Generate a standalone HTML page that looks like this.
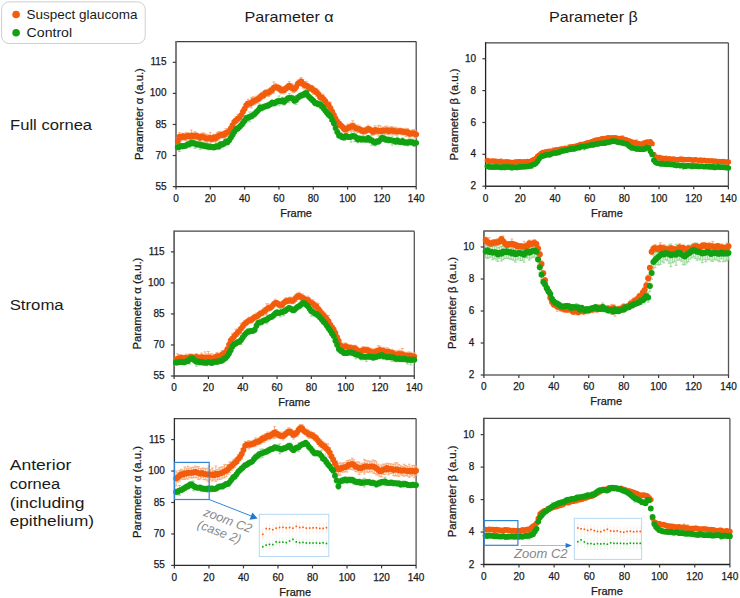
<!DOCTYPE html>
<html><head><meta charset="utf-8"><title>Parameter alpha and beta</title>
<style>
html,body{margin:0;padding:0;background:#fff;width:740px;height:598px;overflow:hidden;position:relative;font-family:"Liberation Sans", sans-serif;}
svg text{font-family:"Liberation Sans", sans-serif;}
</style></head><body>
<svg width="740" height="598" viewBox="0 0 740 598" style="position:absolute;left:0;top:0"><rect x="1.6" y="1.9" width="143.6" height="41.6" rx="7.5" ry="7.5" fill="#fff" stroke="#cfcfcf" stroke-width="1"/><circle cx="16.1" cy="14.5" r="3.8" fill="#f25c0c"/><circle cx="16.1" cy="32.8" r="3.8" fill="#11a011"/><text x="26.6" y="18.6" font-size="13" text-anchor="start" fill="#1a1a1a" textLength="110.8" lengthAdjust="spacingAndGlyphs">Suspect glaucoma</text><text x="26.6" y="37.1" font-size="13" text-anchor="start" fill="#1a1a1a" textLength="45.5" lengthAdjust="spacingAndGlyphs">Control</text><text x="244.4" y="22.3" font-size="15" text-anchor="start" fill="#1a1a1a" textLength="89.2" lengthAdjust="spacingAndGlyphs">Parameter α</text><text x="549.1" y="21.9" font-size="15" text-anchor="start" fill="#1a1a1a" textLength="88.7" lengthAdjust="spacingAndGlyphs">Parameter β</text><text x="10.1" y="130.4" font-size="15.5" text-anchor="start" fill="#1a1a1a" textLength="82" lengthAdjust="spacingAndGlyphs">Full cornea</text><text x="9.7" y="309.8" font-size="15.5" text-anchor="start" fill="#1a1a1a" textLength="54" lengthAdjust="spacingAndGlyphs">Stroma</text><text x="9.7" y="470.0" font-size="15.5" text-anchor="start" fill="#1a1a1a" textLength="61.6" lengthAdjust="spacingAndGlyphs">Anterior</text><text x="9.7" y="488.9" font-size="15.5" text-anchor="start" fill="#1a1a1a" textLength="50.5" lengthAdjust="spacingAndGlyphs">cornea</text><text x="9.7" y="507.6" font-size="15.5" text-anchor="start" fill="#1a1a1a" textLength="74.7" lengthAdjust="spacingAndGlyphs">(including</text><text x="9.7" y="525.9" font-size="15.5" text-anchor="start" fill="#1a1a1a" textLength="84.3" lengthAdjust="spacingAndGlyphs">epithelium)</text><line x1="176.00" y1="41.60" x2="416.20" y2="41.60" stroke="#404040" stroke-width="1.4"/><line x1="416.20" y1="41.60" x2="416.20" y2="186.60" stroke="#505050" stroke-width="1.3"/><line x1="176.00" y1="41.00" x2="176.00" y2="187.20" stroke="#707070" stroke-width="1.8"/><line x1="176.00" y1="186.60" x2="416.20" y2="186.60" stroke="#262626" stroke-width="1.3"/><line x1="172.80" y1="186.60" x2="176.00" y2="186.60" stroke="#3a3a3a" stroke-width="1.2"/><text x="166.5" y="189.6" font-size="10" text-anchor="end" fill="#1a1a1a" stroke="#1a1a1a" stroke-width="0.25">55</text><line x1="172.80" y1="155.53" x2="176.00" y2="155.53" stroke="#3a3a3a" stroke-width="1.2"/><text x="166.5" y="158.5" font-size="10" text-anchor="end" fill="#1a1a1a" stroke="#1a1a1a" stroke-width="0.25">70</text><line x1="172.80" y1="124.46" x2="176.00" y2="124.46" stroke="#3a3a3a" stroke-width="1.2"/><text x="166.5" y="127.5" font-size="10" text-anchor="end" fill="#1a1a1a" stroke="#1a1a1a" stroke-width="0.25">85</text><line x1="172.80" y1="93.39" x2="176.00" y2="93.39" stroke="#3a3a3a" stroke-width="1.2"/><text x="166.5" y="96.4" font-size="10" text-anchor="end" fill="#1a1a1a" stroke="#1a1a1a" stroke-width="0.25">100</text><line x1="172.80" y1="62.31" x2="176.00" y2="62.31" stroke="#3a3a3a" stroke-width="1.2"/><text x="166.5" y="65.3" font-size="10" text-anchor="end" fill="#1a1a1a" stroke="#1a1a1a" stroke-width="0.25">115</text><line x1="176.00" y1="186.60" x2="176.00" y2="189.60" stroke="#3a3a3a" stroke-width="1.2"/><text x="176.0" y="201.9" font-size="10" text-anchor="middle" fill="#1a1a1a" stroke="#1a1a1a" stroke-width="0.25">0</text><line x1="210.31" y1="186.60" x2="210.31" y2="189.60" stroke="#3a3a3a" stroke-width="1.2"/><text x="210.3" y="201.9" font-size="10" text-anchor="middle" fill="#1a1a1a" stroke="#1a1a1a" stroke-width="0.25">20</text><line x1="244.63" y1="186.60" x2="244.63" y2="189.60" stroke="#3a3a3a" stroke-width="1.2"/><text x="244.6" y="201.9" font-size="10" text-anchor="middle" fill="#1a1a1a" stroke="#1a1a1a" stroke-width="0.25">40</text><line x1="278.94" y1="186.60" x2="278.94" y2="189.60" stroke="#3a3a3a" stroke-width="1.2"/><text x="278.9" y="201.9" font-size="10" text-anchor="middle" fill="#1a1a1a" stroke="#1a1a1a" stroke-width="0.25">60</text><line x1="313.26" y1="186.60" x2="313.26" y2="189.60" stroke="#3a3a3a" stroke-width="1.2"/><text x="313.3" y="201.9" font-size="10" text-anchor="middle" fill="#1a1a1a" stroke="#1a1a1a" stroke-width="0.25">80</text><line x1="347.57" y1="186.60" x2="347.57" y2="189.60" stroke="#3a3a3a" stroke-width="1.2"/><text x="347.6" y="201.9" font-size="10" text-anchor="middle" fill="#1a1a1a" stroke="#1a1a1a" stroke-width="0.25">100</text><line x1="381.89" y1="186.60" x2="381.89" y2="189.60" stroke="#3a3a3a" stroke-width="1.2"/><text x="381.9" y="201.9" font-size="10" text-anchor="middle" fill="#1a1a1a" stroke="#1a1a1a" stroke-width="0.25">120</text><line x1="416.20" y1="186.60" x2="416.20" y2="189.60" stroke="#3a3a3a" stroke-width="1.2"/><text x="416.2" y="201.9" font-size="10" text-anchor="middle" fill="#1a1a1a" stroke="#1a1a1a" stroke-width="0.25">140</text><text x="296.1" y="217.0" font-size="11" text-anchor="middle" fill="#1a1a1a" stroke="#1a1a1a" stroke-width="0.25">Frame</text><text x="0" y="0" font-size="11.3" text-anchor="middle" fill="#1a1a1a" stroke="#1a1a1a" stroke-width="0.25" transform="translate(143.0,114.1) rotate(-90)">Parameter α (a.u.)</text><path d="M177.72 137.84V144.65M176.32 137.84h2.8M176.32 144.65h2.8M179.43 132.65V140.85M178.03 132.65h2.8M178.03 140.85h2.8M181.15 134.03V141.13M179.75 134.03h2.8M179.75 141.13h2.8M182.86 133.25V139.26M181.46 133.25h2.8M181.46 139.26h2.8M184.58 133.64V140.39M183.18 133.64h2.8M183.18 140.39h2.8M186.29 132.45V140.59M184.89 132.45h2.8M184.89 140.59h2.8M188.01 132.93V138.75M186.61 132.93h2.8M186.61 138.75h2.8M189.73 133.03V140.32M188.33 133.03h2.8M188.33 140.32h2.8M191.44 130.01V141.33M190.04 130.01h2.8M190.04 141.33h2.8M193.16 132.76V140.04M191.76 132.76h2.8M191.76 140.04h2.8M194.87 131.60V139.85M193.47 131.60h2.8M193.47 139.85h2.8M196.59 132.68V139.19M195.19 132.68h2.8M195.19 139.19h2.8M198.30 133.65V139.89M196.90 133.65h2.8M196.90 139.89h2.8M200.02 134.10V141.39M198.62 134.10h2.8M198.62 141.39h2.8M201.74 133.15V139.86M200.34 133.15h2.8M200.34 139.86h2.8M203.45 132.82V140.92M202.05 132.82h2.8M202.05 140.92h2.8M205.17 133.73V141.95M203.77 133.73h2.8M203.77 141.95h2.8M206.88 134.58V142.69M205.48 134.58h2.8M205.48 142.69h2.8M208.60 134.84V141.25M207.20 134.84h2.8M207.20 141.25h2.8M210.31 132.45V143.23M208.91 132.45h2.8M208.91 143.23h2.8M212.03 136.23V142.07M210.63 136.23h2.8M210.63 142.07h2.8M213.75 134.19V140.70M212.35 134.19h2.8M212.35 140.70h2.8M215.46 134.35V142.87M214.06 134.35h2.8M214.06 142.87h2.8M217.18 132.49V140.95M215.78 132.49h2.8M215.78 140.95h2.8M218.89 131.43V139.94M217.49 131.43h2.8M217.49 139.94h2.8M220.61 131.71V138.11M219.21 131.71h2.8M219.21 138.11h2.8M222.32 131.44V137.77M220.92 131.44h2.8M220.92 137.77h2.8M224.04 131.16V138.71M222.64 131.16h2.8M222.64 138.71h2.8M225.76 128.80V136.98M224.36 128.80h2.8M224.36 136.98h2.8M227.47 128.86V136.50M226.07 128.86h2.8M226.07 136.50h2.8M229.19 127.91V133.91M227.79 127.91h2.8M227.79 133.91h2.8M230.90 123.86V132.24M229.50 123.86h2.8M229.50 132.24h2.8M232.62 121.14V129.06M231.22 121.14h2.8M231.22 129.06h2.8M234.33 118.68V124.96M232.93 118.68h2.8M232.93 124.96h2.8M236.05 116.98V123.69M234.65 116.98h2.8M234.65 123.69h2.8M237.77 114.41V122.97M236.37 114.41h2.8M236.37 122.97h2.8M239.48 114.16V121.08M238.08 114.16h2.8M238.08 121.08h2.8M241.20 111.17V119.02M239.80 111.17h2.8M239.80 119.02h2.8M242.91 108.57V114.69M241.51 108.57h2.8M241.51 114.69h2.8M244.63 104.59V112.96M243.23 104.59h2.8M243.23 112.96h2.8M246.34 102.02V108.20M244.94 102.02h2.8M244.94 108.20h2.8M248.06 99.19V107.77M246.66 99.19h2.8M246.66 107.77h2.8M249.78 100.30V107.07M248.38 100.30h2.8M248.38 107.07h2.8M251.49 97.64V107.78M250.09 97.64h2.8M250.09 107.78h2.8M253.21 96.74V105.29M251.81 96.74h2.8M251.81 105.29h2.8M254.92 97.22V104.50M253.52 97.22h2.8M253.52 104.50h2.8M256.64 96.02V103.03M255.24 96.02h2.8M255.24 103.03h2.8M258.35 94.92V103.06M256.95 94.92h2.8M256.95 103.06h2.8M260.07 94.22V100.70M258.67 94.22h2.8M258.67 100.70h2.8M261.79 92.12V98.57M260.39 92.12h2.8M260.39 98.57h2.8M263.50 92.24V98.75M262.10 92.24h2.8M262.10 98.75h2.8M265.22 89.82V95.95M263.82 89.82h2.8M263.82 95.95h2.8M266.93 89.41V96.18M265.53 89.41h2.8M265.53 96.18h2.8M268.65 89.06V96.50M267.25 89.06h2.8M267.25 96.50h2.8M270.36 87.39V94.37M268.96 87.39h2.8M268.96 94.37h2.8M272.08 86.52V93.72M270.68 86.52h2.8M270.68 93.72h2.8M273.80 81.90V93.17M272.40 81.90h2.8M272.40 93.17h2.8M275.51 83.60V90.63M274.11 83.60h2.8M274.11 90.63h2.8M277.23 84.46V90.24M275.83 84.46h2.8M275.83 90.24h2.8M278.94 85.04V91.30M277.54 85.04h2.8M277.54 91.30h2.8M280.66 86.05V93.90M279.26 86.05h2.8M279.26 93.90h2.8M282.37 86.71V93.41M280.97 86.71h2.8M280.97 93.41h2.8M284.09 86.54V93.90M282.69 86.54h2.8M282.69 93.90h2.8M285.81 85.58V91.64M284.41 85.58h2.8M284.41 91.64h2.8M287.52 83.94V90.42M286.12 83.94h2.8M286.12 90.42h2.8M289.24 81.54V89.52M287.84 81.54h2.8M287.84 89.52h2.8M290.95 83.46V90.84M289.55 83.46h2.8M289.55 90.84h2.8M292.67 84.42V92.81M291.27 84.42h2.8M291.27 92.81h2.8M294.38 85.17V92.70M292.98 85.17h2.8M292.98 92.70h2.8M296.10 83.44V90.68M294.70 83.44h2.8M294.70 90.68h2.8M297.82 80.04V87.10M296.42 80.04h2.8M296.42 87.10h2.8M299.53 78.99V86.13M298.13 78.99h2.8M298.13 86.13h2.8M301.25 77.57V85.34M299.85 77.57h2.8M299.85 85.34h2.8M302.96 79.66V88.14M301.56 79.66h2.8M301.56 88.14h2.8M304.68 81.63V89.00M303.28 81.63h2.8M303.28 89.00h2.8M306.39 81.32V89.50M304.99 81.32h2.8M304.99 89.50h2.8M308.11 83.58V89.69M306.71 83.58h2.8M306.71 89.69h2.8M309.83 85.25V91.22M308.43 85.25h2.8M308.43 91.22h2.8M311.54 85.17V91.14M310.14 85.17h2.8M310.14 91.14h2.8M313.26 86.26V94.28M311.86 86.26h2.8M311.86 94.28h2.8M314.97 87.81V94.02M313.57 87.81h2.8M313.57 94.02h2.8M316.69 88.69V96.35M315.29 88.69h2.8M315.29 96.35h2.8M318.40 89.97V98.27M317.00 89.97h2.8M317.00 98.27h2.8M320.12 94.05V100.44M318.72 94.05h2.8M318.72 100.44h2.8M321.84 94.02V100.93M320.44 94.02h2.8M320.44 100.93h2.8M323.55 94.92V103.53M322.15 94.92h2.8M322.15 103.53h2.8M325.27 97.99V104.21M323.87 97.99h2.8M323.87 104.21h2.8M326.98 100.68V107.92M325.58 100.68h2.8M325.58 107.92h2.8M328.70 101.80V108.12M327.30 101.80h2.8M327.30 108.12h2.8M330.41 102.20V114.04M329.01 102.20h2.8M329.01 114.04h2.8M332.13 107.65V115.00M330.73 107.65h2.8M330.73 115.00h2.8M333.85 112.09V117.90M332.45 112.09h2.8M332.45 117.90h2.8M335.56 114.60V122.15M334.16 114.60h2.8M334.16 122.15h2.8M337.28 119.05V124.99M335.88 119.05h2.8M335.88 124.99h2.8M338.99 119.40V127.43M337.59 119.40h2.8M337.59 127.43h2.8M340.71 122.31V128.37M339.31 122.31h2.8M339.31 128.37h2.8M342.42 123.94V129.82M341.02 123.94h2.8M341.02 129.82h2.8M344.14 125.81V132.35M342.74 125.81h2.8M342.74 132.35h2.8M345.86 126.03V133.01M344.46 126.03h2.8M344.46 133.01h2.8M347.57 124.14V132.26M346.17 124.14h2.8M346.17 132.26h2.8M349.29 124.31V130.50M347.89 124.31h2.8M347.89 130.50h2.8M351.00 122.96V130.36M349.60 122.96h2.8M349.60 130.36h2.8M352.72 120.80V130.82M351.32 120.80h2.8M351.32 130.82h2.8M354.43 123.20V130.94M353.03 123.20h2.8M353.03 130.94h2.8M356.15 125.38V131.35M354.75 125.38h2.8M354.75 131.35h2.8M357.87 125.00V132.58M356.47 125.00h2.8M356.47 132.58h2.8M359.58 126.05V132.05M358.18 126.05h2.8M358.18 132.05h2.8M361.30 127.53V133.49M359.90 127.53h2.8M359.90 133.49h2.8M363.01 127.51V134.58M361.61 127.51h2.8M361.61 134.58h2.8M364.73 127.27V134.62M363.33 127.27h2.8M363.33 134.62h2.8M366.44 126.99V133.52M365.04 126.99h2.8M365.04 133.52h2.8M368.16 125.17V132.45M366.76 125.17h2.8M366.76 132.45h2.8M369.88 126.50V132.58M368.48 126.50h2.8M368.48 132.58h2.8M371.59 127.87V133.77M370.19 127.87h2.8M370.19 133.77h2.8M373.31 128.57V135.23M371.91 128.57h2.8M371.91 135.23h2.8M375.02 125.87V133.82M373.62 125.87h2.8M373.62 133.82h2.8M376.74 127.13V134.33M375.34 127.13h2.8M375.34 134.33h2.8M378.45 125.26V136.02M377.05 125.26h2.8M377.05 136.02h2.8M380.17 125.78V136.26M378.77 125.78h2.8M378.77 136.26h2.8M381.89 127.13V135.00M380.49 127.13h2.8M380.49 135.00h2.8M383.60 127.25V133.56M382.20 127.25h2.8M382.20 133.56h2.8M385.32 126.34V134.79M383.92 126.34h2.8M383.92 134.79h2.8M387.03 126.07V134.18M385.63 126.07h2.8M385.63 134.18h2.8M388.75 127.74V134.93M387.35 127.74h2.8M387.35 134.93h2.8M390.46 126.89V133.79M389.06 126.89h2.8M389.06 133.79h2.8M392.18 126.65V134.39M390.78 126.65h2.8M390.78 134.39h2.8M393.90 127.60V134.35M392.50 127.60h2.8M392.50 134.35h2.8M395.61 127.15V134.95M394.21 127.15h2.8M394.21 134.95h2.8M397.33 128.11V135.04M395.93 128.11h2.8M395.93 135.04h2.8M399.04 128.21V134.13M397.64 128.21h2.8M397.64 134.13h2.8M400.76 128.25V134.22M399.36 128.25h2.8M399.36 134.22h2.8M402.47 128.46V134.96M401.07 128.46h2.8M401.07 134.96h2.8M404.19 128.78V134.78M402.79 128.78h2.8M402.79 134.78h2.8M405.91 128.34V136.61M404.51 128.34h2.8M404.51 136.61h2.8M407.62 128.68V135.25M406.22 128.68h2.8M406.22 135.25h2.8M409.34 130.53V137.14M407.94 130.53h2.8M407.94 137.14h2.8M411.05 130.46V136.67M409.65 130.46h2.8M409.65 136.67h2.8M412.77 129.81V136.32M411.37 129.81h2.8M411.37 136.32h2.8M414.48 129.42V137.98M413.08 129.42h2.8M413.08 137.98h2.8M416.20 131.09V137.55M414.80 131.09h2.8M414.80 137.55h2.8" stroke="#f8a877" stroke-width="0.9" fill="none"/><path d="M177.72 144.61V149.90M176.32 144.61h2.8M176.32 149.90h2.8M179.43 142.41V151.51M178.03 142.41h2.8M178.03 151.51h2.8M181.15 143.58V148.29M179.75 143.58h2.8M179.75 148.29h2.8M182.86 143.68V148.80M181.46 143.68h2.8M181.46 148.80h2.8M184.58 143.42V148.46M183.18 143.42h2.8M183.18 148.46h2.8M186.29 142.55V148.18M184.89 142.55h2.8M184.89 148.18h2.8M188.01 141.54V146.85M186.61 141.54h2.8M186.61 146.85h2.8M189.73 140.88V147.34M188.33 140.88h2.8M188.33 147.34h2.8M191.44 139.64V145.53M190.04 139.64h2.8M190.04 145.53h2.8M193.16 139.79V146.38M191.76 139.79h2.8M191.76 146.38h2.8M194.87 138.28V148.37M193.47 138.28h2.8M193.47 148.37h2.8M196.59 141.38V147.50M195.19 141.38h2.8M195.19 147.50h2.8M198.30 141.27V147.44M196.90 141.27h2.8M196.90 147.44h2.8M200.02 140.21V149.33M198.62 140.21h2.8M198.62 149.33h2.8M201.74 142.13V148.69M200.34 142.13h2.8M200.34 148.69h2.8M203.45 142.64V148.18M202.05 142.64h2.8M202.05 148.18h2.8M205.17 143.60V148.75M203.77 143.60h2.8M203.77 148.75h2.8M206.88 142.87V149.54M205.48 142.87h2.8M205.48 149.54h2.8M208.60 143.76V149.71M207.20 143.76h2.8M207.20 149.71h2.8M210.31 143.86V149.59M208.91 143.86h2.8M208.91 149.59h2.8M212.03 144.57V149.43M210.63 144.57h2.8M210.63 149.43h2.8M213.75 144.98V149.93M212.35 144.98h2.8M212.35 149.93h2.8M215.46 143.94V149.54M214.06 143.94h2.8M214.06 149.54h2.8M217.18 142.92V149.43M215.78 142.92h2.8M215.78 149.43h2.8M218.89 143.81V149.30M217.49 143.81h2.8M217.49 149.30h2.8M220.61 141.78V146.69M219.21 141.78h2.8M219.21 146.69h2.8M222.32 141.86V147.11M220.92 141.86h2.8M220.92 147.11h2.8M224.04 141.09V146.10M222.64 141.09h2.8M222.64 146.10h2.8M225.76 138.89V144.64M224.36 138.89h2.8M224.36 144.64h2.8M227.47 139.07V145.23M226.07 139.07h2.8M226.07 145.23h2.8M229.19 137.46V142.87M227.79 137.46h2.8M227.79 142.87h2.8M230.90 134.89V140.21M229.50 134.89h2.8M229.50 140.21h2.8M232.62 132.42V137.04M231.22 132.42h2.8M231.22 137.04h2.8M234.33 128.53V135.18M232.93 128.53h2.8M232.93 135.18h2.8M236.05 126.33V131.94M234.65 126.33h2.8M234.65 131.94h2.8M237.77 125.28V131.69M236.37 125.28h2.8M236.37 131.69h2.8M239.48 124.33V129.42M238.08 124.33h2.8M238.08 129.42h2.8M241.20 122.40V127.77M239.80 122.40h2.8M239.80 127.77h2.8M242.91 119.53V126.14M241.51 119.53h2.8M241.51 126.14h2.8M244.63 115.49V125.92M243.23 115.49h2.8M243.23 125.92h2.8M246.34 115.82V120.38M244.94 115.82h2.8M244.94 120.38h2.8M248.06 114.51V121.00M246.66 114.51h2.8M246.66 121.00h2.8M249.78 111.91V121.70M248.38 111.91h2.8M248.38 121.70h2.8M251.49 113.57V118.93M250.09 113.57h2.8M250.09 118.93h2.8M253.21 111.68V118.01M251.81 111.68h2.8M251.81 118.01h2.8M254.92 110.47V117.13M253.52 110.47h2.8M253.52 117.13h2.8M256.64 109.45V114.18M255.24 109.45h2.8M255.24 114.18h2.8M258.35 107.23V112.88M256.95 107.23h2.8M256.95 112.88h2.8M260.07 104.13V110.72M258.67 104.13h2.8M258.67 110.72h2.8M261.79 105.11V111.04M260.39 105.11h2.8M260.39 111.04h2.8M263.50 104.18V109.69M262.10 104.18h2.8M262.10 109.69h2.8M265.22 104.13V108.70M263.82 104.13h2.8M263.82 108.70h2.8M266.93 103.27V108.27M265.53 103.27h2.8M265.53 108.27h2.8M268.65 102.27V108.19M267.25 102.27h2.8M267.25 108.19h2.8M270.36 101.86V106.63M268.96 101.86h2.8M268.96 106.63h2.8M272.08 99.73V105.63M270.68 99.73h2.8M270.68 105.63h2.8M273.80 101.03V105.77M272.40 101.03h2.8M272.40 105.77h2.8M275.51 99.78V105.43M274.11 99.78h2.8M274.11 105.43h2.8M277.23 98.78V104.13M275.83 98.78h2.8M275.83 104.13h2.8M278.94 95.97V105.80M277.54 95.97h2.8M277.54 105.80h2.8M280.66 98.75V103.91M279.26 98.75h2.8M279.26 103.91h2.8M282.37 97.17V103.80M280.97 97.17h2.8M280.97 103.80h2.8M284.09 98.68V105.14M282.69 98.68h2.8M282.69 105.14h2.8M285.81 97.57V102.57M284.41 97.57h2.8M284.41 102.57h2.8M287.52 95.39V102.02M286.12 95.39h2.8M286.12 102.02h2.8M289.24 93.41V102.58M287.84 93.41h2.8M287.84 102.58h2.8M290.95 95.06V100.66M289.55 95.06h2.8M289.55 100.66h2.8M292.67 95.67V101.10M291.27 95.67h2.8M291.27 101.10h2.8M294.38 97.83V103.81M292.98 97.83h2.8M292.98 103.81h2.8M296.10 95.46V104.44M294.70 95.46h2.8M294.70 104.44h2.8M297.82 95.15V100.38M296.42 95.15h2.8M296.42 100.38h2.8M299.53 93.24V99.25M298.13 93.24h2.8M298.13 99.25h2.8M301.25 92.31V98.57M299.85 92.31h2.8M299.85 98.57h2.8M302.96 92.14V97.75M301.56 92.14h2.8M301.56 97.75h2.8M304.68 90.36V97.01M303.28 90.36h2.8M303.28 97.01h2.8M306.39 89.79V96.11M304.99 89.79h2.8M304.99 96.11h2.8M308.11 93.30V98.27M306.71 93.30h2.8M306.71 98.27h2.8M309.83 94.99V100.13M308.43 94.99h2.8M308.43 100.13h2.8M311.54 96.40V101.99M310.14 96.40h2.8M310.14 101.99h2.8M313.26 98.27V103.25M311.86 98.27h2.8M311.86 103.25h2.8M314.97 100.03V106.00M313.57 100.03h2.8M313.57 106.00h2.8M316.69 100.67V105.48M315.29 100.67h2.8M315.29 105.48h2.8M318.40 101.91V106.87M317.00 101.91h2.8M317.00 106.87h2.8M320.12 99.84V108.64M318.72 99.84h2.8M318.72 108.64h2.8M321.84 103.74V108.35M320.44 103.74h2.8M320.44 108.35h2.8M323.55 104.89V111.38M322.15 104.89h2.8M322.15 111.38h2.8M325.27 107.55V113.67M323.87 107.55h2.8M323.87 113.67h2.8M326.98 109.43V116.00M325.58 109.43h2.8M325.58 116.00h2.8M328.70 112.30V117.20M327.30 112.30h2.8M327.30 117.20h2.8M330.41 111.28V121.43M329.01 111.28h2.8M329.01 121.43h2.8M332.13 116.80V122.77M330.73 116.80h2.8M330.73 122.77h2.8M333.85 120.53V125.84M332.45 120.53h2.8M332.45 125.84h2.8M335.56 123.55V132.40M334.16 123.55h2.8M334.16 132.40h2.8M337.28 129.43V134.53M335.88 129.43h2.8M335.88 134.53h2.8M338.99 132.17V138.79M337.59 132.17h2.8M337.59 138.79h2.8M340.71 132.23V138.87M339.31 132.23h2.8M339.31 138.87h2.8M342.42 134.56V139.84M341.02 134.56h2.8M341.02 139.84h2.8M344.14 134.22V140.54M342.74 134.22h2.8M342.74 140.54h2.8M345.86 133.68V138.27M344.46 133.68h2.8M344.46 138.27h2.8M347.57 134.11V139.42M346.17 134.11h2.8M346.17 139.42h2.8M349.29 134.54V139.46M347.89 134.54h2.8M347.89 139.46h2.8M351.00 131.61V142.10M349.60 131.61h2.8M349.60 142.10h2.8M352.72 133.14V138.54M351.32 133.14h2.8M351.32 138.54h2.8M354.43 131.37V141.57M353.03 131.37h2.8M353.03 141.57h2.8M356.15 133.04V141.60M354.75 133.04h2.8M354.75 141.60h2.8M357.87 136.33V142.87M356.47 136.33h2.8M356.47 142.87h2.8M359.58 135.63V141.79M358.18 135.63h2.8M358.18 141.79h2.8M361.30 136.95V142.19M359.90 136.95h2.8M359.90 142.19h2.8M363.01 135.66V142.28M361.61 135.66h2.8M361.61 142.28h2.8M364.73 136.91V141.98M363.33 136.91h2.8M363.33 141.98h2.8M366.44 137.06V142.25M365.04 137.06h2.8M365.04 142.25h2.8M368.16 135.65V140.14M366.76 135.65h2.8M366.76 140.14h2.8M369.88 136.63V143.16M368.48 136.63h2.8M368.48 143.16h2.8M371.59 134.80V145.39M370.19 134.80h2.8M370.19 145.39h2.8M373.31 139.03V144.04M371.91 139.03h2.8M371.91 144.04h2.8M375.02 139.35V145.98M373.62 139.35h2.8M373.62 145.98h2.8M376.74 138.74V144.08M375.34 138.74h2.8M375.34 144.08h2.8M378.45 138.85V144.30M377.05 138.85h2.8M377.05 144.30h2.8M380.17 136.52V143.08M378.77 136.52h2.8M378.77 143.08h2.8M381.89 134.80V141.07M380.49 134.80h2.8M380.49 141.07h2.8M383.60 134.91V141.23M382.20 134.91h2.8M382.20 141.23h2.8M385.32 136.47V142.31M383.92 136.47h2.8M383.92 142.31h2.8M387.03 137.17V142.36M385.63 137.17h2.8M385.63 142.36h2.8M388.75 136.83V143.06M387.35 136.83h2.8M387.35 143.06h2.8M390.46 137.60V142.53M389.06 137.60h2.8M389.06 142.53h2.8M392.18 136.03V145.07M390.78 136.03h2.8M390.78 145.07h2.8M393.90 138.34V142.90M392.50 138.34h2.8M392.50 142.90h2.8M395.61 139.08V144.29M394.21 139.08h2.8M394.21 144.29h2.8M397.33 137.06V143.52M395.93 137.06h2.8M395.93 143.52h2.8M399.04 139.22V144.29M397.64 139.22h2.8M397.64 144.29h2.8M400.76 139.70V144.39M399.36 139.70h2.8M399.36 144.39h2.8M402.47 137.89V143.96M401.07 137.89h2.8M401.07 143.96h2.8M404.19 140.04V145.05M402.79 140.04h2.8M402.79 145.05h2.8M405.91 139.39V145.26M404.51 139.39h2.8M404.51 145.26h2.8M407.62 139.76V145.92M406.22 139.76h2.8M406.22 145.92h2.8M409.34 138.92V144.89M407.94 138.92h2.8M407.94 144.89h2.8M411.05 139.01V145.38M409.65 139.01h2.8M409.65 145.38h2.8M412.77 139.43V145.18M411.37 139.43h2.8M411.37 145.18h2.8M414.48 140.41V146.54M413.08 140.41h2.8M413.08 146.54h2.8M416.20 140.29V145.33M414.80 140.29h2.8M414.80 145.33h2.8" stroke="#8fd38f" stroke-width="0.9" fill="none"/><g fill="#f25c0c"><circle cx="177.72" cy="141.25" r="2.9"/><circle cx="179.43" cy="136.75" r="2.9"/><circle cx="181.15" cy="137.58" r="2.9"/><circle cx="182.86" cy="136.25" r="2.9"/><circle cx="184.58" cy="137.01" r="2.9"/><circle cx="186.29" cy="136.52" r="2.9"/><circle cx="188.01" cy="135.84" r="2.9"/><circle cx="189.73" cy="136.68" r="2.9"/><circle cx="191.44" cy="135.67" r="2.9"/><circle cx="193.16" cy="136.40" r="2.9"/><circle cx="194.87" cy="135.73" r="2.9"/><circle cx="196.59" cy="135.94" r="2.9"/><circle cx="198.30" cy="136.77" r="2.9"/><circle cx="200.02" cy="137.74" r="2.9"/><circle cx="201.74" cy="136.51" r="2.9"/><circle cx="203.45" cy="136.87" r="2.9"/><circle cx="205.17" cy="137.84" r="2.9"/><circle cx="206.88" cy="138.63" r="2.9"/><circle cx="208.60" cy="138.05" r="2.9"/><circle cx="210.31" cy="137.84" r="2.9"/><circle cx="212.03" cy="139.15" r="2.9"/><circle cx="213.75" cy="137.44" r="2.9"/><circle cx="215.46" cy="138.61" r="2.9"/><circle cx="217.18" cy="136.72" r="2.9"/><circle cx="218.89" cy="135.68" r="2.9"/><circle cx="220.61" cy="134.91" r="2.9"/><circle cx="222.32" cy="134.61" r="2.9"/><circle cx="224.04" cy="134.94" r="2.9"/><circle cx="225.76" cy="132.89" r="2.9"/><circle cx="227.47" cy="132.68" r="2.9"/><circle cx="229.19" cy="130.91" r="2.9"/><circle cx="230.90" cy="128.05" r="2.9"/><circle cx="232.62" cy="125.10" r="2.9"/><circle cx="234.33" cy="121.82" r="2.9"/><circle cx="236.05" cy="120.33" r="2.9"/><circle cx="237.77" cy="118.69" r="2.9"/><circle cx="239.48" cy="117.62" r="2.9"/><circle cx="241.20" cy="115.09" r="2.9"/><circle cx="242.91" cy="111.63" r="2.9"/><circle cx="244.63" cy="108.77" r="2.9"/><circle cx="246.34" cy="105.11" r="2.9"/><circle cx="248.06" cy="103.48" r="2.9"/><circle cx="249.78" cy="103.68" r="2.9"/><circle cx="251.49" cy="102.71" r="2.9"/><circle cx="253.21" cy="101.02" r="2.9"/><circle cx="254.92" cy="100.86" r="2.9"/><circle cx="256.64" cy="99.53" r="2.9"/><circle cx="258.35" cy="98.99" r="2.9"/><circle cx="260.07" cy="97.46" r="2.9"/><circle cx="261.79" cy="95.34" r="2.9"/><circle cx="263.50" cy="95.49" r="2.9"/><circle cx="265.22" cy="92.89" r="2.9"/><circle cx="266.93" cy="92.79" r="2.9"/><circle cx="268.65" cy="92.78" r="2.9"/><circle cx="270.36" cy="90.88" r="2.9"/><circle cx="272.08" cy="90.12" r="2.9"/><circle cx="273.80" cy="87.54" r="2.9"/><circle cx="275.51" cy="87.11" r="2.9"/><circle cx="277.23" cy="87.35" r="2.9"/><circle cx="278.94" cy="88.17" r="2.9"/><circle cx="280.66" cy="89.98" r="2.9"/><circle cx="282.37" cy="90.06" r="2.9"/><circle cx="284.09" cy="90.22" r="2.9"/><circle cx="285.81" cy="88.61" r="2.9"/><circle cx="287.52" cy="87.18" r="2.9"/><circle cx="289.24" cy="85.53" r="2.9"/><circle cx="290.95" cy="87.15" r="2.9"/><circle cx="292.67" cy="88.62" r="2.9"/><circle cx="294.38" cy="88.94" r="2.9"/><circle cx="296.10" cy="87.06" r="2.9"/><circle cx="297.82" cy="83.57" r="2.9"/><circle cx="299.53" cy="82.56" r="2.9"/><circle cx="301.25" cy="81.45" r="2.9"/><circle cx="302.96" cy="83.90" r="2.9"/><circle cx="304.68" cy="85.31" r="2.9"/><circle cx="306.39" cy="85.41" r="2.9"/><circle cx="308.11" cy="86.64" r="2.9"/><circle cx="309.83" cy="88.23" r="2.9"/><circle cx="311.54" cy="88.15" r="2.9"/><circle cx="313.26" cy="90.27" r="2.9"/><circle cx="314.97" cy="90.92" r="2.9"/><circle cx="316.69" cy="92.52" r="2.9"/><circle cx="318.40" cy="94.12" r="2.9"/><circle cx="320.12" cy="97.24" r="2.9"/><circle cx="321.84" cy="97.48" r="2.9"/><circle cx="323.55" cy="99.23" r="2.9"/><circle cx="325.27" cy="101.10" r="2.9"/><circle cx="326.98" cy="104.30" r="2.9"/><circle cx="328.70" cy="104.96" r="2.9"/><circle cx="330.41" cy="108.12" r="2.9"/><circle cx="332.13" cy="111.33" r="2.9"/><circle cx="333.85" cy="115.00" r="2.9"/><circle cx="335.56" cy="118.38" r="2.9"/><circle cx="337.28" cy="122.02" r="2.9"/><circle cx="338.99" cy="123.42" r="2.9"/><circle cx="340.71" cy="125.34" r="2.9"/><circle cx="342.42" cy="126.88" r="2.9"/><circle cx="344.14" cy="129.08" r="2.9"/><circle cx="345.86" cy="129.52" r="2.9"/><circle cx="347.57" cy="128.20" r="2.9"/><circle cx="349.29" cy="127.41" r="2.9"/><circle cx="351.00" cy="126.66" r="2.9"/><circle cx="352.72" cy="125.81" r="2.9"/><circle cx="354.43" cy="127.07" r="2.9"/><circle cx="356.15" cy="128.36" r="2.9"/><circle cx="357.87" cy="128.79" r="2.9"/><circle cx="359.58" cy="129.05" r="2.9"/><circle cx="361.30" cy="130.51" r="2.9"/><circle cx="363.01" cy="131.05" r="2.9"/><circle cx="364.73" cy="130.94" r="2.9"/><circle cx="366.44" cy="130.26" r="2.9"/><circle cx="368.16" cy="128.81" r="2.9"/><circle cx="369.88" cy="129.54" r="2.9"/><circle cx="371.59" cy="130.82" r="2.9"/><circle cx="373.31" cy="131.90" r="2.9"/><circle cx="375.02" cy="129.85" r="2.9"/><circle cx="376.74" cy="130.73" r="2.9"/><circle cx="378.45" cy="130.64" r="2.9"/><circle cx="380.17" cy="131.02" r="2.9"/><circle cx="381.89" cy="131.06" r="2.9"/><circle cx="383.60" cy="130.41" r="2.9"/><circle cx="385.32" cy="130.57" r="2.9"/><circle cx="387.03" cy="130.12" r="2.9"/><circle cx="388.75" cy="131.33" r="2.9"/><circle cx="390.46" cy="130.34" r="2.9"/><circle cx="392.18" cy="130.52" r="2.9"/><circle cx="393.90" cy="130.97" r="2.9"/><circle cx="395.61" cy="131.05" r="2.9"/><circle cx="397.33" cy="131.58" r="2.9"/><circle cx="399.04" cy="131.17" r="2.9"/><circle cx="400.76" cy="131.24" r="2.9"/><circle cx="402.47" cy="131.71" r="2.9"/><circle cx="404.19" cy="131.78" r="2.9"/><circle cx="405.91" cy="132.47" r="2.9"/><circle cx="407.62" cy="131.97" r="2.9"/><circle cx="409.34" cy="133.83" r="2.9"/><circle cx="411.05" cy="133.57" r="2.9"/><circle cx="412.77" cy="133.06" r="2.9"/><circle cx="414.48" cy="133.70" r="2.9"/><circle cx="416.20" cy="134.32" r="2.9"/></g><g fill="#11a011"><circle cx="177.72" cy="147.26" r="2.9"/><circle cx="179.43" cy="146.96" r="2.9"/><circle cx="181.15" cy="145.94" r="2.9"/><circle cx="182.86" cy="146.24" r="2.9"/><circle cx="184.58" cy="145.94" r="2.9"/><circle cx="186.29" cy="145.37" r="2.9"/><circle cx="188.01" cy="144.19" r="2.9"/><circle cx="189.73" cy="144.11" r="2.9"/><circle cx="191.44" cy="142.59" r="2.9"/><circle cx="193.16" cy="143.09" r="2.9"/><circle cx="194.87" cy="143.33" r="2.9"/><circle cx="196.59" cy="144.44" r="2.9"/><circle cx="198.30" cy="144.35" r="2.9"/><circle cx="200.02" cy="144.77" r="2.9"/><circle cx="201.74" cy="145.41" r="2.9"/><circle cx="203.45" cy="145.41" r="2.9"/><circle cx="205.17" cy="146.18" r="2.9"/><circle cx="206.88" cy="146.21" r="2.9"/><circle cx="208.60" cy="146.74" r="2.9"/><circle cx="210.31" cy="146.73" r="2.9"/><circle cx="212.03" cy="147.00" r="2.9"/><circle cx="213.75" cy="147.46" r="2.9"/><circle cx="215.46" cy="146.74" r="2.9"/><circle cx="217.18" cy="146.18" r="2.9"/><circle cx="218.89" cy="146.55" r="2.9"/><circle cx="220.61" cy="144.24" r="2.9"/><circle cx="222.32" cy="144.49" r="2.9"/><circle cx="224.04" cy="143.59" r="2.9"/><circle cx="225.76" cy="141.77" r="2.9"/><circle cx="227.47" cy="142.15" r="2.9"/><circle cx="229.19" cy="140.17" r="2.9"/><circle cx="230.90" cy="137.55" r="2.9"/><circle cx="232.62" cy="134.73" r="2.9"/><circle cx="234.33" cy="131.85" r="2.9"/><circle cx="236.05" cy="129.14" r="2.9"/><circle cx="237.77" cy="128.49" r="2.9"/><circle cx="239.48" cy="126.88" r="2.9"/><circle cx="241.20" cy="125.09" r="2.9"/><circle cx="242.91" cy="122.84" r="2.9"/><circle cx="244.63" cy="120.71" r="2.9"/><circle cx="246.34" cy="118.10" r="2.9"/><circle cx="248.06" cy="117.75" r="2.9"/><circle cx="249.78" cy="116.80" r="2.9"/><circle cx="251.49" cy="116.25" r="2.9"/><circle cx="253.21" cy="114.84" r="2.9"/><circle cx="254.92" cy="113.80" r="2.9"/><circle cx="256.64" cy="111.82" r="2.9"/><circle cx="258.35" cy="110.06" r="2.9"/><circle cx="260.07" cy="107.43" r="2.9"/><circle cx="261.79" cy="108.07" r="2.9"/><circle cx="263.50" cy="106.93" r="2.9"/><circle cx="265.22" cy="106.42" r="2.9"/><circle cx="266.93" cy="105.77" r="2.9"/><circle cx="268.65" cy="105.23" r="2.9"/><circle cx="270.36" cy="104.24" r="2.9"/><circle cx="272.08" cy="102.68" r="2.9"/><circle cx="273.80" cy="103.40" r="2.9"/><circle cx="275.51" cy="102.60" r="2.9"/><circle cx="277.23" cy="101.45" r="2.9"/><circle cx="278.94" cy="100.88" r="2.9"/><circle cx="280.66" cy="101.33" r="2.9"/><circle cx="282.37" cy="100.48" r="2.9"/><circle cx="284.09" cy="101.91" r="2.9"/><circle cx="285.81" cy="100.07" r="2.9"/><circle cx="287.52" cy="98.70" r="2.9"/><circle cx="289.24" cy="98.00" r="2.9"/><circle cx="290.95" cy="97.86" r="2.9"/><circle cx="292.67" cy="98.39" r="2.9"/><circle cx="294.38" cy="100.82" r="2.9"/><circle cx="296.10" cy="99.95" r="2.9"/><circle cx="297.82" cy="97.77" r="2.9"/><circle cx="299.53" cy="96.25" r="2.9"/><circle cx="301.25" cy="95.44" r="2.9"/><circle cx="302.96" cy="94.95" r="2.9"/><circle cx="304.68" cy="93.68" r="2.9"/><circle cx="306.39" cy="92.95" r="2.9"/><circle cx="308.11" cy="95.79" r="2.9"/><circle cx="309.83" cy="97.56" r="2.9"/><circle cx="311.54" cy="99.20" r="2.9"/><circle cx="313.26" cy="100.76" r="2.9"/><circle cx="314.97" cy="103.02" r="2.9"/><circle cx="316.69" cy="103.08" r="2.9"/><circle cx="318.40" cy="104.39" r="2.9"/><circle cx="320.12" cy="104.24" r="2.9"/><circle cx="321.84" cy="106.04" r="2.9"/><circle cx="323.55" cy="108.14" r="2.9"/><circle cx="325.27" cy="110.61" r="2.9"/><circle cx="326.98" cy="112.71" r="2.9"/><circle cx="328.70" cy="114.75" r="2.9"/><circle cx="330.41" cy="116.35" r="2.9"/><circle cx="332.13" cy="119.79" r="2.9"/><circle cx="333.85" cy="123.18" r="2.9"/><circle cx="335.56" cy="127.98" r="2.9"/><circle cx="337.28" cy="131.98" r="2.9"/><circle cx="338.99" cy="135.48" r="2.9"/><circle cx="340.71" cy="135.55" r="2.9"/><circle cx="342.42" cy="137.20" r="2.9"/><circle cx="344.14" cy="137.38" r="2.9"/><circle cx="345.86" cy="135.98" r="2.9"/><circle cx="347.57" cy="136.76" r="2.9"/><circle cx="349.29" cy="137.00" r="2.9"/><circle cx="351.00" cy="136.85" r="2.9"/><circle cx="352.72" cy="135.84" r="2.9"/><circle cx="354.43" cy="136.47" r="2.9"/><circle cx="356.15" cy="137.32" r="2.9"/><circle cx="357.87" cy="139.60" r="2.9"/><circle cx="359.58" cy="138.71" r="2.9"/><circle cx="361.30" cy="139.57" r="2.9"/><circle cx="363.01" cy="138.97" r="2.9"/><circle cx="364.73" cy="139.44" r="2.9"/><circle cx="366.44" cy="139.66" r="2.9"/><circle cx="368.16" cy="137.90" r="2.9"/><circle cx="369.88" cy="139.90" r="2.9"/><circle cx="371.59" cy="140.09" r="2.9"/><circle cx="373.31" cy="141.53" r="2.9"/><circle cx="375.02" cy="142.66" r="2.9"/><circle cx="376.74" cy="141.41" r="2.9"/><circle cx="378.45" cy="141.57" r="2.9"/><circle cx="380.17" cy="139.80" r="2.9"/><circle cx="381.89" cy="137.93" r="2.9"/><circle cx="383.60" cy="138.07" r="2.9"/><circle cx="385.32" cy="139.39" r="2.9"/><circle cx="387.03" cy="139.76" r="2.9"/><circle cx="388.75" cy="139.94" r="2.9"/><circle cx="390.46" cy="140.06" r="2.9"/><circle cx="392.18" cy="140.55" r="2.9"/><circle cx="393.90" cy="140.62" r="2.9"/><circle cx="395.61" cy="141.68" r="2.9"/><circle cx="397.33" cy="140.29" r="2.9"/><circle cx="399.04" cy="141.76" r="2.9"/><circle cx="400.76" cy="142.05" r="2.9"/><circle cx="402.47" cy="140.92" r="2.9"/><circle cx="404.19" cy="142.54" r="2.9"/><circle cx="405.91" cy="142.33" r="2.9"/><circle cx="407.62" cy="142.84" r="2.9"/><circle cx="409.34" cy="141.91" r="2.9"/><circle cx="411.05" cy="142.19" r="2.9"/><circle cx="412.77" cy="142.31" r="2.9"/><circle cx="414.48" cy="143.47" r="2.9"/><circle cx="416.20" cy="142.81" r="2.9"/></g><line x1="485.60" y1="42.80" x2="728.40" y2="42.80" stroke="#444" stroke-width="1.3"/><line x1="728.40" y1="42.80" x2="728.40" y2="186.20" stroke="#555" stroke-width="1.3"/><line x1="485.60" y1="42.20" x2="485.60" y2="186.80" stroke="#222" stroke-width="1.3"/><line x1="485.60" y1="186.20" x2="728.40" y2="186.20" stroke="#333" stroke-width="1.5"/><line x1="482.40" y1="186.20" x2="485.60" y2="186.20" stroke="#3a3a3a" stroke-width="1.2"/><text x="476.1" y="189.2" font-size="10" text-anchor="end" fill="#1a1a1a" stroke="#1a1a1a" stroke-width="0.25">2</text><line x1="482.40" y1="154.33" x2="485.60" y2="154.33" stroke="#3a3a3a" stroke-width="1.2"/><text x="476.1" y="157.3" font-size="10" text-anchor="end" fill="#1a1a1a" stroke="#1a1a1a" stroke-width="0.25">4</text><line x1="482.40" y1="122.47" x2="485.60" y2="122.47" stroke="#3a3a3a" stroke-width="1.2"/><text x="476.1" y="125.5" font-size="10" text-anchor="end" fill="#1a1a1a" stroke="#1a1a1a" stroke-width="0.25">6</text><line x1="482.40" y1="90.60" x2="485.60" y2="90.60" stroke="#3a3a3a" stroke-width="1.2"/><text x="476.1" y="93.6" font-size="10" text-anchor="end" fill="#1a1a1a" stroke="#1a1a1a" stroke-width="0.25">8</text><line x1="482.40" y1="58.73" x2="485.60" y2="58.73" stroke="#3a3a3a" stroke-width="1.2"/><text x="476.1" y="61.7" font-size="10" text-anchor="end" fill="#1a1a1a" stroke="#1a1a1a" stroke-width="0.25">10</text><line x1="485.60" y1="186.20" x2="485.60" y2="189.20" stroke="#3a3a3a" stroke-width="1.2"/><text x="485.6" y="201.5" font-size="10" text-anchor="middle" fill="#1a1a1a" stroke="#1a1a1a" stroke-width="0.25">0</text><line x1="520.29" y1="186.20" x2="520.29" y2="189.20" stroke="#3a3a3a" stroke-width="1.2"/><text x="520.3" y="201.5" font-size="10" text-anchor="middle" fill="#1a1a1a" stroke="#1a1a1a" stroke-width="0.25">20</text><line x1="554.97" y1="186.20" x2="554.97" y2="189.20" stroke="#3a3a3a" stroke-width="1.2"/><text x="555.0" y="201.5" font-size="10" text-anchor="middle" fill="#1a1a1a" stroke="#1a1a1a" stroke-width="0.25">40</text><line x1="589.66" y1="186.20" x2="589.66" y2="189.20" stroke="#3a3a3a" stroke-width="1.2"/><text x="589.7" y="201.5" font-size="10" text-anchor="middle" fill="#1a1a1a" stroke="#1a1a1a" stroke-width="0.25">60</text><line x1="624.34" y1="186.20" x2="624.34" y2="189.20" stroke="#3a3a3a" stroke-width="1.2"/><text x="624.3" y="201.5" font-size="10" text-anchor="middle" fill="#1a1a1a" stroke="#1a1a1a" stroke-width="0.25">80</text><line x1="659.03" y1="186.20" x2="659.03" y2="189.20" stroke="#3a3a3a" stroke-width="1.2"/><text x="659.0" y="201.5" font-size="10" text-anchor="middle" fill="#1a1a1a" stroke="#1a1a1a" stroke-width="0.25">100</text><line x1="693.71" y1="186.20" x2="693.71" y2="189.20" stroke="#3a3a3a" stroke-width="1.2"/><text x="693.7" y="201.5" font-size="10" text-anchor="middle" fill="#1a1a1a" stroke="#1a1a1a" stroke-width="0.25">120</text><line x1="728.40" y1="186.20" x2="728.40" y2="189.20" stroke="#3a3a3a" stroke-width="1.2"/><text x="728.4" y="201.5" font-size="10" text-anchor="middle" fill="#1a1a1a" stroke="#1a1a1a" stroke-width="0.25">140</text><text x="607.0" y="216.6" font-size="11" text-anchor="middle" fill="#1a1a1a" stroke="#1a1a1a" stroke-width="0.25">Frame</text><text x="0" y="0" font-size="11.3" text-anchor="middle" fill="#1a1a1a" stroke="#1a1a1a" stroke-width="0.25" transform="translate(458.1,114.5) rotate(-90)">Parameter β (a.u.)</text><path d="M487.33 159.20V161.85M485.93 159.20h2.8M485.93 161.85h2.8M489.07 160.06V162.42M487.67 160.06h2.8M487.67 162.42h2.8M490.80 159.95V162.32M489.40 159.95h2.8M489.40 162.32h2.8M492.54 160.04V162.09M491.14 160.04h2.8M491.14 162.09h2.8M494.27 160.25V162.26M492.87 160.25h2.8M492.87 162.26h2.8M496.01 158.66V165.07M494.61 158.66h2.8M494.61 165.07h2.8M497.74 160.35V162.88M496.34 160.35h2.8M496.34 162.88h2.8M499.47 160.14V162.76M498.07 160.14h2.8M498.07 162.76h2.8M501.21 158.76V165.18M499.81 158.76h2.8M499.81 165.18h2.8M502.94 160.70V163.11M501.54 160.70h2.8M501.54 163.11h2.8M504.68 160.82V163.65M503.28 160.82h2.8M503.28 163.65h2.8M506.41 160.21V162.96M505.01 160.21h2.8M505.01 162.96h2.8M508.15 160.63V163.25M506.75 160.63h2.8M506.75 163.25h2.8M509.88 161.22V163.33M508.48 161.22h2.8M508.48 163.33h2.8M511.61 161.16V163.55M510.21 161.16h2.8M510.21 163.55h2.8M513.35 161.07V163.87M511.95 161.07h2.8M511.95 163.87h2.8M515.08 160.49V163.17M513.68 160.49h2.8M513.68 163.17h2.8M516.82 160.95V162.93M515.42 160.95h2.8M515.42 162.93h2.8M518.55 160.38V163.02M517.15 160.38h2.8M517.15 163.02h2.8M520.29 160.27V163.05M518.89 160.27h2.8M518.89 163.05h2.8M522.02 160.83V163.54M520.62 160.83h2.8M520.62 163.54h2.8M523.75 160.57V162.97M522.35 160.57h2.8M522.35 162.97h2.8M525.49 160.89V163.01M524.09 160.89h2.8M524.09 163.01h2.8M527.22 160.20V162.61M525.82 160.20h2.8M525.82 162.61h2.8M528.96 160.73V162.68M527.56 160.73h2.8M527.56 162.68h2.8M530.69 160.23V162.31M529.29 160.23h2.8M529.29 162.31h2.8M532.43 158.81V161.39M531.03 158.81h2.8M531.03 161.39h2.8M534.16 158.33V160.41M532.76 158.33h2.8M532.76 160.41h2.8M535.89 157.34V159.37M534.49 157.34h2.8M534.49 159.37h2.8M537.63 154.93V157.46M536.23 154.93h2.8M536.23 157.46h2.8M539.36 153.63V156.39M537.96 153.63h2.8M537.96 156.39h2.8M541.10 152.22V154.70M539.70 152.22h2.8M539.70 154.70h2.8M542.83 151.51V153.53M541.43 151.51h2.8M541.43 153.53h2.8M544.57 151.04V153.57M543.17 151.04h2.8M543.17 153.57h2.8M546.30 150.44V153.13M544.90 150.44h2.8M544.90 153.13h2.8M548.03 150.07V152.94M546.63 150.07h2.8M546.63 152.94h2.8M549.77 150.07V152.34M548.37 150.07h2.8M548.37 152.34h2.8M551.50 149.99V152.33M550.10 149.99h2.8M550.10 152.33h2.8M553.24 147.57V154.20M551.84 147.57h2.8M551.84 154.20h2.8M554.97 148.86V151.56M553.57 148.86h2.8M553.57 151.56h2.8M556.71 148.47V151.00M555.31 148.47h2.8M555.31 151.00h2.8M558.44 148.43V150.91M557.04 148.43h2.8M557.04 150.91h2.8M560.17 146.53V152.75M558.77 146.53h2.8M558.77 152.75h2.8M561.91 147.95V149.90M560.51 147.95h2.8M560.51 149.90h2.8M563.64 147.45V149.97M562.24 147.45h2.8M562.24 149.97h2.8M565.38 147.10V149.51M563.98 147.10h2.8M563.98 149.51h2.8M567.11 147.44V149.49M565.71 147.44h2.8M565.71 149.49h2.8M568.85 144.60V151.15M567.45 144.60h2.8M567.45 151.15h2.8M570.58 146.09V148.02M569.18 146.09h2.8M569.18 148.02h2.8M572.31 145.64V147.66M570.91 145.64h2.8M570.91 147.66h2.8M574.05 145.39V147.52M572.65 145.39h2.8M572.65 147.52h2.8M575.78 144.90V147.39M574.38 144.90h2.8M574.38 147.39h2.8M577.52 144.52V147.04M576.12 144.52h2.8M576.12 147.04h2.8M579.25 143.89V145.93M577.85 143.89h2.8M577.85 145.93h2.8M580.99 143.46V145.61M579.59 143.46h2.8M579.59 145.61h2.8M582.72 143.52V145.53M581.32 143.52h2.8M581.32 145.53h2.8M584.45 142.49V145.24M583.05 142.49h2.8M583.05 145.24h2.8M586.19 142.12V144.43M584.79 142.12h2.8M584.79 144.43h2.8M587.92 141.77V143.70M586.52 141.77h2.8M586.52 143.70h2.8M589.66 141.46V143.92M588.26 141.46h2.8M588.26 143.92h2.8M591.39 140.35V142.89M589.99 140.35h2.8M589.99 142.89h2.8M593.13 139.86V142.68M591.73 139.86h2.8M591.73 142.68h2.8M594.86 139.46V141.62M593.46 139.46h2.8M593.46 141.62h2.8M596.59 139.05V141.01M595.19 139.05h2.8M595.19 141.01h2.8M598.33 138.67V140.98M596.93 138.67h2.8M596.93 140.98h2.8M600.06 138.40V140.38M598.66 138.40h2.8M598.66 140.38h2.8M601.80 137.75V139.68M600.40 137.75h2.8M600.40 139.68h2.8M603.53 136.99V139.82M602.13 136.99h2.8M602.13 139.82h2.8M605.27 137.60V139.71M603.87 137.60h2.8M603.87 139.71h2.8M607.00 136.86V139.27M605.60 136.86h2.8M605.60 139.27h2.8M608.73 136.38V139.08M607.33 136.38h2.8M607.33 139.08h2.8M610.47 137.17V139.38M609.07 137.17h2.8M609.07 139.38h2.8M612.20 136.74V138.70M610.80 136.74h2.8M610.80 138.70h2.8M613.94 136.53V139.20M612.54 136.53h2.8M612.54 139.20h2.8M615.67 136.84V138.77M614.27 136.84h2.8M614.27 138.77h2.8M617.41 137.17V139.80M616.01 137.17h2.8M616.01 139.80h2.8M619.14 137.12V139.76M617.74 137.12h2.8M617.74 139.76h2.8M620.87 137.43V139.56M619.47 137.43h2.8M619.47 139.56h2.8M622.61 135.60V141.74M621.21 135.60h2.8M621.21 141.74h2.8M624.34 138.27V140.51M622.94 138.27h2.8M622.94 140.51h2.8M626.08 138.46V141.05M624.68 138.46h2.8M624.68 141.05h2.8M627.81 139.39V142.00M626.41 139.39h2.8M626.41 142.00h2.8M629.55 139.63V142.08M628.15 139.63h2.8M628.15 142.08h2.8M631.28 140.54V143.22M629.88 140.54h2.8M629.88 143.22h2.8M633.01 141.11V143.28M631.61 141.11h2.8M631.61 143.28h2.8M634.75 141.40V144.24M633.35 141.40h2.8M633.35 144.24h2.8M636.48 139.67V146.43M635.08 139.67h2.8M635.08 146.43h2.8M638.22 142.43V144.60M636.82 142.43h2.8M636.82 144.60h2.8M639.95 142.71V145.35M638.55 142.71h2.8M638.55 145.35h2.8M641.69 143.36V146.00M640.29 143.36h2.8M640.29 146.00h2.8M643.42 141.89V144.65M642.02 141.89h2.8M642.02 144.65h2.8M645.15 141.51V143.66M643.75 141.51h2.8M643.75 143.66h2.8M646.89 140.70V143.22M645.49 140.70h2.8M645.49 143.22h2.8M648.62 140.94V143.50M647.22 140.94h2.8M647.22 143.50h2.8M650.36 140.55V142.92M648.96 140.55h2.8M648.96 142.92h2.8M652.09 142.37V144.96M650.69 142.37h2.8M650.69 144.96h2.8M653.83 153.31V155.65M652.43 153.31h2.8M652.43 155.65h2.8M655.56 155.80V158.27M654.16 155.80h2.8M654.16 158.27h2.8M657.29 156.36V158.49M655.89 156.36h2.8M655.89 158.49h2.8M659.03 156.55V158.55M657.63 156.55h2.8M657.63 158.55h2.8M660.76 155.41V161.47M659.36 155.41h2.8M659.36 161.47h2.8M662.50 157.20V159.22M661.10 157.20h2.8M661.10 159.22h2.8M664.23 157.69V159.94M662.83 157.69h2.8M662.83 159.94h2.8M665.97 155.79V161.74M664.57 155.79h2.8M664.57 161.74h2.8M667.70 157.82V160.41M666.30 157.82h2.8M666.30 160.41h2.8M669.43 157.47V160.06M668.03 157.47h2.8M668.03 160.06h2.8M671.17 158.39V160.37M669.77 158.39h2.8M669.77 160.37h2.8M672.90 157.87V160.14M671.50 157.87h2.8M671.50 160.14h2.8M674.64 157.88V160.58M673.24 157.88h2.8M673.24 160.58h2.8M676.37 158.67V160.65M674.97 158.67h2.8M674.97 160.65h2.8M678.11 158.32V161.12M676.71 158.32h2.8M676.71 161.12h2.8M679.84 158.26V160.28M678.44 158.26h2.8M678.44 160.28h2.8M681.57 156.33V162.36M680.17 156.33h2.8M680.17 162.36h2.8M683.31 158.18V160.91M681.91 158.18h2.8M681.91 160.91h2.8M685.04 158.42V160.95M683.64 158.42h2.8M683.64 160.95h2.8M686.78 158.36V160.89M685.38 158.36h2.8M685.38 160.89h2.8M688.51 158.46V160.48M687.11 158.46h2.8M687.11 160.48h2.8M690.25 158.29V160.94M688.85 158.29h2.8M688.85 160.94h2.8M691.98 158.94V161.16M690.58 158.94h2.8M690.58 161.16h2.8M693.71 159.27V161.21M692.31 159.27h2.8M692.31 161.21h2.8M695.45 158.50V160.70M694.05 158.50h2.8M694.05 160.70h2.8M697.18 158.95V161.23M695.78 158.95h2.8M695.78 161.23h2.8M698.92 158.94V161.79M697.52 158.94h2.8M697.52 161.79h2.8M700.65 158.54V161.27M699.25 158.54h2.8M699.25 161.27h2.8M702.39 159.69V161.64M700.99 159.69h2.8M700.99 161.64h2.8M704.12 159.04V161.37M702.72 159.04h2.8M702.72 161.37h2.8M705.85 159.58V161.83M704.45 159.58h2.8M704.45 161.83h2.8M707.59 159.57V162.00M706.19 159.57h2.8M706.19 162.00h2.8M709.32 159.59V162.34M707.92 159.59h2.8M707.92 162.34h2.8M711.06 159.47V162.18M709.66 159.47h2.8M709.66 162.18h2.8M712.79 160.07V162.00M711.39 160.07h2.8M711.39 162.00h2.8M714.53 159.96V162.61M713.13 159.96h2.8M713.13 162.61h2.8M716.26 160.31V162.24M714.86 160.31h2.8M714.86 162.24h2.8M717.99 160.38V162.78M716.59 160.38h2.8M716.59 162.78h2.8M719.73 160.48V162.58M718.33 160.48h2.8M718.33 162.58h2.8M721.46 160.51V162.77M720.06 160.51h2.8M720.06 162.77h2.8M723.20 160.34V162.51M721.80 160.34h2.8M721.80 162.51h2.8M724.93 160.92V163.12M723.53 160.92h2.8M723.53 163.12h2.8M726.67 160.74V163.33M725.27 160.74h2.8M725.27 163.33h2.8M728.40 160.93V162.96M727.00 160.93h2.8M727.00 162.96h2.8" stroke="#f8a877" stroke-width="0.9" fill="none"/><path d="M487.33 165.14V167.39M485.93 165.14h2.8M485.93 167.39h2.8M489.07 165.85V167.98M487.67 165.85h2.8M487.67 167.98h2.8M490.80 165.52V168.34M489.40 165.52h2.8M489.40 168.34h2.8M492.54 166.02V168.15M491.14 166.02h2.8M491.14 168.15h2.8M494.27 165.89V168.19M492.87 165.89h2.8M492.87 168.19h2.8M496.01 165.88V167.93M494.61 165.88h2.8M494.61 167.93h2.8M497.74 165.67V168.37M496.34 165.67h2.8M496.34 168.37h2.8M499.47 165.86V168.23M498.07 165.86h2.8M498.07 168.23h2.8M501.21 166.41V168.54M499.81 166.41h2.8M499.81 168.54h2.8M502.94 165.73V167.99M501.54 165.73h2.8M501.54 167.99h2.8M504.68 166.18V168.89M503.28 166.18h2.8M503.28 168.89h2.8M506.41 165.69V168.06M505.01 165.69h2.8M505.01 168.06h2.8M508.15 165.82V168.27M506.75 165.82h2.8M506.75 168.27h2.8M509.88 165.76V168.48M508.48 165.76h2.8M508.48 168.48h2.8M511.61 166.29V169.03M510.21 166.29h2.8M510.21 169.03h2.8M513.35 166.23V168.51M511.95 166.23h2.8M511.95 168.51h2.8M515.08 166.14V168.47M513.68 166.14h2.8M513.68 168.47h2.8M516.82 166.59V168.52M515.42 166.59h2.8M515.42 168.52h2.8M518.55 165.79V167.98M517.15 165.79h2.8M517.15 167.98h2.8M520.29 165.80V168.01M518.89 165.80h2.8M518.89 168.01h2.8M522.02 165.65V167.98M520.62 165.65h2.8M520.62 167.98h2.8M523.75 165.56V168.11M522.35 165.56h2.8M522.35 168.11h2.8M525.49 165.28V168.09M524.09 165.28h2.8M524.09 168.09h2.8M527.22 165.46V167.43M525.82 165.46h2.8M525.82 167.43h2.8M528.96 164.66V167.45M527.56 164.66h2.8M527.56 167.45h2.8M530.69 164.85V166.91M529.29 164.85h2.8M529.29 166.91h2.8M532.43 161.60V168.12M531.03 161.60h2.8M531.03 168.12h2.8M534.16 163.46V165.39M532.76 163.46h2.8M532.76 165.39h2.8M535.89 162.03V164.58M534.49 162.03h2.8M534.49 164.58h2.8M537.63 160.30V162.32M536.23 160.30h2.8M536.23 162.32h2.8M539.36 157.49V159.63M537.96 157.49h2.8M537.96 159.63h2.8M541.10 155.36V157.61M539.70 155.36h2.8M539.70 157.61h2.8M542.83 154.57V157.36M541.43 154.57h2.8M541.43 157.36h2.8M544.57 154.43V156.51M543.17 154.43h2.8M543.17 156.51h2.8M546.30 153.52V156.03M544.90 153.52h2.8M544.90 156.03h2.8M548.03 153.43V155.99M546.63 153.43h2.8M546.63 155.99h2.8M549.77 153.37V156.05M548.37 153.37h2.8M548.37 156.05h2.8M551.50 152.73V154.84M550.10 152.73h2.8M550.10 154.84h2.8M553.24 152.10V154.53M551.84 152.10h2.8M551.84 154.53h2.8M554.97 151.80V154.14M553.57 151.80h2.8M553.57 154.14h2.8M556.71 151.63V154.08M555.31 151.63h2.8M555.31 154.08h2.8M558.44 151.46V153.60M557.04 151.46h2.8M557.04 153.60h2.8M560.17 148.34V154.74M558.77 148.34h2.8M558.77 154.74h2.8M561.91 149.92V152.29M560.51 149.92h2.8M560.51 152.29h2.8M563.64 149.55V151.94M562.24 149.55h2.8M562.24 151.94h2.8M565.38 149.15V151.59M563.98 149.15h2.8M563.98 151.59h2.8M567.11 149.13V151.05M565.71 149.13h2.8M565.71 151.05h2.8M568.85 148.21V150.58M567.45 148.21h2.8M567.45 150.58h2.8M570.58 147.87V150.43M569.18 147.87h2.8M569.18 150.43h2.8M572.31 147.51V149.79M570.91 147.51h2.8M570.91 149.79h2.8M574.05 147.47V150.32M572.65 147.47h2.8M572.65 150.32h2.8M575.78 147.05V149.58M574.38 147.05h2.8M574.38 149.58h2.8M577.52 146.45V148.40M576.12 146.45h2.8M576.12 148.40h2.8M579.25 146.44V149.02M577.85 146.44h2.8M577.85 149.02h2.8M580.99 145.54V147.78M579.59 145.54h2.8M579.59 147.78h2.8M582.72 145.30V147.71M581.32 145.30h2.8M581.32 147.71h2.8M584.45 143.21V149.99M583.05 143.21h2.8M583.05 149.99h2.8M586.19 144.81V147.42M584.79 144.81h2.8M584.79 147.42h2.8M587.92 144.67V146.91M586.52 144.67h2.8M586.52 146.91h2.8M589.66 144.14V146.41M588.26 144.14h2.8M588.26 146.41h2.8M591.39 143.60V146.03M589.99 143.60h2.8M589.99 146.03h2.8M593.13 143.83V145.95M591.73 143.83h2.8M591.73 145.95h2.8M594.86 143.03V145.36M593.46 143.03h2.8M593.46 145.36h2.8M596.59 142.64V145.36M595.19 142.64h2.8M595.19 145.36h2.8M598.33 142.52V145.23M596.93 142.52h2.8M596.93 145.23h2.8M600.06 142.11V144.52M598.66 142.11h2.8M598.66 144.52h2.8M601.80 142.08V144.49M600.40 142.08h2.8M600.40 144.49h2.8M603.53 142.00V144.55M602.13 142.00h2.8M602.13 144.55h2.8M605.27 141.76V144.00M603.87 141.76h2.8M603.87 144.00h2.8M607.00 141.30V143.50M605.60 141.30h2.8M605.60 143.50h2.8M608.73 140.92V143.45M607.33 140.92h2.8M607.33 143.45h2.8M610.47 140.75V142.71M609.07 140.75h2.8M609.07 142.71h2.8M612.20 139.76V142.53M610.80 139.76h2.8M610.80 142.53h2.8M613.94 140.21V142.18M612.54 140.21h2.8M612.54 142.18h2.8M615.67 140.41V142.34M614.27 140.41h2.8M614.27 142.34h2.8M617.41 140.60V143.41M616.01 140.60h2.8M616.01 143.41h2.8M619.14 141.23V143.78M617.74 141.23h2.8M617.74 143.78h2.8M620.87 141.09V143.88M619.47 141.09h2.8M619.47 143.88h2.8M622.61 141.71V144.22M621.21 141.71h2.8M621.21 144.22h2.8M624.34 142.17V144.76M622.94 142.17h2.8M622.94 144.76h2.8M626.08 142.28V144.86M624.68 142.28h2.8M624.68 144.86h2.8M627.81 143.38V145.94M626.41 143.38h2.8M626.41 145.94h2.8M629.55 145.17V147.83M628.15 145.17h2.8M628.15 147.83h2.8M631.28 144.34V150.43M629.88 144.34h2.8M629.88 150.43h2.8M633.01 146.49V149.15M631.61 146.49h2.8M631.61 149.15h2.8M634.75 147.00V149.55M633.35 147.00h2.8M633.35 149.55h2.8M636.48 147.56V150.27M635.08 147.56h2.8M635.08 150.27h2.8M638.22 147.77V150.23M636.82 147.77h2.8M636.82 150.23h2.8M639.95 148.05V150.26M638.55 148.05h2.8M638.55 150.26h2.8M641.69 148.07V150.30M640.29 148.07h2.8M640.29 150.30h2.8M643.42 147.97V150.51M642.02 147.97h2.8M642.02 150.51h2.8M645.15 147.66V149.63M643.75 147.66h2.8M643.75 149.63h2.8M646.89 146.39V148.35M645.49 146.39h2.8M645.49 148.35h2.8M648.62 146.34V149.04M647.22 146.34h2.8M647.22 149.04h2.8M650.36 149.90V152.70M648.96 149.90h2.8M648.96 152.70h2.8M652.09 153.43V155.37M650.69 153.43h2.8M650.69 155.37h2.8M653.83 159.12V161.61M652.43 159.12h2.8M652.43 161.61h2.8M655.56 160.94V163.81M654.16 160.94h2.8M654.16 163.81h2.8M657.29 161.92V164.23M655.89 161.92h2.8M655.89 164.23h2.8M659.03 162.16V164.70M657.63 162.16h2.8M657.63 164.70h2.8M660.76 160.67V166.73M659.36 160.67h2.8M659.36 166.73h2.8M662.50 162.70V164.62M661.10 162.70h2.8M661.10 164.62h2.8M664.23 162.96V165.00M662.83 162.96h2.8M662.83 165.00h2.8M665.97 163.26V165.26M664.57 163.26h2.8M664.57 165.26h2.8M667.70 160.72V166.76M666.30 160.72h2.8M666.30 166.76h2.8M669.43 162.89V165.50M668.03 162.89h2.8M668.03 165.50h2.8M671.17 163.22V165.84M669.77 163.22h2.8M669.77 165.84h2.8M672.90 163.54V165.51M671.50 163.54h2.8M671.50 165.51h2.8M674.64 163.61V166.22M673.24 163.61h2.8M673.24 166.22h2.8M676.37 164.30V166.92M674.97 164.30h2.8M674.97 166.92h2.8M678.11 163.91V166.43M676.71 163.91h2.8M676.71 166.43h2.8M679.84 164.57V166.93M678.44 164.57h2.8M678.44 166.93h2.8M681.57 164.39V166.55M680.17 164.39h2.8M680.17 166.55h2.8M683.31 162.69V169.30M681.91 162.69h2.8M681.91 169.30h2.8M685.04 165.19V167.12M683.64 165.19h2.8M683.64 167.12h2.8M686.78 164.50V167.20M685.38 164.50h2.8M685.38 167.20h2.8M688.51 164.43V166.65M687.11 164.43h2.8M687.11 166.65h2.8M690.25 164.91V166.99M688.85 164.91h2.8M688.85 166.99h2.8M691.98 162.76V169.15M690.58 162.76h2.8M690.58 169.15h2.8M693.71 164.99V167.26M692.31 164.99h2.8M692.31 167.26h2.8M695.45 164.82V167.16M694.05 164.82h2.8M694.05 167.16h2.8M697.18 165.11V167.17M695.78 165.11h2.8M695.78 167.17h2.8M698.92 165.26V167.53M697.52 165.26h2.8M697.52 167.53h2.8M700.65 164.98V167.50M699.25 164.98h2.8M699.25 167.50h2.8M702.39 165.10V167.39M700.99 165.10h2.8M700.99 167.39h2.8M704.12 165.36V168.19M702.72 165.36h2.8M702.72 168.19h2.8M705.85 165.05V167.51M704.45 165.05h2.8M704.45 167.51h2.8M707.59 165.77V167.75M706.19 165.77h2.8M706.19 167.75h2.8M709.32 165.32V167.92M707.92 165.32h2.8M707.92 167.92h2.8M711.06 165.89V168.13M709.66 165.89h2.8M709.66 168.13h2.8M712.79 165.17V168.03M711.39 165.17h2.8M711.39 168.03h2.8M714.53 166.13V168.63M713.13 166.13h2.8M713.13 168.63h2.8M716.26 165.81V168.14M714.86 165.81h2.8M714.86 168.14h2.8M717.99 165.69V167.97M716.59 165.69h2.8M716.59 167.97h2.8M719.73 165.86V168.35M718.33 165.86h2.8M718.33 168.35h2.8M721.46 165.95V168.65M720.06 165.95h2.8M720.06 168.65h2.8M723.20 166.13V168.05M721.80 166.13h2.8M721.80 168.05h2.8M724.93 166.35V168.67M723.53 166.35h2.8M723.53 168.67h2.8M726.67 166.26V168.96M725.27 166.26h2.8M725.27 168.96h2.8M728.40 166.94V168.91M727.00 166.94h2.8M727.00 168.91h2.8" stroke="#8fd38f" stroke-width="0.9" fill="none"/><g fill="#f25c0c"><circle cx="487.33" cy="160.52" r="2.7"/><circle cx="489.07" cy="161.24" r="2.7"/><circle cx="490.80" cy="161.13" r="2.7"/><circle cx="492.54" cy="161.07" r="2.7"/><circle cx="494.27" cy="161.26" r="2.7"/><circle cx="496.01" cy="161.87" r="2.7"/><circle cx="497.74" cy="161.61" r="2.7"/><circle cx="499.47" cy="161.45" r="2.7"/><circle cx="501.21" cy="161.97" r="2.7"/><circle cx="502.94" cy="161.91" r="2.7"/><circle cx="504.68" cy="162.24" r="2.7"/><circle cx="506.41" cy="161.58" r="2.7"/><circle cx="508.15" cy="161.94" r="2.7"/><circle cx="509.88" cy="162.28" r="2.7"/><circle cx="511.61" cy="162.35" r="2.7"/><circle cx="513.35" cy="162.47" r="2.7"/><circle cx="515.08" cy="161.83" r="2.7"/><circle cx="516.82" cy="161.94" r="2.7"/><circle cx="518.55" cy="161.70" r="2.7"/><circle cx="520.29" cy="161.66" r="2.7"/><circle cx="522.02" cy="162.18" r="2.7"/><circle cx="523.75" cy="161.77" r="2.7"/><circle cx="525.49" cy="161.95" r="2.7"/><circle cx="527.22" cy="161.41" r="2.7"/><circle cx="528.96" cy="161.70" r="2.7"/><circle cx="530.69" cy="161.27" r="2.7"/><circle cx="532.43" cy="160.10" r="2.7"/><circle cx="534.16" cy="159.37" r="2.7"/><circle cx="535.89" cy="158.36" r="2.7"/><circle cx="537.63" cy="156.19" r="2.7"/><circle cx="539.36" cy="155.01" r="2.7"/><circle cx="541.10" cy="153.46" r="2.7"/><circle cx="542.83" cy="152.52" r="2.7"/><circle cx="544.57" cy="152.30" r="2.7"/><circle cx="546.30" cy="151.79" r="2.7"/><circle cx="548.03" cy="151.50" r="2.7"/><circle cx="549.77" cy="151.21" r="2.7"/><circle cx="551.50" cy="151.16" r="2.7"/><circle cx="553.24" cy="150.88" r="2.7"/><circle cx="554.97" cy="150.21" r="2.7"/><circle cx="556.71" cy="149.74" r="2.7"/><circle cx="558.44" cy="149.67" r="2.7"/><circle cx="560.17" cy="149.64" r="2.7"/><circle cx="561.91" cy="148.93" r="2.7"/><circle cx="563.64" cy="148.71" r="2.7"/><circle cx="565.38" cy="148.31" r="2.7"/><circle cx="567.11" cy="148.46" r="2.7"/><circle cx="568.85" cy="147.88" r="2.7"/><circle cx="570.58" cy="147.06" r="2.7"/><circle cx="572.31" cy="146.65" r="2.7"/><circle cx="574.05" cy="146.45" r="2.7"/><circle cx="575.78" cy="146.14" r="2.7"/><circle cx="577.52" cy="145.78" r="2.7"/><circle cx="579.25" cy="144.91" r="2.7"/><circle cx="580.99" cy="144.53" r="2.7"/><circle cx="582.72" cy="144.53" r="2.7"/><circle cx="584.45" cy="143.86" r="2.7"/><circle cx="586.19" cy="143.27" r="2.7"/><circle cx="587.92" cy="142.73" r="2.7"/><circle cx="589.66" cy="142.69" r="2.7"/><circle cx="591.39" cy="141.62" r="2.7"/><circle cx="593.13" cy="141.27" r="2.7"/><circle cx="594.86" cy="140.54" r="2.7"/><circle cx="596.59" cy="140.03" r="2.7"/><circle cx="598.33" cy="139.83" r="2.7"/><circle cx="600.06" cy="139.39" r="2.7"/><circle cx="601.80" cy="138.71" r="2.7"/><circle cx="603.53" cy="138.40" r="2.7"/><circle cx="605.27" cy="138.66" r="2.7"/><circle cx="607.00" cy="138.06" r="2.7"/><circle cx="608.73" cy="137.73" r="2.7"/><circle cx="610.47" cy="138.27" r="2.7"/><circle cx="612.20" cy="137.72" r="2.7"/><circle cx="613.94" cy="137.86" r="2.7"/><circle cx="615.67" cy="137.81" r="2.7"/><circle cx="617.41" cy="138.48" r="2.7"/><circle cx="619.14" cy="138.44" r="2.7"/><circle cx="620.87" cy="138.49" r="2.7"/><circle cx="622.61" cy="138.67" r="2.7"/><circle cx="624.34" cy="139.39" r="2.7"/><circle cx="626.08" cy="139.76" r="2.7"/><circle cx="627.81" cy="140.69" r="2.7"/><circle cx="629.55" cy="140.86" r="2.7"/><circle cx="631.28" cy="141.88" r="2.7"/><circle cx="633.01" cy="142.20" r="2.7"/><circle cx="634.75" cy="142.82" r="2.7"/><circle cx="636.48" cy="143.05" r="2.7"/><circle cx="638.22" cy="143.51" r="2.7"/><circle cx="639.95" cy="144.03" r="2.7"/><circle cx="641.69" cy="144.68" r="2.7"/><circle cx="643.42" cy="143.27" r="2.7"/><circle cx="645.15" cy="142.58" r="2.7"/><circle cx="646.89" cy="141.96" r="2.7"/><circle cx="648.62" cy="142.22" r="2.7"/><circle cx="650.36" cy="141.73" r="2.7"/><circle cx="652.09" cy="143.67" r="2.7"/><circle cx="653.83" cy="154.48" r="2.7"/><circle cx="655.56" cy="157.04" r="2.7"/><circle cx="657.29" cy="157.42" r="2.7"/><circle cx="659.03" cy="157.55" r="2.7"/><circle cx="660.76" cy="158.44" r="2.7"/><circle cx="662.50" cy="158.21" r="2.7"/><circle cx="664.23" cy="158.81" r="2.7"/><circle cx="665.97" cy="158.77" r="2.7"/><circle cx="667.70" cy="159.12" r="2.7"/><circle cx="669.43" cy="158.77" r="2.7"/><circle cx="671.17" cy="159.38" r="2.7"/><circle cx="672.90" cy="159.01" r="2.7"/><circle cx="674.64" cy="159.23" r="2.7"/><circle cx="676.37" cy="159.66" r="2.7"/><circle cx="678.11" cy="159.72" r="2.7"/><circle cx="679.84" cy="159.27" r="2.7"/><circle cx="681.57" cy="159.35" r="2.7"/><circle cx="683.31" cy="159.54" r="2.7"/><circle cx="685.04" cy="159.69" r="2.7"/><circle cx="686.78" cy="159.63" r="2.7"/><circle cx="688.51" cy="159.47" r="2.7"/><circle cx="690.25" cy="159.62" r="2.7"/><circle cx="691.98" cy="160.05" r="2.7"/><circle cx="693.71" cy="160.24" r="2.7"/><circle cx="695.45" cy="159.60" r="2.7"/><circle cx="697.18" cy="160.09" r="2.7"/><circle cx="698.92" cy="160.36" r="2.7"/><circle cx="700.65" cy="159.91" r="2.7"/><circle cx="702.39" cy="160.66" r="2.7"/><circle cx="704.12" cy="160.20" r="2.7"/><circle cx="705.85" cy="160.71" r="2.7"/><circle cx="707.59" cy="160.79" r="2.7"/><circle cx="709.32" cy="160.97" r="2.7"/><circle cx="711.06" cy="160.83" r="2.7"/><circle cx="712.79" cy="161.04" r="2.7"/><circle cx="714.53" cy="161.28" r="2.7"/><circle cx="716.26" cy="161.28" r="2.7"/><circle cx="717.99" cy="161.58" r="2.7"/><circle cx="719.73" cy="161.53" r="2.7"/><circle cx="721.46" cy="161.64" r="2.7"/><circle cx="723.20" cy="161.42" r="2.7"/><circle cx="724.93" cy="162.02" r="2.7"/><circle cx="726.67" cy="162.03" r="2.7"/><circle cx="728.40" cy="161.95" r="2.7"/></g><g fill="#11a011"><circle cx="487.33" cy="166.26" r="2.8"/><circle cx="489.07" cy="166.91" r="2.8"/><circle cx="490.80" cy="166.93" r="2.8"/><circle cx="492.54" cy="167.08" r="2.8"/><circle cx="494.27" cy="167.04" r="2.8"/><circle cx="496.01" cy="166.91" r="2.8"/><circle cx="497.74" cy="167.02" r="2.8"/><circle cx="499.47" cy="167.05" r="2.8"/><circle cx="501.21" cy="167.47" r="2.8"/><circle cx="502.94" cy="166.86" r="2.8"/><circle cx="504.68" cy="167.53" r="2.8"/><circle cx="506.41" cy="166.87" r="2.8"/><circle cx="508.15" cy="167.05" r="2.8"/><circle cx="509.88" cy="167.12" r="2.8"/><circle cx="511.61" cy="167.66" r="2.8"/><circle cx="513.35" cy="167.37" r="2.8"/><circle cx="515.08" cy="167.30" r="2.8"/><circle cx="516.82" cy="167.56" r="2.8"/><circle cx="518.55" cy="166.88" r="2.8"/><circle cx="520.29" cy="166.91" r="2.8"/><circle cx="522.02" cy="166.81" r="2.8"/><circle cx="523.75" cy="166.84" r="2.8"/><circle cx="525.49" cy="166.68" r="2.8"/><circle cx="527.22" cy="166.44" r="2.8"/><circle cx="528.96" cy="166.05" r="2.8"/><circle cx="530.69" cy="165.88" r="2.8"/><circle cx="532.43" cy="164.86" r="2.8"/><circle cx="534.16" cy="164.43" r="2.8"/><circle cx="535.89" cy="163.30" r="2.8"/><circle cx="537.63" cy="161.31" r="2.8"/><circle cx="539.36" cy="158.56" r="2.8"/><circle cx="541.10" cy="156.48" r="2.8"/><circle cx="542.83" cy="155.96" r="2.8"/><circle cx="544.57" cy="155.47" r="2.8"/><circle cx="546.30" cy="154.77" r="2.8"/><circle cx="548.03" cy="154.71" r="2.8"/><circle cx="549.77" cy="154.71" r="2.8"/><circle cx="551.50" cy="153.79" r="2.8"/><circle cx="553.24" cy="153.31" r="2.8"/><circle cx="554.97" cy="152.97" r="2.8"/><circle cx="556.71" cy="152.85" r="2.8"/><circle cx="558.44" cy="152.53" r="2.8"/><circle cx="560.17" cy="151.54" r="2.8"/><circle cx="561.91" cy="151.11" r="2.8"/><circle cx="563.64" cy="150.74" r="2.8"/><circle cx="565.38" cy="150.37" r="2.8"/><circle cx="567.11" cy="150.09" r="2.8"/><circle cx="568.85" cy="149.40" r="2.8"/><circle cx="570.58" cy="149.15" r="2.8"/><circle cx="572.31" cy="148.65" r="2.8"/><circle cx="574.05" cy="148.90" r="2.8"/><circle cx="575.78" cy="148.31" r="2.8"/><circle cx="577.52" cy="147.43" r="2.8"/><circle cx="579.25" cy="147.73" r="2.8"/><circle cx="580.99" cy="146.66" r="2.8"/><circle cx="582.72" cy="146.50" r="2.8"/><circle cx="584.45" cy="146.60" r="2.8"/><circle cx="586.19" cy="146.11" r="2.8"/><circle cx="587.92" cy="145.79" r="2.8"/><circle cx="589.66" cy="145.28" r="2.8"/><circle cx="591.39" cy="144.81" r="2.8"/><circle cx="593.13" cy="144.89" r="2.8"/><circle cx="594.86" cy="144.20" r="2.8"/><circle cx="596.59" cy="144.00" r="2.8"/><circle cx="598.33" cy="143.87" r="2.8"/><circle cx="600.06" cy="143.32" r="2.8"/><circle cx="601.80" cy="143.29" r="2.8"/><circle cx="603.53" cy="143.28" r="2.8"/><circle cx="605.27" cy="142.88" r="2.8"/><circle cx="607.00" cy="142.40" r="2.8"/><circle cx="608.73" cy="142.18" r="2.8"/><circle cx="610.47" cy="141.73" r="2.8"/><circle cx="612.20" cy="141.15" r="2.8"/><circle cx="613.94" cy="141.19" r="2.8"/><circle cx="615.67" cy="141.37" r="2.8"/><circle cx="617.41" cy="142.01" r="2.8"/><circle cx="619.14" cy="142.50" r="2.8"/><circle cx="620.87" cy="142.49" r="2.8"/><circle cx="622.61" cy="142.96" r="2.8"/><circle cx="624.34" cy="143.47" r="2.8"/><circle cx="626.08" cy="143.57" r="2.8"/><circle cx="627.81" cy="144.66" r="2.8"/><circle cx="629.55" cy="146.50" r="2.8"/><circle cx="631.28" cy="147.39" r="2.8"/><circle cx="633.01" cy="147.82" r="2.8"/><circle cx="634.75" cy="148.28" r="2.8"/><circle cx="636.48" cy="148.92" r="2.8"/><circle cx="638.22" cy="149.00" r="2.8"/><circle cx="639.95" cy="149.15" r="2.8"/><circle cx="641.69" cy="149.18" r="2.8"/><circle cx="643.42" cy="149.24" r="2.8"/><circle cx="645.15" cy="148.64" r="2.8"/><circle cx="646.89" cy="147.37" r="2.8"/><circle cx="648.62" cy="147.69" r="2.8"/><circle cx="650.36" cy="151.30" r="2.8"/><circle cx="652.09" cy="154.40" r="2.8"/><circle cx="653.83" cy="160.36" r="2.8"/><circle cx="655.56" cy="162.37" r="2.8"/><circle cx="657.29" cy="163.08" r="2.8"/><circle cx="659.03" cy="163.43" r="2.8"/><circle cx="660.76" cy="163.70" r="2.8"/><circle cx="662.50" cy="163.66" r="2.8"/><circle cx="664.23" cy="163.98" r="2.8"/><circle cx="665.97" cy="164.26" r="2.8"/><circle cx="667.70" cy="163.74" r="2.8"/><circle cx="669.43" cy="164.20" r="2.8"/><circle cx="671.17" cy="164.53" r="2.8"/><circle cx="672.90" cy="164.53" r="2.8"/><circle cx="674.64" cy="164.92" r="2.8"/><circle cx="676.37" cy="165.61" r="2.8"/><circle cx="678.11" cy="165.17" r="2.8"/><circle cx="679.84" cy="165.75" r="2.8"/><circle cx="681.57" cy="165.47" r="2.8"/><circle cx="683.31" cy="166.00" r="2.8"/><circle cx="685.04" cy="166.16" r="2.8"/><circle cx="686.78" cy="165.85" r="2.8"/><circle cx="688.51" cy="165.54" r="2.8"/><circle cx="690.25" cy="165.95" r="2.8"/><circle cx="691.98" cy="165.95" r="2.8"/><circle cx="693.71" cy="166.12" r="2.8"/><circle cx="695.45" cy="165.99" r="2.8"/><circle cx="697.18" cy="166.14" r="2.8"/><circle cx="698.92" cy="166.39" r="2.8"/><circle cx="700.65" cy="166.24" r="2.8"/><circle cx="702.39" cy="166.25" r="2.8"/><circle cx="704.12" cy="166.78" r="2.8"/><circle cx="705.85" cy="166.28" r="2.8"/><circle cx="707.59" cy="166.76" r="2.8"/><circle cx="709.32" cy="166.62" r="2.8"/><circle cx="711.06" cy="167.01" r="2.8"/><circle cx="712.79" cy="166.60" r="2.8"/><circle cx="714.53" cy="167.38" r="2.8"/><circle cx="716.26" cy="166.98" r="2.8"/><circle cx="717.99" cy="166.83" r="2.8"/><circle cx="719.73" cy="167.10" r="2.8"/><circle cx="721.46" cy="167.30" r="2.8"/><circle cx="723.20" cy="167.09" r="2.8"/><circle cx="724.93" cy="167.51" r="2.8"/><circle cx="726.67" cy="167.61" r="2.8"/><circle cx="728.40" cy="167.93" r="2.8"/></g><line x1="174.10" y1="231.20" x2="414.30" y2="231.20" stroke="#444" stroke-width="1.3"/><line x1="414.30" y1="231.20" x2="414.30" y2="376.00" stroke="#555" stroke-width="1.3"/><line x1="174.10" y1="230.60" x2="174.10" y2="376.60" stroke="#555" stroke-width="1.6"/><line x1="174.10" y1="376.00" x2="414.30" y2="376.00" stroke="#404040" stroke-width="1.5"/><line x1="170.90" y1="376.00" x2="174.10" y2="376.00" stroke="#3a3a3a" stroke-width="1.2"/><text x="164.6" y="379.0" font-size="10" text-anchor="end" fill="#1a1a1a" stroke="#1a1a1a" stroke-width="0.25">55</text><line x1="170.90" y1="344.97" x2="174.10" y2="344.97" stroke="#3a3a3a" stroke-width="1.2"/><text x="164.6" y="348.0" font-size="10" text-anchor="end" fill="#1a1a1a" stroke="#1a1a1a" stroke-width="0.25">70</text><line x1="170.90" y1="313.94" x2="174.10" y2="313.94" stroke="#3a3a3a" stroke-width="1.2"/><text x="164.6" y="316.9" font-size="10" text-anchor="end" fill="#1a1a1a" stroke="#1a1a1a" stroke-width="0.25">85</text><line x1="170.90" y1="282.91" x2="174.10" y2="282.91" stroke="#3a3a3a" stroke-width="1.2"/><text x="164.6" y="285.9" font-size="10" text-anchor="end" fill="#1a1a1a" stroke="#1a1a1a" stroke-width="0.25">100</text><line x1="170.90" y1="251.89" x2="174.10" y2="251.89" stroke="#3a3a3a" stroke-width="1.2"/><text x="164.6" y="254.9" font-size="10" text-anchor="end" fill="#1a1a1a" stroke="#1a1a1a" stroke-width="0.25">115</text><line x1="174.10" y1="376.00" x2="174.10" y2="379.00" stroke="#3a3a3a" stroke-width="1.2"/><text x="174.1" y="391.3" font-size="10" text-anchor="middle" fill="#1a1a1a" stroke="#1a1a1a" stroke-width="0.25">0</text><line x1="208.41" y1="376.00" x2="208.41" y2="379.00" stroke="#3a3a3a" stroke-width="1.2"/><text x="208.4" y="391.3" font-size="10" text-anchor="middle" fill="#1a1a1a" stroke="#1a1a1a" stroke-width="0.25">20</text><line x1="242.73" y1="376.00" x2="242.73" y2="379.00" stroke="#3a3a3a" stroke-width="1.2"/><text x="242.7" y="391.3" font-size="10" text-anchor="middle" fill="#1a1a1a" stroke="#1a1a1a" stroke-width="0.25">40</text><line x1="277.04" y1="376.00" x2="277.04" y2="379.00" stroke="#3a3a3a" stroke-width="1.2"/><text x="277.0" y="391.3" font-size="10" text-anchor="middle" fill="#1a1a1a" stroke="#1a1a1a" stroke-width="0.25">60</text><line x1="311.36" y1="376.00" x2="311.36" y2="379.00" stroke="#3a3a3a" stroke-width="1.2"/><text x="311.4" y="391.3" font-size="10" text-anchor="middle" fill="#1a1a1a" stroke="#1a1a1a" stroke-width="0.25">80</text><line x1="345.67" y1="376.00" x2="345.67" y2="379.00" stroke="#3a3a3a" stroke-width="1.2"/><text x="345.7" y="391.3" font-size="10" text-anchor="middle" fill="#1a1a1a" stroke="#1a1a1a" stroke-width="0.25">100</text><line x1="379.99" y1="376.00" x2="379.99" y2="379.00" stroke="#3a3a3a" stroke-width="1.2"/><text x="380.0" y="391.3" font-size="10" text-anchor="middle" fill="#1a1a1a" stroke="#1a1a1a" stroke-width="0.25">120</text><line x1="414.30" y1="376.00" x2="414.30" y2="379.00" stroke="#3a3a3a" stroke-width="1.2"/><text x="414.3" y="391.3" font-size="10" text-anchor="middle" fill="#1a1a1a" stroke="#1a1a1a" stroke-width="0.25">140</text><text x="294.2" y="406.4" font-size="11" text-anchor="middle" fill="#1a1a1a" stroke="#1a1a1a" stroke-width="0.25">Frame</text><text x="0" y="0" font-size="11.3" text-anchor="middle" fill="#1a1a1a" stroke="#1a1a1a" stroke-width="0.25" transform="translate(141.1,303.6) rotate(-90)">Parameter α (a.u.)</text><path d="M175.82 357.07V363.80M174.42 357.07h2.8M174.42 363.80h2.8M177.53 353.83V363.51M176.13 353.83h2.8M176.13 363.51h2.8M179.25 354.64V361.58M177.85 354.64h2.8M177.85 361.58h2.8M180.96 354.80V360.29M179.56 354.80h2.8M179.56 360.29h2.8M182.68 355.31V361.11M181.28 355.31h2.8M181.28 361.11h2.8M184.39 355.24V360.76M182.99 355.24h2.8M182.99 360.76h2.8M186.11 354.05V361.32M184.71 354.05h2.8M184.71 361.32h2.8M187.83 355.10V360.65M186.43 355.10h2.8M186.43 360.65h2.8M189.54 354.12V360.05M188.14 354.12h2.8M188.14 360.05h2.8M191.26 354.01V359.43M189.86 354.01h2.8M189.86 359.43h2.8M192.97 354.74V360.01M191.57 354.74h2.8M191.57 360.01h2.8M194.69 354.30V361.13M193.29 354.30h2.8M193.29 361.13h2.8M196.40 353.71V360.05M195.00 353.71h2.8M195.00 360.05h2.8M198.12 354.76V360.54M196.72 354.76h2.8M196.72 360.54h2.8M199.84 354.88V360.93M198.44 354.88h2.8M198.44 360.93h2.8M201.55 353.09V360.77M200.15 353.09h2.8M200.15 360.77h2.8M203.27 354.76V360.13M201.87 354.76h2.8M201.87 360.13h2.8M204.98 351.84V363.26M203.58 351.84h2.8M203.58 363.26h2.8M206.70 353.96V360.94M205.30 353.96h2.8M205.30 360.94h2.8M208.41 351.50V363.12M207.01 351.50h2.8M207.01 363.12h2.8M210.13 354.00V361.19M208.73 354.00h2.8M208.73 361.19h2.8M211.85 353.77V363.25M210.45 353.77h2.8M210.45 363.25h2.8M213.56 354.57V361.82M212.16 354.57h2.8M212.16 361.82h2.8M215.28 354.40V360.00M213.88 354.40h2.8M213.88 360.00h2.8M216.99 352.42V359.88M215.59 352.42h2.8M215.59 359.88h2.8M218.71 353.34V359.92M217.31 353.34h2.8M217.31 359.92h2.8M220.42 353.27V358.85M219.02 353.27h2.8M219.02 358.85h2.8M222.14 350.71V357.65M220.74 350.71h2.8M220.74 357.65h2.8M223.86 350.59V355.91M222.46 350.59h2.8M222.46 355.91h2.8M225.57 348.94V355.61M224.17 348.94h2.8M224.17 355.61h2.8M227.29 346.24V352.06M225.89 346.24h2.8M225.89 352.06h2.8M229.00 341.21V347.90M227.60 341.21h2.8M227.60 347.90h2.8M230.72 336.80V344.00M229.32 336.80h2.8M229.32 344.00h2.8M232.43 333.77V343.41M231.03 333.77h2.8M231.03 343.41h2.8M234.15 332.82V339.81M232.75 332.82h2.8M232.75 339.81h2.8M235.87 329.12V340.09M234.47 329.12h2.8M234.47 340.09h2.8M237.58 329.02V336.21M236.18 329.02h2.8M236.18 336.21h2.8M239.30 327.49V334.76M237.90 327.49h2.8M237.90 334.76h2.8M241.01 323.24V333.62M239.61 323.24h2.8M239.61 333.62h2.8M242.73 322.77V330.22M241.33 322.77h2.8M241.33 330.22h2.8M244.44 320.38V327.73M243.04 320.38h2.8M243.04 327.73h2.8M246.16 320.05V325.64M244.76 320.05h2.8M244.76 325.64h2.8M247.88 318.24V324.30M246.48 318.24h2.8M246.48 324.30h2.8M249.59 317.03V323.10M248.19 317.03h2.8M248.19 323.10h2.8M251.31 317.78V322.91M249.91 317.78h2.8M249.91 322.91h2.8M253.02 315.28V321.54M251.62 315.28h2.8M251.62 321.54h2.8M254.74 314.26V319.68M253.34 314.26h2.8M253.34 319.68h2.8M256.45 313.01V320.22M255.05 313.01h2.8M255.05 320.22h2.8M258.17 312.78V318.72M256.77 312.78h2.8M256.77 318.72h2.8M259.89 310.73V316.82M258.49 310.73h2.8M258.49 316.82h2.8M261.60 310.67V315.94M260.20 310.67h2.8M260.20 315.94h2.8M263.32 308.08V315.64M261.92 308.08h2.8M261.92 315.64h2.8M265.03 307.70V314.13M263.63 307.70h2.8M263.63 314.13h2.8M266.75 303.75V314.25M265.35 303.75h2.8M265.35 314.25h2.8M268.46 304.01V311.60M267.06 304.01h2.8M267.06 311.60h2.8M270.18 305.14V310.73M268.78 305.14h2.8M268.78 310.73h2.8M271.90 303.64V309.40M270.50 303.64h2.8M270.50 309.40h2.8M273.61 301.72V306.92M272.21 301.72h2.8M272.21 306.92h2.8M275.33 299.31V306.22M273.93 299.31h2.8M273.93 306.22h2.8M277.04 300.51V305.67M275.64 300.51h2.8M275.64 305.67h2.8M278.76 301.37V307.97M277.36 301.37h2.8M277.36 307.97h2.8M280.47 301.57V308.49M279.07 301.57h2.8M279.07 308.49h2.8M282.19 301.34V308.68M280.79 301.34h2.8M280.79 308.68h2.8M283.91 300.21V305.44M282.51 300.21h2.8M282.51 305.44h2.8M285.62 297.77V304.15M284.22 297.77h2.8M284.22 304.15h2.8M287.34 298.18V304.01M285.94 298.18h2.8M285.94 304.01h2.8M289.05 297.32V303.48M287.65 297.32h2.8M287.65 303.48h2.8M290.77 297.07V303.71M289.37 297.07h2.8M289.37 303.71h2.8M292.48 298.16V303.66M291.08 298.16h2.8M291.08 303.66h2.8M294.20 296.14V303.17M292.80 296.14h2.8M292.80 303.17h2.8M295.92 294.18V301.42M294.52 294.18h2.8M294.52 301.42h2.8M297.63 292.98V299.10M296.23 292.98h2.8M296.23 299.10h2.8M299.35 292.24V299.51M297.95 292.24h2.8M297.95 299.51h2.8M301.06 294.16V300.29M299.66 294.16h2.8M299.66 300.29h2.8M302.78 294.01V301.12M301.38 294.01h2.8M301.38 301.12h2.8M304.49 296.30V302.04M303.09 296.30h2.8M303.09 302.04h2.8M306.21 296.91V303.15M304.81 296.91h2.8M304.81 303.15h2.8M307.93 296.23V303.41M306.53 296.23h2.8M306.53 303.41h2.8M309.64 298.17V305.38M308.24 298.17h2.8M308.24 305.38h2.8M311.36 300.07V305.33M309.96 300.07h2.8M309.96 305.33h2.8M313.07 299.74V307.31M311.67 299.74h2.8M311.67 307.31h2.8M314.79 303.03V308.79M313.39 303.03h2.8M313.39 308.79h2.8M316.50 302.82V309.56M315.10 302.82h2.8M315.10 309.56h2.8M318.22 303.45V313.93M316.82 303.45h2.8M316.82 313.93h2.8M319.94 307.75V313.98M318.54 307.75h2.8M318.54 313.98h2.8M321.65 310.79V315.96M320.25 310.79h2.8M320.25 315.96h2.8M323.37 311.25V318.85M321.97 311.25h2.8M321.97 318.85h2.8M325.08 312.97V320.49M323.68 312.97h2.8M323.68 320.49h2.8M326.80 315.55V322.74M325.40 315.55h2.8M325.40 322.74h2.8M328.51 315.40V326.78M327.11 315.40h2.8M327.11 326.78h2.8M330.23 321.18V327.94M328.83 321.18h2.8M328.83 327.94h2.8M331.95 323.51V330.37M330.55 323.51h2.8M330.55 330.37h2.8M333.66 326.16V332.67M332.26 326.16h2.8M332.26 332.67h2.8M335.38 329.56V336.27M333.98 329.56h2.8M333.98 336.27h2.8M337.09 333.76V340.21M335.69 333.76h2.8M335.69 340.21h2.8M338.81 337.11V344.66M337.41 337.11h2.8M337.41 344.66h2.8M340.52 342.47V348.37M339.12 342.47h2.8M339.12 348.37h2.8M342.24 343.95V349.38M340.84 343.95h2.8M340.84 349.38h2.8M343.96 343.07V350.63M342.56 343.07h2.8M342.56 350.63h2.8M345.67 343.12V348.93M344.27 343.12h2.8M344.27 348.93h2.8M347.39 344.09V350.58M345.99 344.09h2.8M345.99 350.58h2.8M349.10 344.79V350.22M347.70 344.79h2.8M347.70 350.22h2.8M350.82 344.76V350.63M349.42 344.76h2.8M349.42 350.63h2.8M352.53 345.77V351.63M351.13 345.77h2.8M351.13 351.63h2.8M354.25 345.43V350.78M352.85 345.43h2.8M352.85 350.78h2.8M355.97 345.29V352.56M354.57 345.29h2.8M354.57 352.56h2.8M357.68 347.20V353.78M356.28 347.20h2.8M356.28 353.78h2.8M359.40 348.63V354.26M358.00 348.63h2.8M358.00 354.26h2.8M361.11 348.02V354.32M359.71 348.02h2.8M359.71 354.32h2.8M362.83 346.70V353.39M361.43 346.70h2.8M361.43 353.39h2.8M364.54 346.90V352.82M363.14 346.90h2.8M363.14 352.82h2.8M366.26 347.29V352.98M364.86 347.29h2.8M364.86 352.98h2.8M367.98 347.02V353.12M366.58 347.02h2.8M366.58 353.12h2.8M369.69 348.64V353.79M368.29 348.64h2.8M368.29 353.79h2.8M371.41 348.31V355.63M370.01 348.31h2.8M370.01 355.63h2.8M373.12 348.91V355.45M371.72 348.91h2.8M371.72 355.45h2.8M374.84 349.12V354.97M373.44 349.12h2.8M373.44 354.97h2.8M376.55 348.03V353.91M375.15 348.03h2.8M375.15 353.91h2.8M378.27 345.66V355.19M376.87 345.66h2.8M376.87 355.19h2.8M379.99 346.21V353.56M378.59 346.21h2.8M378.59 353.56h2.8M381.70 348.37V353.65M380.30 348.37h2.8M380.30 353.65h2.8M383.42 347.34V353.59M382.02 347.34h2.8M382.02 353.59h2.8M385.13 349.13V354.53M383.73 349.13h2.8M383.73 354.53h2.8M386.85 347.69V355.27M385.45 347.69h2.8M385.45 355.27h2.8M388.56 348.88V354.39M387.16 348.88h2.8M387.16 354.39h2.8M390.28 350.25V356.28M388.88 350.25h2.8M388.88 356.28h2.8M392.00 349.31V356.00M390.60 349.31h2.8M390.60 356.00h2.8M393.71 350.42V357.64M392.31 350.42h2.8M392.31 357.64h2.8M395.43 350.81V357.82M394.03 350.81h2.8M394.03 357.82h2.8M397.14 351.05V358.11M395.74 351.05h2.8M395.74 358.11h2.8M398.86 350.20V357.33M397.46 350.20h2.8M397.46 357.33h2.8M400.57 350.69V358.15M399.17 350.69h2.8M399.17 358.15h2.8M402.29 348.49V359.84M400.89 348.49h2.8M400.89 359.84h2.8M404.01 352.02V359.10M402.61 352.02h2.8M402.61 359.10h2.8M405.72 352.47V358.87M404.32 352.47h2.8M404.32 358.87h2.8M407.44 352.31V358.89M406.04 352.31h2.8M406.04 358.89h2.8M409.15 352.02V359.15M407.75 352.02h2.8M407.75 359.15h2.8M410.87 352.32V359.00M409.47 352.32h2.8M409.47 359.00h2.8M412.58 353.43V359.71M411.18 353.43h2.8M411.18 359.71h2.8M414.30 352.83V359.80M412.90 352.83h2.8M412.90 359.80h2.8" stroke="#f8a877" stroke-width="0.9" fill="none"/><path d="M175.82 359.64V365.30M174.42 359.64h2.8M174.42 365.30h2.8M177.53 360.06V364.86M176.13 360.06h2.8M176.13 364.86h2.8M179.25 359.47V364.64M177.85 359.47h2.8M177.85 364.64h2.8M180.96 359.44V364.11M179.56 359.44h2.8M179.56 364.11h2.8M182.68 359.68V364.58M181.28 359.68h2.8M181.28 364.58h2.8M184.39 358.91V365.09M182.99 358.91h2.8M182.99 365.09h2.8M186.11 358.71V364.04M184.71 358.71h2.8M184.71 364.04h2.8M187.83 358.34V363.61M186.43 358.34h2.8M186.43 363.61h2.8M189.54 355.00V364.00M188.14 355.00h2.8M188.14 364.00h2.8M191.26 356.26V360.68M189.86 356.26h2.8M189.86 360.68h2.8M192.97 356.10V360.99M191.57 356.10h2.8M191.57 360.99h2.8M194.69 358.15V362.71M193.29 358.15h2.8M193.29 362.71h2.8M196.40 357.47V366.12M195.00 357.47h2.8M195.00 366.12h2.8M198.12 358.52V364.06M196.72 358.52h2.8M196.72 364.06h2.8M199.84 360.14V364.62M198.44 360.14h2.8M198.44 364.62h2.8M201.55 359.58V363.93M200.15 359.58h2.8M200.15 363.93h2.8M203.27 359.52V365.41M201.87 359.52h2.8M201.87 365.41h2.8M204.98 360.01V365.09M203.58 360.01h2.8M203.58 365.09h2.8M206.70 359.86V365.70M205.30 359.86h2.8M205.30 365.70h2.8M208.41 359.52V364.41M207.01 359.52h2.8M207.01 364.41h2.8M210.13 359.85V364.79M208.73 359.85h2.8M208.73 364.79h2.8M211.85 360.69V365.28M210.45 360.69h2.8M210.45 365.28h2.8M213.56 359.39V364.60M212.16 359.39h2.8M212.16 364.60h2.8M215.28 359.08V364.19M213.88 359.08h2.8M213.88 364.19h2.8M216.99 358.91V364.54M215.59 358.91h2.8M215.59 364.54h2.8M218.71 358.11V364.14M217.31 358.11h2.8M217.31 364.14h2.8M220.42 358.64V363.57M219.02 358.64h2.8M219.02 363.57h2.8M222.14 357.69V363.11M220.74 357.69h2.8M220.74 363.11h2.8M223.86 356.00V361.97M222.46 356.00h2.8M222.46 361.97h2.8M225.57 355.50V360.73M224.17 355.50h2.8M224.17 360.73h2.8M227.29 353.75V358.47M225.89 353.75h2.8M225.89 358.47h2.8M229.00 351.02V355.98M227.60 351.02h2.8M227.60 355.98h2.8M230.72 347.56V352.90M229.32 347.56h2.8M229.32 352.90h2.8M232.43 343.93V348.90M231.03 343.93h2.8M231.03 348.90h2.8M234.15 341.98V346.50M232.75 341.98h2.8M232.75 346.50h2.8M235.87 341.05V345.88M234.47 341.05h2.8M234.47 345.88h2.8M237.58 339.91V344.30M236.18 339.91h2.8M236.18 344.30h2.8M239.30 339.30V344.21M237.90 339.30h2.8M237.90 344.21h2.8M241.01 335.53V344.30M239.61 335.53h2.8M239.61 344.30h2.8M242.73 335.17V339.98M241.33 335.17h2.8M241.33 339.98h2.8M244.44 332.70V337.12M243.04 332.70h2.8M243.04 337.12h2.8M246.16 330.71V335.46M244.76 330.71h2.8M244.76 335.46h2.8M247.88 328.52V334.57M246.48 328.52h2.8M246.48 334.57h2.8M249.59 328.32V334.32M248.19 328.32h2.8M248.19 334.32h2.8M251.31 328.70V333.13M249.91 328.70h2.8M249.91 333.13h2.8M253.02 328.76V332.98M251.62 328.76h2.8M251.62 332.98h2.8M254.74 327.00V332.54M253.34 327.00h2.8M253.34 332.54h2.8M256.45 323.20V328.22M255.05 323.20h2.8M255.05 328.22h2.8M258.17 319.97V325.59M256.77 319.97h2.8M256.77 325.59h2.8M259.89 319.34V325.26M258.49 319.34h2.8M258.49 325.26h2.8M261.60 319.32V324.79M260.20 319.32h2.8M260.20 324.79h2.8M263.32 318.37V322.77M261.92 318.37h2.8M261.92 322.77h2.8M265.03 317.26V322.95M263.63 317.26h2.8M263.63 322.95h2.8M266.75 315.63V323.87M265.35 315.63h2.8M265.35 323.87h2.8M268.46 316.01V320.50M267.06 316.01h2.8M267.06 320.50h2.8M270.18 314.74V319.53M268.78 314.74h2.8M268.78 319.53h2.8M271.90 314.51V318.75M270.50 314.51h2.8M270.50 318.75h2.8M273.61 312.40V317.89M272.21 312.40h2.8M272.21 317.89h2.8M275.33 310.52V316.42M273.93 310.52h2.8M273.93 316.42h2.8M277.04 309.68V315.34M275.64 309.68h2.8M275.64 315.34h2.8M278.76 310.48V315.54M277.36 310.48h2.8M277.36 315.54h2.8M280.47 307.88V316.77M279.07 307.88h2.8M279.07 316.77h2.8M282.19 309.09V314.99M280.79 309.09h2.8M280.79 314.99h2.8M283.91 307.07V315.82M282.51 307.07h2.8M282.51 315.82h2.8M285.62 307.51V313.45M284.22 307.51h2.8M284.22 313.45h2.8M287.34 306.94V311.20M285.94 306.94h2.8M285.94 311.20h2.8M289.05 305.71V310.10M287.65 305.71h2.8M287.65 310.10h2.8M290.77 306.37V310.97M289.37 306.37h2.8M289.37 310.97h2.8M292.48 307.19V312.91M291.08 307.19h2.8M291.08 312.91h2.8M294.20 307.32V312.92M292.80 307.32h2.8M292.80 312.92h2.8M295.92 305.44V311.16M294.52 305.44h2.8M294.52 311.16h2.8M297.63 304.48V309.22M296.23 304.48h2.8M296.23 309.22h2.8M299.35 302.89V309.02M297.95 302.89h2.8M297.95 309.02h2.8M301.06 301.51V307.60M299.66 301.51h2.8M299.66 307.60h2.8M302.78 300.03V305.73M301.38 300.03h2.8M301.38 305.73h2.8M304.49 300.35V305.82M303.09 300.35h2.8M303.09 305.82h2.8M306.21 302.65V306.92M304.81 302.65h2.8M304.81 306.92h2.8M307.93 303.68V308.73M306.53 303.68h2.8M306.53 308.73h2.8M309.64 305.74V311.83M308.24 305.74h2.8M308.24 311.83h2.8M311.36 306.35V316.10M309.96 306.35h2.8M309.96 316.10h2.8M313.07 309.05V314.67M311.67 309.05h2.8M311.67 314.67h2.8M314.79 311.18V315.88M313.39 311.18h2.8M313.39 315.88h2.8M316.50 310.82V317.00M315.10 310.82h2.8M315.10 317.00h2.8M318.22 312.84V318.13M316.82 312.84h2.8M316.82 318.13h2.8M319.94 315.21V319.50M318.54 315.21h2.8M318.54 319.50h2.8M321.65 316.70V321.71M320.25 316.70h2.8M320.25 321.71h2.8M323.37 319.06V323.86M321.97 319.06h2.8M321.97 323.86h2.8M325.08 320.24V325.87M323.68 320.24h2.8M323.68 325.87h2.8M326.80 323.24V327.90M325.40 323.24h2.8M325.40 327.90h2.8M328.51 325.57V330.80M327.11 325.57h2.8M327.11 330.80h2.8M330.23 327.36V333.47M328.83 327.36h2.8M328.83 333.47h2.8M331.95 331.05V335.84M330.55 331.05h2.8M330.55 335.84h2.8M333.66 333.65V338.11M332.26 333.65h2.8M332.26 338.11h2.8M335.38 338.20V343.05M333.98 338.20h2.8M333.98 343.05h2.8M337.09 341.99V347.29M335.69 341.99h2.8M335.69 347.29h2.8M338.81 346.87V351.38M337.41 346.87h2.8M337.41 351.38h2.8M340.52 347.81V353.21M339.12 347.81h2.8M339.12 353.21h2.8M342.24 348.53V354.28M340.84 348.53h2.8M340.84 354.28h2.8M343.96 350.79V355.19M342.56 350.79h2.8M342.56 355.19h2.8M345.67 350.61V355.52M344.27 350.61h2.8M344.27 355.52h2.8M347.39 350.77V355.06M345.99 350.77h2.8M345.99 355.06h2.8M349.10 350.13V354.70M347.70 350.13h2.8M347.70 354.70h2.8M350.82 349.71V354.80M349.42 349.71h2.8M349.42 354.80h2.8M352.53 350.49V355.32M351.13 350.49h2.8M351.13 355.32h2.8M354.25 351.05V355.97M352.85 351.05h2.8M352.85 355.97h2.8M355.97 350.45V358.76M354.57 350.45h2.8M354.57 358.76h2.8M357.68 351.45V357.68M356.28 351.45h2.8M356.28 357.68h2.8M359.40 353.20V357.53M358.00 353.20h2.8M358.00 357.53h2.8M361.11 353.68V359.88M359.71 353.68h2.8M359.71 359.88h2.8M362.83 354.16V358.54M361.43 354.16h2.8M361.43 358.54h2.8M364.54 354.40V359.46M363.14 354.40h2.8M363.14 359.46h2.8M366.26 351.96V361.25M364.86 351.96h2.8M364.86 361.25h2.8M367.98 353.46V359.53M366.58 353.46h2.8M366.58 359.53h2.8M369.69 353.99V359.46M368.29 353.99h2.8M368.29 359.46h2.8M371.41 353.87V359.39M370.01 353.87h2.8M370.01 359.39h2.8M373.12 355.37V360.04M371.72 355.37h2.8M371.72 360.04h2.8M374.84 355.15V359.37M373.44 355.15h2.8M373.44 359.37h2.8M376.55 353.59V359.50M375.15 353.59h2.8M375.15 359.50h2.8M378.27 353.96V358.51M376.87 353.96h2.8M376.87 358.51h2.8M379.99 352.76V358.68M378.59 352.76h2.8M378.59 358.68h2.8M381.70 352.77V357.28M380.30 352.77h2.8M380.30 357.28h2.8M383.42 353.41V359.30M382.02 353.41h2.8M382.02 359.30h2.8M385.13 353.90V358.74M383.73 353.90h2.8M383.73 358.74h2.8M386.85 354.16V360.04M385.45 354.16h2.8M385.45 360.04h2.8M388.56 354.35V359.27M387.16 354.35h2.8M387.16 359.27h2.8M390.28 354.89V359.82M388.88 354.89h2.8M388.88 359.82h2.8M392.00 352.91V361.57M390.60 352.91h2.8M390.60 361.57h2.8M393.71 354.66V360.00M392.31 354.66h2.8M392.31 360.00h2.8M395.43 355.79V361.65M394.03 355.79h2.8M394.03 361.65h2.8M397.14 355.76V361.80M395.74 355.76h2.8M395.74 361.80h2.8M398.86 355.69V360.88M397.46 355.69h2.8M397.46 360.88h2.8M400.57 356.89V361.38M399.17 356.89h2.8M399.17 361.38h2.8M402.29 356.50V361.87M400.89 356.50h2.8M400.89 361.87h2.8M404.01 355.93V361.52M402.61 355.93h2.8M402.61 361.52h2.8M405.72 356.69V361.77M404.32 356.69h2.8M404.32 361.77h2.8M407.44 355.64V363.99M406.04 355.64h2.8M406.04 363.99h2.8M409.15 356.87V361.94M407.75 356.87h2.8M407.75 361.94h2.8M410.87 355.27V364.93M409.47 355.27h2.8M409.47 364.93h2.8M412.58 356.45V362.36M411.18 356.45h2.8M411.18 362.36h2.8M414.30 356.83V362.63M412.90 356.83h2.8M412.90 362.63h2.8" stroke="#8fd38f" stroke-width="0.9" fill="none"/><g fill="#f25c0c"><circle cx="175.82" cy="360.44" r="2.8"/><circle cx="177.53" cy="358.67" r="2.8"/><circle cx="179.25" cy="358.11" r="2.8"/><circle cx="180.96" cy="357.55" r="2.8"/><circle cx="182.68" cy="358.21" r="2.8"/><circle cx="184.39" cy="358.00" r="2.8"/><circle cx="186.11" cy="357.69" r="2.8"/><circle cx="187.83" cy="357.88" r="2.8"/><circle cx="189.54" cy="357.09" r="2.8"/><circle cx="191.26" cy="356.72" r="2.8"/><circle cx="192.97" cy="357.38" r="2.8"/><circle cx="194.69" cy="357.72" r="2.8"/><circle cx="196.40" cy="356.88" r="2.8"/><circle cx="198.12" cy="357.65" r="2.8"/><circle cx="199.84" cy="357.90" r="2.8"/><circle cx="201.55" cy="356.93" r="2.8"/><circle cx="203.27" cy="357.45" r="2.8"/><circle cx="204.98" cy="357.55" r="2.8"/><circle cx="206.70" cy="357.45" r="2.8"/><circle cx="208.41" cy="357.31" r="2.8"/><circle cx="210.13" cy="357.59" r="2.8"/><circle cx="211.85" cy="358.51" r="2.8"/><circle cx="213.56" cy="358.19" r="2.8"/><circle cx="215.28" cy="357.20" r="2.8"/><circle cx="216.99" cy="356.15" r="2.8"/><circle cx="218.71" cy="356.63" r="2.8"/><circle cx="220.42" cy="356.06" r="2.8"/><circle cx="222.14" cy="354.18" r="2.8"/><circle cx="223.86" cy="353.25" r="2.8"/><circle cx="225.57" cy="352.28" r="2.8"/><circle cx="227.29" cy="349.15" r="2.8"/><circle cx="229.00" cy="344.55" r="2.8"/><circle cx="230.72" cy="340.40" r="2.8"/><circle cx="232.43" cy="338.59" r="2.8"/><circle cx="234.15" cy="336.31" r="2.8"/><circle cx="235.87" cy="334.60" r="2.8"/><circle cx="237.58" cy="332.61" r="2.8"/><circle cx="239.30" cy="331.12" r="2.8"/><circle cx="241.01" cy="328.43" r="2.8"/><circle cx="242.73" cy="326.50" r="2.8"/><circle cx="244.44" cy="324.05" r="2.8"/><circle cx="246.16" cy="322.85" r="2.8"/><circle cx="247.88" cy="321.27" r="2.8"/><circle cx="249.59" cy="320.07" r="2.8"/><circle cx="251.31" cy="320.34" r="2.8"/><circle cx="253.02" cy="318.41" r="2.8"/><circle cx="254.74" cy="316.97" r="2.8"/><circle cx="256.45" cy="316.62" r="2.8"/><circle cx="258.17" cy="315.75" r="2.8"/><circle cx="259.89" cy="313.77" r="2.8"/><circle cx="261.60" cy="313.30" r="2.8"/><circle cx="263.32" cy="311.86" r="2.8"/><circle cx="265.03" cy="310.91" r="2.8"/><circle cx="266.75" cy="309.00" r="2.8"/><circle cx="268.46" cy="307.81" r="2.8"/><circle cx="270.18" cy="307.93" r="2.8"/><circle cx="271.90" cy="306.52" r="2.8"/><circle cx="273.61" cy="304.32" r="2.8"/><circle cx="275.33" cy="302.76" r="2.8"/><circle cx="277.04" cy="303.09" r="2.8"/><circle cx="278.76" cy="304.67" r="2.8"/><circle cx="280.47" cy="305.03" r="2.8"/><circle cx="282.19" cy="305.01" r="2.8"/><circle cx="283.91" cy="302.82" r="2.8"/><circle cx="285.62" cy="300.96" r="2.8"/><circle cx="287.34" cy="301.10" r="2.8"/><circle cx="289.05" cy="300.40" r="2.8"/><circle cx="290.77" cy="300.39" r="2.8"/><circle cx="292.48" cy="300.91" r="2.8"/><circle cx="294.20" cy="299.65" r="2.8"/><circle cx="295.92" cy="297.80" r="2.8"/><circle cx="297.63" cy="296.04" r="2.8"/><circle cx="299.35" cy="295.87" r="2.8"/><circle cx="301.06" cy="297.23" r="2.8"/><circle cx="302.78" cy="297.57" r="2.8"/><circle cx="304.49" cy="299.17" r="2.8"/><circle cx="306.21" cy="300.03" r="2.8"/><circle cx="307.93" cy="299.82" r="2.8"/><circle cx="309.64" cy="301.78" r="2.8"/><circle cx="311.36" cy="302.70" r="2.8"/><circle cx="313.07" cy="303.52" r="2.8"/><circle cx="314.79" cy="305.91" r="2.8"/><circle cx="316.50" cy="306.19" r="2.8"/><circle cx="318.22" cy="308.69" r="2.8"/><circle cx="319.94" cy="310.86" r="2.8"/><circle cx="321.65" cy="313.38" r="2.8"/><circle cx="323.37" cy="315.05" r="2.8"/><circle cx="325.08" cy="316.73" r="2.8"/><circle cx="326.80" cy="319.15" r="2.8"/><circle cx="328.51" cy="321.09" r="2.8"/><circle cx="330.23" cy="324.56" r="2.8"/><circle cx="331.95" cy="326.94" r="2.8"/><circle cx="333.66" cy="329.41" r="2.8"/><circle cx="335.38" cy="332.92" r="2.8"/><circle cx="337.09" cy="336.98" r="2.8"/><circle cx="338.81" cy="340.88" r="2.8"/><circle cx="340.52" cy="345.42" r="2.8"/><circle cx="342.24" cy="346.67" r="2.8"/><circle cx="343.96" cy="346.85" r="2.8"/><circle cx="345.67" cy="346.02" r="2.8"/><circle cx="347.39" cy="347.34" r="2.8"/><circle cx="349.10" cy="347.51" r="2.8"/><circle cx="350.82" cy="347.70" r="2.8"/><circle cx="352.53" cy="348.70" r="2.8"/><circle cx="354.25" cy="348.10" r="2.8"/><circle cx="355.97" cy="348.93" r="2.8"/><circle cx="357.68" cy="350.49" r="2.8"/><circle cx="359.40" cy="351.45" r="2.8"/><circle cx="361.11" cy="351.17" r="2.8"/><circle cx="362.83" cy="350.04" r="2.8"/><circle cx="364.54" cy="349.86" r="2.8"/><circle cx="366.26" cy="350.14" r="2.8"/><circle cx="367.98" cy="350.07" r="2.8"/><circle cx="369.69" cy="351.22" r="2.8"/><circle cx="371.41" cy="351.97" r="2.8"/><circle cx="373.12" cy="352.18" r="2.8"/><circle cx="374.84" cy="352.04" r="2.8"/><circle cx="376.55" cy="350.97" r="2.8"/><circle cx="378.27" cy="350.43" r="2.8"/><circle cx="379.99" cy="349.89" r="2.8"/><circle cx="381.70" cy="351.01" r="2.8"/><circle cx="383.42" cy="350.46" r="2.8"/><circle cx="385.13" cy="351.83" r="2.8"/><circle cx="386.85" cy="351.48" r="2.8"/><circle cx="388.56" cy="351.64" r="2.8"/><circle cx="390.28" cy="353.26" r="2.8"/><circle cx="392.00" cy="352.65" r="2.8"/><circle cx="393.71" cy="354.03" r="2.8"/><circle cx="395.43" cy="354.32" r="2.8"/><circle cx="397.14" cy="354.58" r="2.8"/><circle cx="398.86" cy="353.76" r="2.8"/><circle cx="400.57" cy="354.42" r="2.8"/><circle cx="402.29" cy="354.16" r="2.8"/><circle cx="404.01" cy="355.56" r="2.8"/><circle cx="405.72" cy="355.67" r="2.8"/><circle cx="407.44" cy="355.60" r="2.8"/><circle cx="409.15" cy="355.59" r="2.8"/><circle cx="410.87" cy="355.66" r="2.8"/><circle cx="412.58" cy="356.57" r="2.8"/><circle cx="414.30" cy="356.31" r="2.8"/></g><g fill="#11a011"><circle cx="175.82" cy="362.47" r="2.9"/><circle cx="177.53" cy="362.46" r="2.9"/><circle cx="179.25" cy="362.05" r="2.9"/><circle cx="180.96" cy="361.77" r="2.9"/><circle cx="182.68" cy="362.13" r="2.9"/><circle cx="184.39" cy="362.00" r="2.9"/><circle cx="186.11" cy="361.38" r="2.9"/><circle cx="187.83" cy="360.98" r="2.9"/><circle cx="189.54" cy="359.50" r="2.9"/><circle cx="191.26" cy="358.47" r="2.9"/><circle cx="192.97" cy="358.55" r="2.9"/><circle cx="194.69" cy="360.43" r="2.9"/><circle cx="196.40" cy="361.80" r="2.9"/><circle cx="198.12" cy="361.29" r="2.9"/><circle cx="199.84" cy="362.38" r="2.9"/><circle cx="201.55" cy="361.75" r="2.9"/><circle cx="203.27" cy="362.47" r="2.9"/><circle cx="204.98" cy="362.55" r="2.9"/><circle cx="206.70" cy="362.78" r="2.9"/><circle cx="208.41" cy="361.96" r="2.9"/><circle cx="210.13" cy="362.32" r="2.9"/><circle cx="211.85" cy="362.99" r="2.9"/><circle cx="213.56" cy="362.00" r="2.9"/><circle cx="215.28" cy="361.63" r="2.9"/><circle cx="216.99" cy="361.73" r="2.9"/><circle cx="218.71" cy="361.12" r="2.9"/><circle cx="220.42" cy="361.10" r="2.9"/><circle cx="222.14" cy="360.40" r="2.9"/><circle cx="223.86" cy="358.99" r="2.9"/><circle cx="225.57" cy="358.11" r="2.9"/><circle cx="227.29" cy="356.11" r="2.9"/><circle cx="229.00" cy="353.50" r="2.9"/><circle cx="230.72" cy="350.23" r="2.9"/><circle cx="232.43" cy="346.41" r="2.9"/><circle cx="234.15" cy="344.24" r="2.9"/><circle cx="235.87" cy="343.46" r="2.9"/><circle cx="237.58" cy="342.11" r="2.9"/><circle cx="239.30" cy="341.76" r="2.9"/><circle cx="241.01" cy="339.92" r="2.9"/><circle cx="242.73" cy="337.58" r="2.9"/><circle cx="244.44" cy="334.91" r="2.9"/><circle cx="246.16" cy="333.08" r="2.9"/><circle cx="247.88" cy="331.54" r="2.9"/><circle cx="249.59" cy="331.32" r="2.9"/><circle cx="251.31" cy="330.92" r="2.9"/><circle cx="253.02" cy="330.87" r="2.9"/><circle cx="254.74" cy="329.77" r="2.9"/><circle cx="256.45" cy="325.71" r="2.9"/><circle cx="258.17" cy="322.78" r="2.9"/><circle cx="259.89" cy="322.30" r="2.9"/><circle cx="261.60" cy="322.05" r="2.9"/><circle cx="263.32" cy="320.57" r="2.9"/><circle cx="265.03" cy="320.10" r="2.9"/><circle cx="266.75" cy="319.75" r="2.9"/><circle cx="268.46" cy="318.26" r="2.9"/><circle cx="270.18" cy="317.13" r="2.9"/><circle cx="271.90" cy="316.63" r="2.9"/><circle cx="273.61" cy="315.15" r="2.9"/><circle cx="275.33" cy="313.47" r="2.9"/><circle cx="277.04" cy="312.51" r="2.9"/><circle cx="278.76" cy="313.01" r="2.9"/><circle cx="280.47" cy="312.32" r="2.9"/><circle cx="282.19" cy="312.04" r="2.9"/><circle cx="283.91" cy="311.45" r="2.9"/><circle cx="285.62" cy="310.48" r="2.9"/><circle cx="287.34" cy="309.07" r="2.9"/><circle cx="289.05" cy="307.91" r="2.9"/><circle cx="290.77" cy="308.67" r="2.9"/><circle cx="292.48" cy="310.05" r="2.9"/><circle cx="294.20" cy="310.12" r="2.9"/><circle cx="295.92" cy="308.30" r="2.9"/><circle cx="297.63" cy="306.85" r="2.9"/><circle cx="299.35" cy="305.96" r="2.9"/><circle cx="301.06" cy="304.55" r="2.9"/><circle cx="302.78" cy="302.88" r="2.9"/><circle cx="304.49" cy="303.08" r="2.9"/><circle cx="306.21" cy="304.79" r="2.9"/><circle cx="307.93" cy="306.21" r="2.9"/><circle cx="309.64" cy="308.78" r="2.9"/><circle cx="311.36" cy="311.23" r="2.9"/><circle cx="313.07" cy="311.86" r="2.9"/><circle cx="314.79" cy="313.53" r="2.9"/><circle cx="316.50" cy="313.91" r="2.9"/><circle cx="318.22" cy="315.48" r="2.9"/><circle cx="319.94" cy="317.36" r="2.9"/><circle cx="321.65" cy="319.21" r="2.9"/><circle cx="323.37" cy="321.46" r="2.9"/><circle cx="325.08" cy="323.05" r="2.9"/><circle cx="326.80" cy="325.57" r="2.9"/><circle cx="328.51" cy="328.19" r="2.9"/><circle cx="330.23" cy="330.41" r="2.9"/><circle cx="331.95" cy="333.44" r="2.9"/><circle cx="333.66" cy="335.88" r="2.9"/><circle cx="335.38" cy="340.63" r="2.9"/><circle cx="337.09" cy="344.64" r="2.9"/><circle cx="338.81" cy="349.12" r="2.9"/><circle cx="340.52" cy="350.51" r="2.9"/><circle cx="342.24" cy="351.41" r="2.9"/><circle cx="343.96" cy="352.99" r="2.9"/><circle cx="345.67" cy="353.06" r="2.9"/><circle cx="347.39" cy="352.92" r="2.9"/><circle cx="349.10" cy="352.42" r="2.9"/><circle cx="350.82" cy="352.26" r="2.9"/><circle cx="352.53" cy="352.90" r="2.9"/><circle cx="354.25" cy="353.51" r="2.9"/><circle cx="355.97" cy="354.60" r="2.9"/><circle cx="357.68" cy="354.57" r="2.9"/><circle cx="359.40" cy="355.36" r="2.9"/><circle cx="361.11" cy="356.78" r="2.9"/><circle cx="362.83" cy="356.35" r="2.9"/><circle cx="364.54" cy="356.93" r="2.9"/><circle cx="366.26" cy="356.61" r="2.9"/><circle cx="367.98" cy="356.50" r="2.9"/><circle cx="369.69" cy="356.72" r="2.9"/><circle cx="371.41" cy="356.63" r="2.9"/><circle cx="373.12" cy="357.71" r="2.9"/><circle cx="374.84" cy="357.26" r="2.9"/><circle cx="376.55" cy="356.55" r="2.9"/><circle cx="378.27" cy="356.23" r="2.9"/><circle cx="379.99" cy="355.72" r="2.9"/><circle cx="381.70" cy="355.02" r="2.9"/><circle cx="383.42" cy="356.36" r="2.9"/><circle cx="385.13" cy="356.32" r="2.9"/><circle cx="386.85" cy="357.10" r="2.9"/><circle cx="388.56" cy="356.81" r="2.9"/><circle cx="390.28" cy="357.36" r="2.9"/><circle cx="392.00" cy="357.24" r="2.9"/><circle cx="393.71" cy="357.33" r="2.9"/><circle cx="395.43" cy="358.72" r="2.9"/><circle cx="397.14" cy="358.78" r="2.9"/><circle cx="398.86" cy="358.28" r="2.9"/><circle cx="400.57" cy="359.13" r="2.9"/><circle cx="402.29" cy="359.19" r="2.9"/><circle cx="404.01" cy="358.72" r="2.9"/><circle cx="405.72" cy="359.23" r="2.9"/><circle cx="407.44" cy="359.81" r="2.9"/><circle cx="409.15" cy="359.41" r="2.9"/><circle cx="410.87" cy="360.10" r="2.9"/><circle cx="412.58" cy="359.41" r="2.9"/><circle cx="414.30" cy="359.73" r="2.9"/></g><line x1="483.90" y1="231.00" x2="728.50" y2="231.00" stroke="#555" stroke-width="1.4"/><line x1="728.50" y1="231.00" x2="728.50" y2="375.00" stroke="#555" stroke-width="1.3"/><line x1="483.90" y1="230.40" x2="483.90" y2="375.60" stroke="#666" stroke-width="1.8"/><line x1="483.90" y1="375.00" x2="728.50" y2="375.00" stroke="#666" stroke-width="1.7"/><line x1="480.70" y1="375.00" x2="483.90" y2="375.00" stroke="#3a3a3a" stroke-width="1.2"/><text x="474.4" y="378.0" font-size="10" text-anchor="end" fill="#1a1a1a" stroke="#1a1a1a" stroke-width="0.25">2</text><line x1="480.70" y1="343.00" x2="483.90" y2="343.00" stroke="#3a3a3a" stroke-width="1.2"/><text x="474.4" y="346.0" font-size="10" text-anchor="end" fill="#1a1a1a" stroke="#1a1a1a" stroke-width="0.25">4</text><line x1="480.70" y1="311.00" x2="483.90" y2="311.00" stroke="#3a3a3a" stroke-width="1.2"/><text x="474.4" y="314.0" font-size="10" text-anchor="end" fill="#1a1a1a" stroke="#1a1a1a" stroke-width="0.25">6</text><line x1="480.70" y1="279.00" x2="483.90" y2="279.00" stroke="#3a3a3a" stroke-width="1.2"/><text x="474.4" y="282.0" font-size="10" text-anchor="end" fill="#1a1a1a" stroke="#1a1a1a" stroke-width="0.25">8</text><line x1="480.70" y1="247.00" x2="483.90" y2="247.00" stroke="#3a3a3a" stroke-width="1.2"/><text x="474.4" y="250.0" font-size="10" text-anchor="end" fill="#1a1a1a" stroke="#1a1a1a" stroke-width="0.25">10</text><line x1="483.90" y1="375.00" x2="483.90" y2="378.00" stroke="#3a3a3a" stroke-width="1.2"/><text x="483.9" y="390.3" font-size="10" text-anchor="middle" fill="#1a1a1a" stroke="#1a1a1a" stroke-width="0.25">0</text><line x1="518.84" y1="375.00" x2="518.84" y2="378.00" stroke="#3a3a3a" stroke-width="1.2"/><text x="518.8" y="390.3" font-size="10" text-anchor="middle" fill="#1a1a1a" stroke="#1a1a1a" stroke-width="0.25">20</text><line x1="553.79" y1="375.00" x2="553.79" y2="378.00" stroke="#3a3a3a" stroke-width="1.2"/><text x="553.8" y="390.3" font-size="10" text-anchor="middle" fill="#1a1a1a" stroke="#1a1a1a" stroke-width="0.25">40</text><line x1="588.73" y1="375.00" x2="588.73" y2="378.00" stroke="#3a3a3a" stroke-width="1.2"/><text x="588.7" y="390.3" font-size="10" text-anchor="middle" fill="#1a1a1a" stroke="#1a1a1a" stroke-width="0.25">60</text><line x1="623.67" y1="375.00" x2="623.67" y2="378.00" stroke="#3a3a3a" stroke-width="1.2"/><text x="623.7" y="390.3" font-size="10" text-anchor="middle" fill="#1a1a1a" stroke="#1a1a1a" stroke-width="0.25">80</text><line x1="658.61" y1="375.00" x2="658.61" y2="378.00" stroke="#3a3a3a" stroke-width="1.2"/><text x="658.6" y="390.3" font-size="10" text-anchor="middle" fill="#1a1a1a" stroke="#1a1a1a" stroke-width="0.25">100</text><line x1="693.56" y1="375.00" x2="693.56" y2="378.00" stroke="#3a3a3a" stroke-width="1.2"/><text x="693.6" y="390.3" font-size="10" text-anchor="middle" fill="#1a1a1a" stroke="#1a1a1a" stroke-width="0.25">120</text><line x1="728.50" y1="375.00" x2="728.50" y2="378.00" stroke="#3a3a3a" stroke-width="1.2"/><text x="728.5" y="390.3" font-size="10" text-anchor="middle" fill="#1a1a1a" stroke="#1a1a1a" stroke-width="0.25">140</text><text x="606.2" y="405.4" font-size="11" text-anchor="middle" fill="#1a1a1a" stroke="#1a1a1a" stroke-width="0.25">Frame</text><text x="0" y="0" font-size="11.3" text-anchor="middle" fill="#1a1a1a" stroke="#1a1a1a" stroke-width="0.25" transform="translate(456.4,303.0) rotate(-90)">Parameter β (a.u.)</text><path d="M485.65 237.13V242.75M484.25 237.13h2.8M484.25 242.75h2.8M487.39 238.95V244.95M485.99 238.95h2.8M485.99 244.95h2.8M489.14 237.60V248.32M487.74 237.60h2.8M487.74 248.32h2.8M490.89 241.05V246.29M489.49 241.05h2.8M489.49 246.29h2.8M492.64 239.68V246.11M491.24 239.68h2.8M491.24 246.11h2.8M494.38 239.62V245.57M492.98 239.62h2.8M492.98 245.57h2.8M496.13 239.16V245.98M494.73 239.16h2.8M494.73 245.98h2.8M497.88 238.68V245.58M496.48 238.68h2.8M496.48 245.58h2.8M499.62 238.98V243.97M498.22 238.98h2.8M498.22 243.97h2.8M501.37 236.43V241.75M499.97 236.43h2.8M499.97 241.75h2.8M503.12 236.04V246.26M501.72 236.04h2.8M501.72 246.26h2.8M504.87 240.64V245.85M503.47 240.64h2.8M503.47 245.85h2.8M506.61 242.10V248.03M505.21 242.10h2.8M505.21 248.03h2.8M508.36 241.64V247.37M506.96 241.64h2.8M506.96 247.37h2.8M510.11 241.70V246.52M508.71 241.70h2.8M508.71 246.52h2.8M511.85 239.02V248.62M510.45 239.02h2.8M510.45 248.62h2.8M513.60 241.49V247.39M512.20 241.49h2.8M512.20 247.39h2.8M515.35 242.36V247.27M513.95 242.36h2.8M513.95 247.27h2.8M517.10 243.09V249.50M515.70 243.09h2.8M515.70 249.50h2.8M518.84 243.55V249.01M517.44 243.55h2.8M517.44 249.01h2.8M520.59 243.60V249.03M519.19 243.60h2.8M519.19 249.03h2.8M522.34 243.71V249.78M520.94 243.71h2.8M520.94 249.78h2.8M524.08 241.27V252.45M522.68 241.27h2.8M522.68 252.45h2.8M525.83 242.99V249.14M524.43 242.99h2.8M524.43 249.14h2.8M527.58 242.46V249.36M526.18 242.46h2.8M526.18 249.36h2.8M529.33 240.15V246.47M527.93 240.15h2.8M527.93 246.47h2.8M531.07 241.43V247.10M529.67 241.43h2.8M529.67 247.10h2.8M532.82 240.15V246.86M531.42 240.15h2.8M531.42 246.86h2.8M534.57 239.49V246.54M533.17 239.49h2.8M533.17 246.54h2.8M536.31 241.28V246.81M534.91 241.28h2.8M534.91 246.81h2.8M538.06 245.20V251.78M536.66 245.20h2.8M536.66 251.78h2.8M539.81 251.21V257.53M538.41 251.21h2.8M538.41 257.53h2.8M541.56 260.82V266.94M540.16 260.82h2.8M540.16 266.94h2.8M543.30 270.82V275.77M541.90 270.82h2.8M541.90 275.77h2.8M545.05 277.44V283.02M543.65 277.44h2.8M543.65 283.02h2.8M546.80 285.01V290.97M545.40 285.01h2.8M545.40 290.97h2.8M548.54 288.81V294.20M547.14 288.81h2.8M547.14 294.20h2.8M550.29 294.84V300.48M548.89 294.84h2.8M548.89 300.48h2.8M552.04 299.64V304.45M550.64 299.64h2.8M550.64 304.45h2.8M553.79 301.59V307.48M552.39 301.59h2.8M552.39 307.48h2.8M555.53 301.30V307.46M554.13 301.30h2.8M554.13 307.46h2.8M557.28 302.04V311.24M555.88 302.04h2.8M555.88 311.24h2.8M559.03 303.89V309.42M557.63 303.89h2.8M557.63 309.42h2.8M560.77 304.69V311.23M559.37 304.69h2.8M559.37 311.23h2.8M562.52 304.66V311.71M561.12 304.66h2.8M561.12 311.71h2.8M564.27 305.46V312.48M562.87 305.46h2.8M562.87 312.48h2.8M566.02 307.05V312.05M564.62 307.05h2.8M564.62 312.05h2.8M567.76 306.51V312.70M566.36 306.51h2.8M566.36 312.70h2.8M569.51 306.53V312.19M568.11 306.53h2.8M568.11 312.19h2.8M571.26 306.87V312.70M569.86 306.87h2.8M569.86 312.70h2.8M573.00 309.31V314.27M571.60 309.31h2.8M571.60 314.27h2.8M574.75 307.58V314.54M573.35 307.58h2.8M573.35 314.54h2.8M576.50 305.38V314.80M575.10 305.38h2.8M575.10 314.80h2.8M578.25 309.60V314.79M576.85 309.60h2.8M576.85 314.79h2.8M579.99 307.53V314.02M578.59 307.53h2.8M578.59 314.02h2.8M581.74 307.64V313.40M580.34 307.64h2.8M580.34 313.40h2.8M583.49 308.27V314.52M582.09 308.27h2.8M582.09 314.52h2.8M585.23 307.15V313.51M583.83 307.15h2.8M583.83 313.51h2.8M586.98 307.33V313.89M585.58 307.33h2.8M585.58 313.89h2.8M588.73 307.32V313.57M587.33 307.32h2.8M587.33 313.57h2.8M590.48 305.89V312.63M589.08 305.89h2.8M589.08 312.63h2.8M592.22 307.01V312.63M590.82 307.01h2.8M590.82 312.63h2.8M593.97 305.66V310.91M592.57 305.66h2.8M592.57 310.91h2.8M595.72 305.57V312.47M594.32 305.57h2.8M594.32 312.47h2.8M597.46 305.58V312.59M596.06 305.58h2.8M596.06 312.59h2.8M599.21 304.84V310.43M597.81 304.84h2.8M597.81 310.43h2.8M600.96 305.18V311.54M599.56 305.18h2.8M599.56 311.54h2.8M602.71 304.16V310.59M601.31 304.16h2.8M601.31 310.59h2.8M604.45 305.78V310.72M603.05 305.78h2.8M603.05 310.72h2.8M606.20 306.82V311.72M604.80 306.82h2.8M604.80 311.72h2.8M607.95 305.58V311.18M606.55 305.58h2.8M606.55 311.18h2.8M609.69 305.77V312.01M608.29 305.77h2.8M608.29 312.01h2.8M611.44 304.37V314.29M610.04 304.37h2.8M610.04 314.29h2.8M613.19 304.48V311.50M611.79 304.48h2.8M611.79 311.50h2.8M614.94 305.02V316.19M613.54 305.02h2.8M613.54 316.19h2.8M616.68 307.10V313.37M615.28 307.10h2.8M615.28 313.37h2.8M618.43 306.16V311.75M617.03 306.16h2.8M617.03 311.75h2.8M620.18 307.56V312.74M618.78 307.56h2.8M618.78 312.74h2.8M621.92 304.96V311.60M620.52 304.96h2.8M620.52 311.60h2.8M623.67 303.59V310.34M622.27 303.59h2.8M622.27 310.34h2.8M625.42 305.24V311.33M624.02 305.24h2.8M624.02 311.33h2.8M627.17 303.45V309.58M625.77 303.45h2.8M625.77 309.58h2.8M628.91 303.02V309.27M627.51 303.02h2.8M627.51 309.27h2.8M630.66 300.10V306.68M629.26 300.10h2.8M629.26 306.68h2.8M632.41 300.71V307.22M631.01 300.71h2.8M631.01 307.22h2.8M634.15 297.67V304.33M632.75 297.67h2.8M632.75 304.33h2.8M635.90 297.05V303.70M634.50 297.05h2.8M634.50 303.70h2.8M637.65 296.08V301.96M636.25 296.08h2.8M636.25 301.96h2.8M639.40 293.32V299.37M638.00 293.32h2.8M638.00 299.37h2.8M641.14 291.47V300.59M639.74 291.47h2.8M639.74 300.59h2.8M642.89 289.45V295.39M641.49 289.45h2.8M641.49 295.39h2.8M644.64 286.70V293.35M643.24 286.70h2.8M643.24 293.35h2.8M646.38 281.76V288.94M644.98 281.76h2.8M644.98 288.94h2.8M648.13 274.98V281.60M646.73 274.98h2.8M646.73 281.60h2.8M649.88 265.42V270.29M648.48 265.42h2.8M648.48 270.29h2.8M651.63 249.30V254.24M650.23 249.30h2.8M650.23 254.24h2.8M653.37 245.56V251.69M651.97 245.56h2.8M651.97 251.69h2.8M655.12 244.46V251.51M653.72 244.46h2.8M653.72 251.51h2.8M656.87 246.49V251.64M655.47 246.49h2.8M655.47 251.64h2.8M658.61 245.82V252.39M657.21 245.82h2.8M657.21 252.39h2.8M660.36 242.84V252.03M658.96 242.84h2.8M658.96 252.03h2.8M662.11 245.77V252.43M660.71 245.77h2.8M660.71 252.43h2.8M663.86 244.65V251.81M662.46 244.65h2.8M662.46 251.81h2.8M665.60 246.34V252.67M664.20 246.34h2.8M664.20 252.67h2.8M667.35 246.11V252.83M665.95 246.11h2.8M665.95 252.83h2.8M669.10 247.24V252.81M667.70 247.24h2.8M667.70 252.81h2.8M670.84 245.73V250.79M669.44 245.73h2.8M669.44 250.79h2.8M672.59 246.25V251.21M671.19 246.25h2.8M671.19 251.21h2.8M674.34 246.62V252.38M672.94 246.62h2.8M672.94 252.38h2.8M676.09 247.39V252.34M674.69 247.39h2.8M674.69 252.34h2.8M677.83 246.21V251.99M676.43 246.21h2.8M676.43 251.99h2.8M679.58 243.74V250.81M678.18 243.74h2.8M678.18 250.81h2.8M681.33 246.24V251.58M679.93 246.24h2.8M679.93 251.58h2.8M683.07 245.06V250.49M681.67 245.06h2.8M681.67 250.49h2.8M684.82 246.44V251.80M683.42 246.44h2.8M683.42 251.80h2.8M686.57 246.65V253.27M685.17 246.65h2.8M685.17 253.27h2.8M688.32 245.38V250.90M686.92 245.38h2.8M686.92 250.90h2.8M690.06 247.08V252.40M688.66 247.08h2.8M688.66 252.40h2.8M691.81 245.98V251.16M690.41 245.98h2.8M690.41 251.16h2.8M693.56 243.52V250.40M692.16 243.52h2.8M692.16 250.40h2.8M695.30 242.98V249.59M693.90 242.98h2.8M693.90 249.59h2.8M697.05 243.82V249.30M695.65 243.82h2.8M695.65 249.30h2.8M698.80 244.60V250.56M697.40 244.60h2.8M697.40 250.56h2.8M700.55 244.32V249.51M699.15 244.32h2.8M699.15 249.51h2.8M702.29 242.58V248.81M700.89 242.58h2.8M700.89 248.81h2.8M704.04 242.36V248.55M702.64 242.36h2.8M702.64 248.55h2.8M705.79 243.04V248.34M704.39 243.04h2.8M704.39 248.34h2.8M707.53 244.65V250.31M706.13 244.65h2.8M706.13 250.31h2.8M709.28 242.45V249.32M707.88 242.45h2.8M707.88 249.32h2.8M711.03 243.40V250.28M709.63 243.40h2.8M709.63 250.28h2.8M712.78 241.40V250.91M711.38 241.40h2.8M711.38 250.91h2.8M714.52 244.67V249.74M713.12 244.67h2.8M713.12 249.74h2.8M716.27 244.10V248.93M714.87 244.10h2.8M714.87 248.93h2.8M718.02 243.42V248.59M716.62 243.42h2.8M716.62 248.59h2.8M719.76 245.50V250.53M718.36 245.50h2.8M718.36 250.53h2.8M721.51 244.02V250.46M720.11 244.02h2.8M720.11 250.46h2.8M723.26 244.93V250.55M721.86 244.93h2.8M721.86 250.55h2.8M725.01 244.89V251.41M723.61 244.89h2.8M723.61 251.41h2.8M726.75 243.05V254.20M725.35 243.05h2.8M725.35 254.20h2.8M728.50 243.62V248.98M727.10 243.62h2.8M727.10 248.98h2.8" stroke="#f8a877" stroke-width="0.9" fill="none"/><path d="M485.65 245.39V257.72M484.25 245.39h2.8M484.25 257.72h2.8M487.39 242.15V258.53M485.99 242.15h2.8M485.99 258.53h2.8M489.14 246.20V257.65M487.74 246.20h2.8M487.74 257.65h2.8M490.89 246.39V257.09M489.49 246.39h2.8M489.49 257.09h2.8M492.64 245.62V259.75M491.24 245.62h2.8M491.24 259.75h2.8M494.38 246.33V258.41M492.98 246.33h2.8M492.98 258.41h2.8M496.13 245.13V259.86M494.73 245.13h2.8M494.73 259.86h2.8M497.88 247.69V261.40M496.48 247.69h2.8M496.48 261.40h2.8M499.62 246.92V258.37M498.22 246.92h2.8M498.22 258.37h2.8M501.37 246.46V260.98M499.97 246.46h2.8M499.97 260.98h2.8M503.12 243.45V259.78M501.72 243.45h2.8M501.72 259.78h2.8M504.87 245.87V258.57M503.47 245.87h2.8M503.47 258.57h2.8M506.61 244.11V258.22M505.21 244.11h2.8M505.21 258.22h2.8M508.36 245.95V258.47M506.96 245.95h2.8M506.96 258.47h2.8M510.11 244.65V259.26M508.71 244.65h2.8M508.71 259.26h2.8M511.85 247.31V259.71M510.45 247.31h2.8M510.45 259.71h2.8M513.60 244.96V260.17M512.20 244.96h2.8M512.20 260.17h2.8M515.35 246.55V262.00M513.95 246.55h2.8M513.95 262.00h2.8M517.10 247.53V259.87M515.70 247.53h2.8M515.70 259.87h2.8M518.84 246.71V258.83M517.44 246.71h2.8M517.44 258.83h2.8M520.59 246.18V260.51M519.19 246.18h2.8M519.19 260.51h2.8M522.34 247.12V260.26M520.94 247.12h2.8M520.94 260.26h2.8M524.08 247.09V262.17M522.68 247.09h2.8M522.68 262.17h2.8M525.83 247.30V257.84M524.43 247.30h2.8M524.43 257.84h2.8M527.58 245.15V257.96M526.18 245.15h2.8M526.18 257.96h2.8M529.33 245.28V260.05M527.93 245.28h2.8M527.93 260.05h2.8M531.07 245.34V258.20M529.67 245.34h2.8M529.67 258.20h2.8M532.82 244.47V257.16M531.42 244.47h2.8M531.42 257.16h2.8M534.57 244.08V257.15M533.17 244.08h2.8M533.17 257.15h2.8M536.31 244.78V258.67M534.91 244.78h2.8M534.91 258.67h2.8M538.06 251.89V267.36M536.66 251.89h2.8M536.66 267.36h2.8M539.81 261.78V272.70M538.41 261.78h2.8M538.41 272.70h2.8M541.56 270.13V279.48M540.16 270.13h2.8M540.16 279.48h2.8M543.30 279.15V284.83M541.90 279.15h2.8M541.90 284.83h2.8M545.05 282.52V286.67M543.65 282.52h2.8M543.65 286.67h2.8M546.80 286.08V290.25M545.40 286.08h2.8M545.40 290.25h2.8M548.54 288.55V293.97M547.14 288.55h2.8M547.14 293.97h2.8M550.29 291.90V295.92M548.89 291.90h2.8M548.89 295.92h2.8M552.04 296.38V301.64M550.64 296.38h2.8M550.64 301.64h2.8M553.79 299.45V303.41M552.39 299.45h2.8M552.39 303.41h2.8M555.53 300.81V305.43M554.13 300.81h2.8M554.13 305.43h2.8M557.28 300.98V306.67M555.88 300.98h2.8M555.88 306.67h2.8M559.03 302.15V307.56M557.63 302.15h2.8M557.63 307.56h2.8M560.77 304.07V308.43M559.37 304.07h2.8M559.37 308.43h2.8M562.52 304.65V308.36M561.12 304.65h2.8M561.12 308.36h2.8M564.27 304.30V308.48M562.87 304.30h2.8M562.87 308.48h2.8M566.02 303.77V307.99M564.62 303.77h2.8M564.62 307.99h2.8M567.76 303.36V308.53M566.36 303.36h2.8M566.36 308.53h2.8M569.51 304.20V308.70M568.11 304.20h2.8M568.11 308.70h2.8M571.26 306.21V309.86M569.86 306.21h2.8M569.86 309.86h2.8M573.00 304.36V309.42M571.60 304.36h2.8M571.60 309.42h2.8M574.75 304.64V309.64M573.35 304.64h2.8M573.35 309.64h2.8M576.50 303.64V311.46M575.10 303.64h2.8M575.10 311.46h2.8M578.25 305.12V309.48M576.85 305.12h2.8M576.85 309.48h2.8M579.99 307.65V311.85M578.59 307.65h2.8M578.59 311.85h2.8M581.74 305.57V309.94M580.34 305.57h2.8M580.34 309.94h2.8M583.49 307.09V311.78M582.09 307.09h2.8M582.09 311.78h2.8M585.23 307.98V312.83M583.83 307.98h2.8M583.83 312.83h2.8M586.98 307.31V310.69M585.58 307.31h2.8M585.58 310.69h2.8M588.73 307.99V312.12M587.33 307.99h2.8M587.33 312.12h2.8M590.48 306.98V311.13M589.08 306.98h2.8M589.08 311.13h2.8M592.22 306.44V310.08M590.82 306.44h2.8M590.82 310.08h2.8M593.97 305.87V309.51M592.57 305.87h2.8M592.57 309.51h2.8M595.72 304.87V309.28M594.32 304.87h2.8M594.32 309.28h2.8M597.46 306.91V310.74M596.06 306.91h2.8M596.06 310.74h2.8M599.21 306.79V310.57M597.81 306.79h2.8M597.81 310.57h2.8M600.96 307.41V310.55M599.56 307.41h2.8M599.56 310.55h2.8M602.71 303.07V311.07M601.31 303.07h2.8M601.31 311.07h2.8M604.45 307.12V311.42M603.05 307.12h2.8M603.05 311.42h2.8M606.20 307.11V310.96M604.80 307.11h2.8M604.80 310.96h2.8M607.95 308.31V312.61M606.55 308.31h2.8M606.55 312.61h2.8M609.69 308.58V312.66M608.29 308.58h2.8M608.29 312.66h2.8M611.44 308.13V311.98M610.04 308.13h2.8M610.04 311.98h2.8M613.19 310.00V313.27M611.79 310.00h2.8M611.79 313.27h2.8M614.94 307.30V311.30M613.54 307.30h2.8M613.54 311.30h2.8M616.68 309.05V313.13M615.28 309.05h2.8M615.28 313.13h2.8M618.43 309.90V312.80M617.03 309.90h2.8M617.03 312.80h2.8M620.18 308.00V311.81M618.78 308.00h2.8M618.78 311.81h2.8M621.92 307.83V311.09M620.52 307.83h2.8M620.52 311.09h2.8M623.67 308.27V311.29M622.27 308.27h2.8M622.27 311.29h2.8M625.42 305.54V309.09M624.02 305.54h2.8M624.02 309.09h2.8M627.17 306.27V308.96M625.77 306.27h2.8M625.77 308.96h2.8M628.91 305.87V308.51M627.51 305.87h2.8M627.51 308.51h2.8M630.66 304.09V307.03M629.26 304.09h2.8M629.26 307.03h2.8M632.41 303.97V307.24M631.01 303.97h2.8M631.01 307.24h2.8M634.15 302.49V305.68M632.75 302.49h2.8M632.75 305.68h2.8M635.90 301.85V305.45M634.50 301.85h2.8M634.50 305.45h2.8M637.65 301.25V304.72M636.25 301.25h2.8M636.25 304.72h2.8M639.40 300.57V303.94M638.00 300.57h2.8M638.00 303.94h2.8M641.14 296.70V304.33M639.74 296.70h2.8M639.74 304.33h2.8M642.89 297.93V302.71M641.49 297.93h2.8M641.49 302.71h2.8M644.64 295.63V301.19M643.24 295.63h2.8M643.24 301.19h2.8M646.38 292.81V299.07M644.98 292.81h2.8M644.98 299.07h2.8M648.13 292.70V302.18M646.73 292.70h2.8M646.73 302.18h2.8M649.88 280.69V291.31M648.48 280.69h2.8M648.48 291.31h2.8M651.63 266.86V279.28M650.23 266.86h2.8M650.23 279.28h2.8M653.37 254.92V268.98M651.97 254.92h2.8M651.97 268.98h2.8M655.12 252.34V267.71M653.72 252.34h2.8M653.72 267.71h2.8M656.87 251.68V264.62M655.47 251.68h2.8M655.47 264.62h2.8M658.61 248.41V265.10M657.21 248.41h2.8M657.21 265.10h2.8M660.36 245.67V264.42M658.96 245.67h2.8M658.96 264.42h2.8M662.11 245.81V261.71M660.71 245.81h2.8M660.71 261.71h2.8M663.86 246.23V262.86M662.46 246.23h2.8M662.46 262.86h2.8M665.60 246.37V259.74M664.20 246.37h2.8M664.20 259.74h2.8M667.35 246.31V260.85M665.95 246.31h2.8M665.95 260.85h2.8M669.10 245.02V263.23M667.70 245.02h2.8M667.70 263.23h2.8M670.84 243.99V266.70M669.44 243.99h2.8M669.44 266.70h2.8M672.59 246.19V262.82M671.19 246.19h2.8M671.19 262.82h2.8M674.34 246.85V261.85M672.94 246.85h2.8M672.94 261.85h2.8M676.09 244.23V265.23M674.69 244.23h2.8M674.69 265.23h2.8M677.83 245.22V260.16M676.43 245.22h2.8M676.43 260.16h2.8M679.58 245.51V259.89M678.18 245.51h2.8M678.18 259.89h2.8M681.33 247.26V261.20M679.93 247.26h2.8M679.93 261.20h2.8M683.07 246.12V264.82M681.67 246.12h2.8M681.67 264.82h2.8M684.82 248.30V264.68M683.42 248.30h2.8M683.42 264.68h2.8M686.57 246.59V262.92M685.17 246.59h2.8M685.17 262.92h2.8M688.32 245.22V261.83M686.92 245.22h2.8M686.92 261.83h2.8M690.06 246.05V259.07M688.66 246.05h2.8M688.66 259.07h2.8M691.81 244.40V257.83M690.41 244.40h2.8M690.41 257.83h2.8M693.56 243.27V256.92M692.16 243.27h2.8M692.16 256.92h2.8M695.30 243.29V258.35M693.90 243.29h2.8M693.90 258.35h2.8M697.05 243.18V260.22M695.65 243.18h2.8M695.65 260.22h2.8M698.80 244.90V258.79M697.40 244.90h2.8M697.40 258.79h2.8M700.55 244.99V259.92M699.15 244.99h2.8M699.15 259.92h2.8M702.29 244.33V262.72M700.89 244.33h2.8M700.89 262.72h2.8M704.04 245.97V259.73M702.64 245.97h2.8M702.64 259.73h2.8M705.79 243.47V261.90M704.39 243.47h2.8M704.39 261.90h2.8M707.53 243.82V259.80M706.13 243.82h2.8M706.13 259.80h2.8M709.28 245.77V259.33M707.88 245.77h2.8M707.88 259.33h2.8M711.03 247.07V260.92M709.63 247.07h2.8M709.63 260.92h2.8M712.78 245.25V261.29M711.38 245.25h2.8M711.38 261.29h2.8M714.52 245.67V259.73M713.12 245.67h2.8M713.12 259.73h2.8M716.27 245.82V259.92M714.87 245.82h2.8M714.87 259.92h2.8M718.02 246.58V260.91M716.62 246.58h2.8M716.62 260.91h2.8M719.76 245.75V261.76M718.36 245.75h2.8M718.36 261.76h2.8M721.51 245.95V258.85M720.11 245.95h2.8M720.11 258.85h2.8M723.26 245.82V261.74M721.86 245.82h2.8M721.86 261.74h2.8M725.01 244.91V261.36M723.61 244.91h2.8M723.61 261.36h2.8M726.75 246.47V260.74M725.35 246.47h2.8M725.35 260.74h2.8M728.50 246.14V259.93M727.10 246.14h2.8M727.10 259.93h2.8" stroke="#8fd38f" stroke-width="0.9" fill="none"/><g fill="#f25c0c"><circle cx="485.65" cy="239.94" r="3.0"/><circle cx="487.39" cy="241.95" r="3.0"/><circle cx="489.14" cy="242.96" r="3.0"/><circle cx="490.89" cy="243.67" r="3.0"/><circle cx="492.64" cy="242.90" r="3.0"/><circle cx="494.38" cy="242.60" r="3.0"/><circle cx="496.13" cy="242.57" r="3.0"/><circle cx="497.88" cy="242.13" r="3.0"/><circle cx="499.62" cy="241.47" r="3.0"/><circle cx="501.37" cy="239.09" r="3.0"/><circle cx="503.12" cy="241.15" r="3.0"/><circle cx="504.87" cy="243.25" r="3.0"/><circle cx="506.61" cy="245.06" r="3.0"/><circle cx="508.36" cy="244.51" r="3.0"/><circle cx="510.11" cy="244.11" r="3.0"/><circle cx="511.85" cy="243.82" r="3.0"/><circle cx="513.60" cy="244.44" r="3.0"/><circle cx="515.35" cy="244.82" r="3.0"/><circle cx="517.10" cy="246.29" r="3.0"/><circle cx="518.84" cy="246.28" r="3.0"/><circle cx="520.59" cy="246.32" r="3.0"/><circle cx="522.34" cy="246.75" r="3.0"/><circle cx="524.08" cy="246.86" r="3.0"/><circle cx="525.83" cy="246.06" r="3.0"/><circle cx="527.58" cy="245.91" r="3.0"/><circle cx="529.33" cy="243.31" r="3.0"/><circle cx="531.07" cy="244.26" r="3.0"/><circle cx="532.82" cy="243.51" r="3.0"/><circle cx="534.57" cy="243.01" r="3.0"/><circle cx="536.31" cy="244.04" r="3.0"/><circle cx="538.06" cy="248.49" r="3.0"/><circle cx="539.81" cy="254.37" r="3.0"/><circle cx="541.56" cy="263.88" r="3.0"/><circle cx="543.30" cy="273.30" r="3.0"/><circle cx="545.05" cy="280.23" r="3.0"/><circle cx="546.80" cy="287.99" r="3.0"/><circle cx="548.54" cy="291.50" r="3.0"/><circle cx="550.29" cy="297.66" r="3.0"/><circle cx="552.04" cy="302.04" r="3.0"/><circle cx="553.79" cy="304.54" r="3.0"/><circle cx="555.53" cy="304.38" r="3.0"/><circle cx="557.28" cy="306.64" r="3.0"/><circle cx="559.03" cy="306.65" r="3.0"/><circle cx="560.77" cy="307.96" r="3.0"/><circle cx="562.52" cy="308.18" r="3.0"/><circle cx="564.27" cy="308.97" r="3.0"/><circle cx="566.02" cy="309.55" r="3.0"/><circle cx="567.76" cy="309.60" r="3.0"/><circle cx="569.51" cy="309.36" r="3.0"/><circle cx="571.26" cy="309.78" r="3.0"/><circle cx="573.00" cy="311.79" r="3.0"/><circle cx="574.75" cy="311.06" r="3.0"/><circle cx="576.50" cy="310.09" r="3.0"/><circle cx="578.25" cy="312.20" r="3.0"/><circle cx="579.99" cy="310.78" r="3.0"/><circle cx="581.74" cy="310.52" r="3.0"/><circle cx="583.49" cy="311.39" r="3.0"/><circle cx="585.23" cy="310.33" r="3.0"/><circle cx="586.98" cy="310.61" r="3.0"/><circle cx="588.73" cy="310.44" r="3.0"/><circle cx="590.48" cy="309.26" r="3.0"/><circle cx="592.22" cy="309.82" r="3.0"/><circle cx="593.97" cy="308.29" r="3.0"/><circle cx="595.72" cy="309.02" r="3.0"/><circle cx="597.46" cy="309.09" r="3.0"/><circle cx="599.21" cy="307.64" r="3.0"/><circle cx="600.96" cy="308.36" r="3.0"/><circle cx="602.71" cy="307.37" r="3.0"/><circle cx="604.45" cy="308.25" r="3.0"/><circle cx="606.20" cy="309.27" r="3.0"/><circle cx="607.95" cy="308.38" r="3.0"/><circle cx="609.69" cy="308.89" r="3.0"/><circle cx="611.44" cy="309.33" r="3.0"/><circle cx="613.19" cy="307.99" r="3.0"/><circle cx="614.94" cy="310.60" r="3.0"/><circle cx="616.68" cy="310.23" r="3.0"/><circle cx="618.43" cy="308.95" r="3.0"/><circle cx="620.18" cy="310.15" r="3.0"/><circle cx="621.92" cy="308.28" r="3.0"/><circle cx="623.67" cy="306.97" r="3.0"/><circle cx="625.42" cy="308.28" r="3.0"/><circle cx="627.17" cy="306.52" r="3.0"/><circle cx="628.91" cy="306.14" r="3.0"/><circle cx="630.66" cy="303.39" r="3.0"/><circle cx="632.41" cy="303.96" r="3.0"/><circle cx="634.15" cy="301.00" r="3.0"/><circle cx="635.90" cy="300.38" r="3.0"/><circle cx="637.65" cy="299.02" r="3.0"/><circle cx="639.40" cy="296.34" r="3.0"/><circle cx="641.14" cy="296.03" r="3.0"/><circle cx="642.89" cy="292.42" r="3.0"/><circle cx="644.64" cy="290.02" r="3.0"/><circle cx="646.38" cy="285.35" r="3.0"/><circle cx="648.13" cy="278.29" r="3.0"/><circle cx="649.88" cy="267.86" r="3.0"/><circle cx="651.63" cy="251.77" r="3.0"/><circle cx="653.37" cy="248.63" r="3.0"/><circle cx="655.12" cy="247.98" r="3.0"/><circle cx="656.87" cy="249.06" r="3.0"/><circle cx="658.61" cy="249.10" r="3.0"/><circle cx="660.36" cy="247.43" r="3.0"/><circle cx="662.11" cy="249.10" r="3.0"/><circle cx="663.86" cy="248.23" r="3.0"/><circle cx="665.60" cy="249.51" r="3.0"/><circle cx="667.35" cy="249.47" r="3.0"/><circle cx="669.10" cy="250.02" r="3.0"/><circle cx="670.84" cy="248.26" r="3.0"/><circle cx="672.59" cy="248.73" r="3.0"/><circle cx="674.34" cy="249.50" r="3.0"/><circle cx="676.09" cy="249.87" r="3.0"/><circle cx="677.83" cy="249.10" r="3.0"/><circle cx="679.58" cy="247.27" r="3.0"/><circle cx="681.33" cy="248.91" r="3.0"/><circle cx="683.07" cy="247.78" r="3.0"/><circle cx="684.82" cy="249.12" r="3.0"/><circle cx="686.57" cy="249.96" r="3.0"/><circle cx="688.32" cy="248.14" r="3.0"/><circle cx="690.06" cy="249.74" r="3.0"/><circle cx="691.81" cy="248.57" r="3.0"/><circle cx="693.56" cy="246.96" r="3.0"/><circle cx="695.30" cy="246.29" r="3.0"/><circle cx="697.05" cy="246.56" r="3.0"/><circle cx="698.80" cy="247.58" r="3.0"/><circle cx="700.55" cy="246.91" r="3.0"/><circle cx="702.29" cy="245.70" r="3.0"/><circle cx="704.04" cy="245.45" r="3.0"/><circle cx="705.79" cy="245.69" r="3.0"/><circle cx="707.53" cy="247.48" r="3.0"/><circle cx="709.28" cy="245.88" r="3.0"/><circle cx="711.03" cy="246.84" r="3.0"/><circle cx="712.78" cy="246.15" r="3.0"/><circle cx="714.52" cy="247.21" r="3.0"/><circle cx="716.27" cy="246.52" r="3.0"/><circle cx="718.02" cy="246.01" r="3.0"/><circle cx="719.76" cy="248.01" r="3.0"/><circle cx="721.51" cy="247.24" r="3.0"/><circle cx="723.26" cy="247.74" r="3.0"/><circle cx="725.01" cy="248.15" r="3.0"/><circle cx="726.75" cy="248.63" r="3.0"/><circle cx="728.50" cy="246.30" r="3.0"/></g><g fill="#11a011"><circle cx="485.65" cy="251.55" r="3.0"/><circle cx="487.39" cy="250.34" r="3.0"/><circle cx="489.14" cy="251.93" r="3.0"/><circle cx="490.89" cy="251.74" r="3.0"/><circle cx="492.64" cy="252.69" r="3.0"/><circle cx="494.38" cy="252.37" r="3.0"/><circle cx="496.13" cy="252.49" r="3.0"/><circle cx="497.88" cy="254.54" r="3.0"/><circle cx="499.62" cy="252.65" r="3.0"/><circle cx="501.37" cy="253.72" r="3.0"/><circle cx="503.12" cy="251.62" r="3.0"/><circle cx="504.87" cy="252.22" r="3.0"/><circle cx="506.61" cy="251.17" r="3.0"/><circle cx="508.36" cy="252.21" r="3.0"/><circle cx="510.11" cy="251.95" r="3.0"/><circle cx="511.85" cy="253.51" r="3.0"/><circle cx="513.60" cy="252.56" r="3.0"/><circle cx="515.35" cy="254.27" r="3.0"/><circle cx="517.10" cy="253.70" r="3.0"/><circle cx="518.84" cy="252.77" r="3.0"/><circle cx="520.59" cy="253.35" r="3.0"/><circle cx="522.34" cy="253.69" r="3.0"/><circle cx="524.08" cy="254.63" r="3.0"/><circle cx="525.83" cy="252.57" r="3.0"/><circle cx="527.58" cy="251.55" r="3.0"/><circle cx="529.33" cy="252.66" r="3.0"/><circle cx="531.07" cy="251.77" r="3.0"/><circle cx="532.82" cy="250.82" r="3.0"/><circle cx="534.57" cy="250.62" r="3.0"/><circle cx="536.31" cy="251.73" r="3.0"/><circle cx="538.06" cy="259.62" r="3.0"/><circle cx="539.81" cy="267.24" r="3.0"/><circle cx="541.56" cy="274.80" r="3.0"/><circle cx="543.30" cy="281.99" r="3.0"/><circle cx="545.05" cy="284.59" r="3.0"/><circle cx="546.80" cy="288.16" r="3.0"/><circle cx="548.54" cy="291.26" r="3.0"/><circle cx="550.29" cy="293.91" r="3.0"/><circle cx="552.04" cy="299.01" r="3.0"/><circle cx="553.79" cy="301.43" r="3.0"/><circle cx="555.53" cy="303.12" r="3.0"/><circle cx="557.28" cy="303.82" r="3.0"/><circle cx="559.03" cy="304.86" r="3.0"/><circle cx="560.77" cy="306.25" r="3.0"/><circle cx="562.52" cy="306.50" r="3.0"/><circle cx="564.27" cy="306.39" r="3.0"/><circle cx="566.02" cy="305.88" r="3.0"/><circle cx="567.76" cy="305.95" r="3.0"/><circle cx="569.51" cy="306.45" r="3.0"/><circle cx="571.26" cy="308.04" r="3.0"/><circle cx="573.00" cy="306.89" r="3.0"/><circle cx="574.75" cy="307.14" r="3.0"/><circle cx="576.50" cy="307.55" r="3.0"/><circle cx="578.25" cy="307.30" r="3.0"/><circle cx="579.99" cy="309.75" r="3.0"/><circle cx="581.74" cy="307.75" r="3.0"/><circle cx="583.49" cy="309.43" r="3.0"/><circle cx="585.23" cy="310.40" r="3.0"/><circle cx="586.98" cy="309.00" r="3.0"/><circle cx="588.73" cy="310.06" r="3.0"/><circle cx="590.48" cy="309.05" r="3.0"/><circle cx="592.22" cy="308.26" r="3.0"/><circle cx="593.97" cy="307.69" r="3.0"/><circle cx="595.72" cy="307.08" r="3.0"/><circle cx="597.46" cy="308.82" r="3.0"/><circle cx="599.21" cy="308.68" r="3.0"/><circle cx="600.96" cy="308.98" r="3.0"/><circle cx="602.71" cy="307.07" r="3.0"/><circle cx="604.45" cy="309.27" r="3.0"/><circle cx="606.20" cy="309.03" r="3.0"/><circle cx="607.95" cy="310.46" r="3.0"/><circle cx="609.69" cy="310.62" r="3.0"/><circle cx="611.44" cy="310.06" r="3.0"/><circle cx="613.19" cy="311.63" r="3.0"/><circle cx="614.94" cy="309.30" r="3.0"/><circle cx="616.68" cy="311.09" r="3.0"/><circle cx="618.43" cy="311.35" r="3.0"/><circle cx="620.18" cy="309.91" r="3.0"/><circle cx="621.92" cy="309.46" r="3.0"/><circle cx="623.67" cy="309.78" r="3.0"/><circle cx="625.42" cy="307.31" r="3.0"/><circle cx="627.17" cy="307.62" r="3.0"/><circle cx="628.91" cy="307.19" r="3.0"/><circle cx="630.66" cy="305.56" r="3.0"/><circle cx="632.41" cy="305.60" r="3.0"/><circle cx="634.15" cy="304.09" r="3.0"/><circle cx="635.90" cy="303.65" r="3.0"/><circle cx="637.65" cy="302.98" r="3.0"/><circle cx="639.40" cy="302.25" r="3.0"/><circle cx="641.14" cy="300.51" r="3.0"/><circle cx="642.89" cy="300.32" r="3.0"/><circle cx="644.64" cy="298.41" r="3.0"/><circle cx="646.38" cy="295.94" r="3.0"/><circle cx="648.13" cy="297.44" r="3.0"/><circle cx="649.88" cy="286.00" r="3.0"/><circle cx="651.63" cy="273.07" r="3.0"/><circle cx="653.37" cy="261.95" r="3.0"/><circle cx="655.12" cy="260.02" r="3.0"/><circle cx="656.87" cy="258.15" r="3.0"/><circle cx="658.61" cy="256.76" r="3.0"/><circle cx="660.36" cy="255.05" r="3.0"/><circle cx="662.11" cy="253.76" r="3.0"/><circle cx="663.86" cy="254.54" r="3.0"/><circle cx="665.60" cy="253.05" r="3.0"/><circle cx="667.35" cy="253.58" r="3.0"/><circle cx="669.10" cy="254.12" r="3.0"/><circle cx="670.84" cy="255.35" r="3.0"/><circle cx="672.59" cy="254.50" r="3.0"/><circle cx="674.34" cy="254.35" r="3.0"/><circle cx="676.09" cy="254.73" r="3.0"/><circle cx="677.83" cy="252.69" r="3.0"/><circle cx="679.58" cy="252.70" r="3.0"/><circle cx="681.33" cy="254.23" r="3.0"/><circle cx="683.07" cy="255.47" r="3.0"/><circle cx="684.82" cy="256.49" r="3.0"/><circle cx="686.57" cy="254.76" r="3.0"/><circle cx="688.32" cy="253.52" r="3.0"/><circle cx="690.06" cy="252.56" r="3.0"/><circle cx="691.81" cy="251.11" r="3.0"/><circle cx="693.56" cy="250.10" r="3.0"/><circle cx="695.30" cy="250.82" r="3.0"/><circle cx="697.05" cy="251.70" r="3.0"/><circle cx="698.80" cy="251.85" r="3.0"/><circle cx="700.55" cy="252.46" r="3.0"/><circle cx="702.29" cy="253.53" r="3.0"/><circle cx="704.04" cy="252.85" r="3.0"/><circle cx="705.79" cy="252.69" r="3.0"/><circle cx="707.53" cy="251.81" r="3.0"/><circle cx="709.28" cy="252.55" r="3.0"/><circle cx="711.03" cy="253.99" r="3.0"/><circle cx="712.78" cy="253.27" r="3.0"/><circle cx="714.52" cy="252.70" r="3.0"/><circle cx="716.27" cy="252.87" r="3.0"/><circle cx="718.02" cy="253.75" r="3.0"/><circle cx="719.76" cy="253.76" r="3.0"/><circle cx="721.51" cy="252.40" r="3.0"/><circle cx="723.26" cy="253.78" r="3.0"/><circle cx="725.01" cy="253.13" r="3.0"/><circle cx="726.75" cy="253.61" r="3.0"/><circle cx="728.50" cy="253.03" r="3.0"/></g><line x1="174.40" y1="418.60" x2="416.10" y2="418.60" stroke="#444" stroke-width="1.3"/><line x1="416.10" y1="418.60" x2="416.10" y2="565.40" stroke="#555" stroke-width="1.3"/><line x1="174.40" y1="418.00" x2="174.40" y2="566.00" stroke="#2a2a2a" stroke-width="1.3"/><line x1="174.40" y1="565.40" x2="416.10" y2="565.40" stroke="#2a2a2a" stroke-width="1.3"/><line x1="171.20" y1="565.40" x2="174.40" y2="565.40" stroke="#3a3a3a" stroke-width="1.2"/><text x="164.9" y="568.4" font-size="10" text-anchor="end" fill="#1a1a1a" stroke="#1a1a1a" stroke-width="0.25">55</text><line x1="171.20" y1="533.94" x2="174.40" y2="533.94" stroke="#3a3a3a" stroke-width="1.2"/><text x="164.9" y="536.9" font-size="10" text-anchor="end" fill="#1a1a1a" stroke="#1a1a1a" stroke-width="0.25">70</text><line x1="171.20" y1="502.49" x2="174.40" y2="502.49" stroke="#3a3a3a" stroke-width="1.2"/><text x="164.9" y="505.5" font-size="10" text-anchor="end" fill="#1a1a1a" stroke="#1a1a1a" stroke-width="0.25">85</text><line x1="171.20" y1="471.03" x2="174.40" y2="471.03" stroke="#3a3a3a" stroke-width="1.2"/><text x="164.9" y="474.0" font-size="10" text-anchor="end" fill="#1a1a1a" stroke="#1a1a1a" stroke-width="0.25">100</text><line x1="171.20" y1="439.57" x2="174.40" y2="439.57" stroke="#3a3a3a" stroke-width="1.2"/><text x="164.9" y="442.6" font-size="10" text-anchor="end" fill="#1a1a1a" stroke="#1a1a1a" stroke-width="0.25">115</text><line x1="174.40" y1="565.40" x2="174.40" y2="568.40" stroke="#3a3a3a" stroke-width="1.2"/><text x="174.4" y="580.7" font-size="10" text-anchor="middle" fill="#1a1a1a" stroke="#1a1a1a" stroke-width="0.25">0</text><line x1="208.93" y1="565.40" x2="208.93" y2="568.40" stroke="#3a3a3a" stroke-width="1.2"/><text x="208.9" y="580.7" font-size="10" text-anchor="middle" fill="#1a1a1a" stroke="#1a1a1a" stroke-width="0.25">20</text><line x1="243.46" y1="565.40" x2="243.46" y2="568.40" stroke="#3a3a3a" stroke-width="1.2"/><text x="243.5" y="580.7" font-size="10" text-anchor="middle" fill="#1a1a1a" stroke="#1a1a1a" stroke-width="0.25">40</text><line x1="277.99" y1="565.40" x2="277.99" y2="568.40" stroke="#3a3a3a" stroke-width="1.2"/><text x="278.0" y="580.7" font-size="10" text-anchor="middle" fill="#1a1a1a" stroke="#1a1a1a" stroke-width="0.25">60</text><line x1="312.51" y1="565.40" x2="312.51" y2="568.40" stroke="#3a3a3a" stroke-width="1.2"/><text x="312.5" y="580.7" font-size="10" text-anchor="middle" fill="#1a1a1a" stroke="#1a1a1a" stroke-width="0.25">80</text><line x1="347.04" y1="565.40" x2="347.04" y2="568.40" stroke="#3a3a3a" stroke-width="1.2"/><text x="347.0" y="580.7" font-size="10" text-anchor="middle" fill="#1a1a1a" stroke="#1a1a1a" stroke-width="0.25">100</text><line x1="381.57" y1="565.40" x2="381.57" y2="568.40" stroke="#3a3a3a" stroke-width="1.2"/><text x="381.6" y="580.7" font-size="10" text-anchor="middle" fill="#1a1a1a" stroke="#1a1a1a" stroke-width="0.25">120</text><line x1="416.10" y1="565.40" x2="416.10" y2="568.40" stroke="#3a3a3a" stroke-width="1.2"/><text x="416.1" y="580.7" font-size="10" text-anchor="middle" fill="#1a1a1a" stroke="#1a1a1a" stroke-width="0.25">140</text><text x="295.2" y="595.8" font-size="11" text-anchor="middle" fill="#1a1a1a" stroke="#1a1a1a" stroke-width="0.25">Frame</text><text x="0" y="0" font-size="11.3" text-anchor="middle" fill="#1a1a1a" stroke="#1a1a1a" stroke-width="0.25" transform="translate(141.4,492.0) rotate(-90)">Parameter α (a.u.)</text><path d="M176.13 470.88V486.00M174.73 470.88h2.8M174.73 486.00h2.8M177.85 472.43V482.00M176.45 472.43h2.8M176.45 482.00h2.8M179.58 470.25V481.05M178.18 470.25h2.8M178.18 481.05h2.8M181.31 469.29V479.19M179.91 469.29h2.8M179.91 479.19h2.8M183.03 470.09V479.33M181.63 470.09h2.8M181.63 479.33h2.8M184.76 466.92V479.51M183.36 466.92h2.8M183.36 479.51h2.8M186.49 468.32V478.77M185.09 468.32h2.8M185.09 478.77h2.8M188.21 466.33V479.06M186.81 466.33h2.8M186.81 479.06h2.8M189.94 468.27V477.41M188.54 468.27h2.8M188.54 477.41h2.8M191.66 467.36V478.11M190.26 467.36h2.8M190.26 478.11h2.8M193.39 467.29V477.68M191.99 467.29h2.8M191.99 477.68h2.8M195.12 466.04V477.62M193.72 466.04h2.8M193.72 477.62h2.8M196.84 466.79V477.88M195.44 466.79h2.8M195.44 477.88h2.8M198.57 466.69V479.48M197.17 466.69h2.8M197.17 479.48h2.8M200.30 468.67V479.07M198.90 468.67h2.8M198.90 479.07h2.8M202.02 468.28V477.33M200.62 468.28h2.8M200.62 477.33h2.8M203.75 467.96V479.77M202.35 467.96h2.8M202.35 479.77h2.8M205.48 468.82V479.59M204.08 468.82h2.8M204.08 479.59h2.8M207.20 468.17V480.89M205.80 468.17h2.8M205.80 480.89h2.8M208.93 465.98V482.08M207.53 465.98h2.8M207.53 482.08h2.8M210.66 469.72V479.96M209.25 469.72h2.8M209.25 479.96h2.8M212.38 468.01V481.00M210.98 468.01h2.8M210.98 481.00h2.8M214.11 470.53V479.97M212.71 470.53h2.8M212.71 479.97h2.8M215.83 465.97V481.31M214.43 465.97h2.8M214.43 481.31h2.8M217.56 469.35V479.87M216.16 469.35h2.8M216.16 479.87h2.8M219.29 467.72V479.35M217.89 467.72h2.8M217.89 479.35h2.8M221.01 467.12V479.27M219.61 467.12h2.8M219.61 479.27h2.8M222.74 466.80V477.99M221.34 466.80h2.8M221.34 477.99h2.8M224.47 464.75V477.86M223.07 464.75h2.8M223.07 477.86h2.8M226.19 464.69V476.68M224.79 464.69h2.8M224.79 476.68h2.8M227.92 464.43V474.17M226.52 464.43h2.8M226.52 474.17h2.8M229.65 461.96V472.54M228.25 461.96h2.8M228.25 472.54h2.8M231.37 461.81V470.28M229.97 461.81h2.8M229.97 470.28h2.8M233.10 459.72V468.83M231.70 459.72h2.8M231.70 468.83h2.8M234.82 458.19V467.56M233.42 458.19h2.8M233.42 467.56h2.8M236.55 458.03V464.81M235.15 458.03h2.8M235.15 464.81h2.8M238.28 454.57V463.16M236.88 454.57h2.8M236.88 463.16h2.8M240.00 453.01V460.68M238.60 453.01h2.8M238.60 460.68h2.8M241.73 448.72V459.19M240.33 448.72h2.8M240.33 459.19h2.8M243.46 446.70V453.14M242.06 446.70h2.8M242.06 453.14h2.8M245.18 441.43V449.74M243.78 441.43h2.8M243.78 449.74h2.8M246.91 441.55V447.67M245.51 441.55h2.8M245.51 447.67h2.8M248.64 440.53V448.77M247.24 440.53h2.8M247.24 448.77h2.8M250.36 441.23V447.73M248.96 441.23h2.8M248.96 447.73h2.8M252.09 440.95V446.86M250.69 440.95h2.8M250.69 446.86h2.8M253.82 440.04V446.74M252.42 440.04h2.8M252.42 446.74h2.8M255.54 437.91V446.21M254.14 437.91h2.8M254.14 446.21h2.8M257.27 438.71V444.88M255.87 438.71h2.8M255.87 444.88h2.8M259.00 437.81V444.67M257.60 437.81h2.8M257.60 444.67h2.8M260.72 436.60V443.98M259.32 436.60h2.8M259.32 443.98h2.8M262.45 435.21V441.70M261.05 435.21h2.8M261.05 441.70h2.8M264.17 434.61V442.33M262.77 434.61h2.8M262.77 442.33h2.8M265.90 433.52V440.68M264.50 433.52h2.8M264.50 440.68h2.8M267.63 432.13V439.84M266.23 432.13h2.8M266.23 439.84h2.8M269.35 432.94V439.56M267.95 432.94h2.8M267.95 439.56h2.8M271.08 431.44V438.53M269.68 431.44h2.8M269.68 438.53h2.8M272.81 430.55V437.91M271.41 430.55h2.8M271.41 437.91h2.8M274.53 426.64V438.40M273.13 426.64h2.8M273.13 438.40h2.8M276.26 429.53V437.45M274.86 429.53h2.8M274.86 437.45h2.8M277.99 431.21V437.80M276.59 431.21h2.8M276.59 437.80h2.8M279.71 432.15V438.49M278.31 432.15h2.8M278.31 438.49h2.8M281.44 433.06V438.86M280.04 433.06h2.8M280.04 438.86h2.8M283.17 432.14V439.85M281.77 432.14h2.8M281.77 439.85h2.8M284.89 431.29V438.04M283.49 431.29h2.8M283.49 438.04h2.8M286.62 430.12V436.03M285.22 430.12h2.8M285.22 436.03h2.8M288.34 427.87V435.27M286.94 427.87h2.8M286.94 435.27h2.8M290.07 428.08V435.46M288.67 428.08h2.8M288.67 435.46h2.8M291.80 429.38V437.15M290.40 429.38h2.8M290.40 437.15h2.8M293.52 430.82V439.05M292.12 430.82h2.8M292.12 439.05h2.8M295.25 430.54V437.10M293.85 430.54h2.8M293.85 437.10h2.8M296.98 428.58V436.44M295.58 428.58h2.8M295.58 436.44h2.8M298.70 426.61V432.73M297.30 426.61h2.8M297.30 432.73h2.8M300.43 424.47V431.56M299.03 424.47h2.8M299.03 431.56h2.8M302.16 424.45V431.92M300.76 424.45h2.8M300.76 431.92h2.8M303.88 427.87V433.85M302.48 427.87h2.8M302.48 433.85h2.8M305.61 429.20V434.98M304.21 429.20h2.8M304.21 434.98h2.8M307.34 429.32V436.33M305.94 429.32h2.8M305.94 436.33h2.8M309.06 430.89V438.36M307.66 430.89h2.8M307.66 438.36h2.8M310.79 431.30V438.03M309.39 431.30h2.8M309.39 438.03h2.8M312.51 432.32V438.69M311.11 432.32h2.8M311.11 438.69h2.8M314.24 432.85V440.66M312.84 432.85h2.8M312.84 440.66h2.8M315.97 434.99V441.01M314.57 434.99h2.8M314.57 441.01h2.8M317.69 436.23V443.94M316.29 436.23h2.8M316.29 443.94h2.8M319.42 438.33V446.45M318.02 438.33h2.8M318.02 446.45h2.8M321.15 439.80V447.81M319.75 439.80h2.8M319.75 447.81h2.8M322.87 441.27V449.50M321.47 441.27h2.8M321.47 449.50h2.8M324.60 442.92V449.93M323.20 442.92h2.8M323.20 449.93h2.8M326.33 443.76V453.15M324.93 443.76h2.8M324.93 453.15h2.8M328.05 443.79V456.12M326.65 443.79h2.8M326.65 456.12h2.8M329.78 447.55V457.56M328.38 447.55h2.8M328.38 457.56h2.8M331.50 451.86V461.01M330.11 451.86h2.8M330.11 461.01h2.8M333.23 455.11V464.48M331.83 455.11h2.8M331.83 464.48h2.8M334.96 457.35V469.11M333.56 457.35h2.8M333.56 469.11h2.8M336.68 460.96V473.29M335.28 460.96h2.8M335.28 473.29h2.8M338.41 463.43V475.31M337.01 463.43h2.8M337.01 475.31h2.8M340.14 462.80V475.29M338.74 462.80h2.8M338.74 475.29h2.8M341.86 463.35V472.17M340.46 463.35h2.8M340.46 472.17h2.8M343.59 462.77V472.18M342.19 462.77h2.8M342.19 472.18h2.8M345.32 462.60V471.66M343.92 462.60h2.8M343.92 471.66h2.8M347.04 460.76V472.00M345.64 460.76h2.8M345.64 472.00h2.8M348.77 460.11V469.08M347.37 460.11h2.8M347.37 469.08h2.8M350.50 459.94V469.23M349.10 459.94h2.8M349.10 469.23h2.8M352.22 458.10V469.67M350.82 458.10h2.8M350.82 469.67h2.8M353.95 459.75V470.01M352.55 459.75h2.8M352.55 470.01h2.8M355.68 461.85V471.60M354.28 461.85h2.8M354.28 471.60h2.8M357.40 462.18V471.90M356.00 462.18h2.8M356.00 471.90h2.8M359.13 461.98V474.34M357.73 461.98h2.8M357.73 474.34h2.8M360.85 463.87V472.80M359.45 463.87h2.8M359.45 472.80h2.8M362.58 463.06V471.98M361.18 463.06h2.8M361.18 471.98h2.8M364.31 459.38V474.04M362.91 459.38h2.8M362.91 474.04h2.8M366.03 460.48V472.05M364.63 460.48h2.8M364.63 472.05h2.8M367.76 460.88V472.26M366.36 460.88h2.8M366.36 472.26h2.8M369.49 461.06V472.12M368.09 461.06h2.8M368.09 472.12h2.8M371.21 461.57V471.36M369.81 461.57h2.8M369.81 471.36h2.8M372.94 459.92V473.10M371.54 459.92h2.8M371.54 473.10h2.8M374.67 460.59V473.62M373.27 460.59h2.8M373.27 473.62h2.8M376.39 461.70V474.84M374.99 461.70h2.8M374.99 474.84h2.8M378.12 464.19V475.09M376.72 464.19h2.8M376.72 475.09h2.8M379.85 465.94V476.73M378.45 465.94h2.8M378.45 476.73h2.8M381.57 464.94V476.86M380.17 464.94h2.8M380.17 476.86h2.8M383.30 464.14V474.45M381.90 464.14h2.8M381.90 474.45h2.8M385.02 464.16V474.73M383.62 464.16h2.8M383.62 474.73h2.8M386.75 463.15V472.80M385.35 463.15h2.8M385.35 472.80h2.8M388.48 463.72V474.79M387.08 463.72h2.8M387.08 474.79h2.8M390.20 463.71V473.38M388.80 463.71h2.8M388.80 473.38h2.8M391.93 464.02V473.69M390.53 464.02h2.8M390.53 473.69h2.8M393.66 464.37V475.63M392.26 464.37h2.8M392.26 475.63h2.8M395.38 462.81V475.89M393.98 462.81h2.8M393.98 475.89h2.8M397.11 462.86V475.83M395.71 462.86h2.8M395.71 475.83h2.8M398.84 464.47V476.45M397.44 464.47h2.8M397.44 476.45h2.8M400.56 465.72V474.79M399.16 465.72h2.8M399.16 474.79h2.8M402.29 466.41V475.27M400.89 466.41h2.8M400.89 475.27h2.8M404.01 464.27V476.25M402.62 464.27h2.8M402.62 476.25h2.8M405.74 465.55V475.51M404.34 465.55h2.8M404.34 475.51h2.8M407.47 466.52V476.04M406.07 466.52h2.8M406.07 476.04h2.8M409.19 464.19V477.35M407.79 464.19h2.8M407.79 477.35h2.8M410.92 467.07V476.06M409.52 467.07h2.8M409.52 476.06h2.8M412.65 465.38V475.75M411.25 465.38h2.8M411.25 475.75h2.8M414.37 465.41V477.75M412.97 465.41h2.8M412.97 477.75h2.8M416.10 466.10V475.35M414.70 466.10h2.8M414.70 475.35h2.8" stroke="#f8a877" stroke-width="0.9" fill="none"/><path d="M176.13 489.01V494.76M174.73 489.01h2.8M174.73 494.76h2.8M177.85 488.97V494.39M176.45 488.97h2.8M176.45 494.39h2.8M179.58 485.48V495.24M178.18 485.48h2.8M178.18 495.24h2.8M181.31 487.87V492.19M179.91 487.87h2.8M179.91 492.19h2.8M183.03 486.18V491.78M181.63 486.18h2.8M181.63 491.78h2.8M184.76 485.30V490.55M183.36 485.30h2.8M183.36 490.55h2.8M186.49 484.18V489.18M185.09 484.18h2.8M185.09 489.18h2.8M188.21 483.48V488.99M186.81 483.48h2.8M186.81 488.99h2.8M189.94 481.69V487.38M188.54 481.69h2.8M188.54 487.38h2.8M191.66 481.27V487.33M190.26 481.27h2.8M190.26 487.33h2.8M193.39 481.16V490.81M191.99 481.16h2.8M191.99 490.81h2.8M195.12 484.27V489.85M193.72 484.27h2.8M193.72 489.85h2.8M196.84 485.05V490.10M195.44 485.05h2.8M195.44 490.10h2.8M198.57 485.45V489.98M197.17 485.45h2.8M197.17 489.98h2.8M200.30 484.99V490.07M198.90 484.99h2.8M198.90 490.07h2.8M202.02 486.34V491.02M200.62 486.34h2.8M200.62 491.02h2.8M203.75 486.09V490.97M202.35 486.09h2.8M202.35 490.97h2.8M205.48 486.72V491.08M204.08 486.72h2.8M204.08 491.08h2.8M207.20 485.93V492.13M205.80 485.93h2.8M205.80 492.13h2.8M208.93 485.42V491.52M207.53 485.42h2.8M207.53 491.52h2.8M210.66 485.96V491.86M209.25 485.96h2.8M209.25 491.86h2.8M212.38 485.72V491.45M210.98 485.72h2.8M210.98 491.45h2.8M214.11 486.77V491.45M212.71 486.77h2.8M212.71 491.45h2.8M215.83 486.54V490.74M214.43 486.54h2.8M214.43 490.74h2.8M217.56 484.28V490.28M216.16 484.28h2.8M216.16 490.28h2.8M219.29 484.20V489.05M217.89 484.20h2.8M217.89 489.05h2.8M221.01 483.47V489.24M219.61 483.47h2.8M219.61 489.24h2.8M222.74 483.38V489.19M221.34 483.38h2.8M221.34 489.19h2.8M224.47 482.97V487.34M223.07 482.97h2.8M223.07 487.34h2.8M226.19 481.43V486.24M224.79 481.43h2.8M224.79 486.24h2.8M227.92 481.48V486.40M226.52 481.48h2.8M226.52 486.40h2.8M229.65 478.96V485.13M228.25 478.96h2.8M228.25 485.13h2.8M231.37 477.15V482.41M229.97 477.15h2.8M229.97 482.41h2.8M233.10 474.75V480.03M231.70 474.75h2.8M231.70 480.03h2.8M234.82 474.02V479.03M233.42 474.02h2.8M233.42 479.03h2.8M236.55 471.41V477.01M235.15 471.41h2.8M235.15 477.01h2.8M238.28 469.54V473.89M236.88 469.54h2.8M236.88 473.89h2.8M240.00 467.69V472.45M238.60 467.69h2.8M238.60 472.45h2.8M241.73 466.39V470.58M240.33 466.39h2.8M240.33 470.58h2.8M243.46 464.02V469.67M242.06 464.02h2.8M242.06 469.67h2.8M245.18 463.01V467.53M243.78 463.01h2.8M243.78 467.53h2.8M246.91 461.77V467.36M245.51 461.77h2.8M245.51 467.36h2.8M248.64 460.30V466.02M247.24 460.30h2.8M247.24 466.02h2.8M250.36 459.98V464.66M248.96 459.98h2.8M248.96 464.66h2.8M252.09 459.49V463.71M250.69 459.49h2.8M250.69 463.71h2.8M253.82 456.95V461.54M252.42 456.95h2.8M252.42 461.54h2.8M255.54 454.10V460.27M254.14 454.10h2.8M254.14 460.27h2.8M257.27 453.35V458.74M255.87 453.35h2.8M255.87 458.74h2.8M259.00 451.66V457.06M257.60 451.66h2.8M257.60 457.06h2.8M260.72 449.20V458.00M259.32 449.20h2.8M259.32 458.00h2.8M262.45 448.91V457.21M261.05 448.91h2.8M261.05 457.21h2.8M264.17 449.90V454.82M262.77 449.90h2.8M262.77 454.82h2.8M265.90 449.45V453.84M264.50 449.45h2.8M264.50 453.84h2.8M267.63 447.92V454.09M266.23 447.92h2.8M266.23 454.09h2.8M269.35 447.60V452.33M267.95 447.60h2.8M267.95 452.33h2.8M271.08 446.53V451.06M269.68 446.53h2.8M269.68 451.06h2.8M272.81 446.46V451.25M271.41 446.46h2.8M271.41 451.25h2.8M274.53 444.53V450.12M273.13 444.53h2.8M273.13 450.12h2.8M276.26 444.85V450.52M274.86 444.85h2.8M274.86 450.52h2.8M277.99 445.00V451.09M276.59 445.00h2.8M276.59 451.09h2.8M279.71 443.87V453.76M278.31 443.87h2.8M278.31 453.76h2.8M281.44 446.37V452.25M280.04 446.37h2.8M280.04 452.25h2.8M283.17 445.63V451.57M281.77 445.63h2.8M281.77 451.57h2.8M284.89 445.44V450.99M283.49 445.44h2.8M283.49 450.99h2.8M286.62 445.30V449.48M285.22 445.30h2.8M285.22 449.48h2.8M288.34 443.23V449.27M286.94 443.23h2.8M286.94 449.27h2.8M290.07 443.13V448.66M288.67 443.13h2.8M288.67 448.66h2.8M291.80 445.95V451.49M290.40 445.95h2.8M290.40 451.49h2.8M293.52 447.97V452.43M292.12 447.97h2.8M292.12 452.43h2.8M295.25 445.35V451.55M293.85 445.35h2.8M293.85 451.55h2.8M296.98 444.80V450.31M295.58 444.80h2.8M295.58 450.31h2.8M298.70 443.03V451.65M297.30 443.03h2.8M297.30 451.65h2.8M300.43 443.23V447.42M299.03 443.23h2.8M299.03 447.42h2.8M302.16 442.20V446.63M300.76 442.20h2.8M300.76 446.63h2.8M303.88 441.32V446.24M302.48 441.32h2.8M302.48 446.24h2.8M305.61 440.49V444.94M304.21 440.49h2.8M304.21 444.94h2.8M307.34 442.15V446.83M305.94 442.15h2.8M305.94 446.83h2.8M309.06 444.39V449.63M307.66 444.39h2.8M307.66 449.63h2.8M310.79 446.22V450.90M309.39 446.22h2.8M309.39 450.90h2.8M312.51 448.64V453.39M311.11 448.64h2.8M311.11 453.39h2.8M314.24 450.12V455.87M312.84 450.12h2.8M312.84 455.87h2.8M315.97 451.14V455.70M314.57 451.14h2.8M314.57 455.70h2.8M317.69 450.66V455.62M316.29 450.66h2.8M316.29 455.62h2.8M319.42 451.04V456.53M318.02 451.04h2.8M318.02 456.53h2.8M321.15 450.61V460.58M319.75 450.61h2.8M319.75 460.58h2.8M322.87 455.60V461.14M321.47 455.60h2.8M321.47 461.14h2.8M324.60 455.14V463.79M323.20 455.14h2.8M323.20 463.79h2.8M326.33 459.42V464.49M324.93 459.42h2.8M324.93 464.49h2.8M328.05 461.85V466.97M326.65 461.85h2.8M326.65 466.97h2.8M329.78 464.12V468.47M328.38 464.12h2.8M328.38 468.47h2.8M331.50 466.29V471.45M330.11 466.29h2.8M330.11 471.45h2.8M333.23 468.38V473.02M331.83 468.38h2.8M331.83 473.02h2.8M334.96 471.45V479.85M333.56 471.45h2.8M333.56 479.85h2.8M336.68 478.13V483.04M335.28 478.13h2.8M335.28 483.04h2.8M338.41 483.20V489.31M337.01 483.20h2.8M337.01 489.31h2.8M340.14 479.35V483.66M338.74 479.35h2.8M338.74 483.66h2.8M341.86 477.71V483.42M340.46 477.71h2.8M340.46 483.42h2.8M343.59 477.27V483.24M342.19 477.27h2.8M342.19 483.24h2.8M345.32 476.65V482.60M343.92 476.65h2.8M343.92 482.60h2.8M347.04 477.31V483.43M345.64 477.31h2.8M345.64 483.43h2.8M348.77 477.27V481.92M347.37 477.27h2.8M347.37 481.92h2.8M350.50 477.04V482.99M349.10 477.04h2.8M349.10 482.99h2.8M352.22 477.57V481.91M350.82 477.57h2.8M350.82 481.91h2.8M353.95 478.03V484.11M352.55 478.03h2.8M352.55 484.11h2.8M355.68 478.86V484.54M354.28 478.86h2.8M354.28 484.54h2.8M357.40 479.69V484.79M356.00 479.69h2.8M356.00 484.79h2.8M359.13 479.36V483.95M357.73 479.36h2.8M357.73 483.95h2.8M360.85 480.52V485.43M359.45 480.52h2.8M359.45 485.43h2.8M362.58 479.36V485.56M361.18 479.36h2.8M361.18 485.56h2.8M364.31 478.35V486.89M362.91 478.35h2.8M362.91 486.89h2.8M366.03 479.32V484.84M364.63 479.32h2.8M364.63 484.84h2.8M367.76 479.96V484.17M366.36 479.96h2.8M366.36 484.17h2.8M369.49 479.21V484.91M368.09 479.21h2.8M368.09 484.91h2.8M371.21 480.62V485.27M369.81 480.62h2.8M369.81 485.27h2.8M372.94 480.01V485.43M371.54 480.01h2.8M371.54 485.43h2.8M374.67 481.10V485.56M373.27 481.10h2.8M373.27 485.56h2.8M376.39 481.28V487.41M374.99 481.28h2.8M374.99 487.41h2.8M378.12 480.43V486.37M376.72 480.43h2.8M376.72 486.37h2.8M379.85 479.87V485.90M378.45 479.87h2.8M378.45 485.90h2.8M381.57 479.46V484.09M380.17 479.46h2.8M380.17 484.09h2.8M383.30 479.10V485.14M381.90 479.10h2.8M381.90 485.14h2.8M385.02 477.19V485.80M383.62 477.19h2.8M383.62 485.80h2.8M386.75 480.16V485.24M385.35 480.16h2.8M385.35 485.24h2.8M388.48 480.64V485.20M387.08 480.64h2.8M387.08 485.20h2.8M390.20 480.04V485.42M388.80 480.04h2.8M388.80 485.42h2.8M391.93 480.07V485.07M390.53 480.07h2.8M390.53 485.07h2.8M393.66 481.35V485.53M392.26 481.35h2.8M392.26 485.53h2.8M395.38 480.82V485.47M393.98 480.82h2.8M393.98 485.47h2.8M397.11 480.96V486.18M395.71 480.96h2.8M395.71 486.18h2.8M398.84 480.75V485.93M397.44 480.75h2.8M397.44 485.93h2.8M400.56 481.81V487.26M399.16 481.81h2.8M399.16 487.26h2.8M402.29 481.22V487.12M400.89 481.22h2.8M400.89 487.12h2.8M404.01 480.97V487.21M402.62 480.97h2.8M402.62 487.21h2.8M405.74 481.62V486.25M404.34 481.62h2.8M404.34 486.25h2.8M407.47 482.44V487.27M406.07 482.44h2.8M406.07 487.27h2.8M409.19 482.71V487.59M407.79 482.71h2.8M407.79 487.59h2.8M410.92 483.20V487.40M409.52 483.20h2.8M409.52 487.40h2.8M412.65 482.31V486.81M411.25 482.31h2.8M411.25 486.81h2.8M414.37 482.95V487.11M412.97 482.95h2.8M412.97 487.11h2.8M416.10 482.72V487.41M414.70 482.72h2.8M414.70 487.41h2.8" stroke="#8fd38f" stroke-width="0.9" fill="none"/><g fill="#f25c0c"><circle cx="176.13" cy="478.44" r="2.9"/><circle cx="177.85" cy="477.21" r="2.9"/><circle cx="179.58" cy="475.65" r="2.9"/><circle cx="181.31" cy="474.24" r="2.9"/><circle cx="183.03" cy="474.71" r="2.9"/><circle cx="184.76" cy="473.22" r="2.9"/><circle cx="186.49" cy="473.54" r="2.9"/><circle cx="188.21" cy="472.70" r="2.9"/><circle cx="189.94" cy="472.84" r="2.9"/><circle cx="191.66" cy="472.74" r="2.9"/><circle cx="193.39" cy="472.48" r="2.9"/><circle cx="195.12" cy="471.83" r="2.9"/><circle cx="196.84" cy="472.34" r="2.9"/><circle cx="198.57" cy="473.08" r="2.9"/><circle cx="200.30" cy="473.87" r="2.9"/><circle cx="202.02" cy="472.81" r="2.9"/><circle cx="203.75" cy="473.87" r="2.9"/><circle cx="205.48" cy="474.20" r="2.9"/><circle cx="207.20" cy="474.53" r="2.9"/><circle cx="208.93" cy="474.03" r="2.9"/><circle cx="210.66" cy="474.84" r="2.9"/><circle cx="212.38" cy="474.51" r="2.9"/><circle cx="214.11" cy="475.25" r="2.9"/><circle cx="215.83" cy="473.64" r="2.9"/><circle cx="217.56" cy="474.61" r="2.9"/><circle cx="219.29" cy="473.54" r="2.9"/><circle cx="221.01" cy="473.20" r="2.9"/><circle cx="222.74" cy="472.39" r="2.9"/><circle cx="224.47" cy="471.31" r="2.9"/><circle cx="226.19" cy="470.68" r="2.9"/><circle cx="227.92" cy="469.30" r="2.9"/><circle cx="229.65" cy="467.25" r="2.9"/><circle cx="231.37" cy="466.05" r="2.9"/><circle cx="233.10" cy="464.28" r="2.9"/><circle cx="234.82" cy="462.87" r="2.9"/><circle cx="236.55" cy="461.42" r="2.9"/><circle cx="238.28" cy="458.86" r="2.9"/><circle cx="240.00" cy="456.84" r="2.9"/><circle cx="241.73" cy="453.95" r="2.9"/><circle cx="243.46" cy="449.92" r="2.9"/><circle cx="245.18" cy="445.59" r="2.9"/><circle cx="246.91" cy="444.61" r="2.9"/><circle cx="248.64" cy="444.65" r="2.9"/><circle cx="250.36" cy="444.48" r="2.9"/><circle cx="252.09" cy="443.90" r="2.9"/><circle cx="253.82" cy="443.39" r="2.9"/><circle cx="255.54" cy="442.06" r="2.9"/><circle cx="257.27" cy="441.79" r="2.9"/><circle cx="259.00" cy="441.24" r="2.9"/><circle cx="260.72" cy="440.29" r="2.9"/><circle cx="262.45" cy="438.46" r="2.9"/><circle cx="264.17" cy="438.47" r="2.9"/><circle cx="265.90" cy="437.10" r="2.9"/><circle cx="267.63" cy="435.98" r="2.9"/><circle cx="269.35" cy="436.25" r="2.9"/><circle cx="271.08" cy="434.98" r="2.9"/><circle cx="272.81" cy="434.23" r="2.9"/><circle cx="274.53" cy="432.52" r="2.9"/><circle cx="276.26" cy="433.49" r="2.9"/><circle cx="277.99" cy="434.50" r="2.9"/><circle cx="279.71" cy="435.32" r="2.9"/><circle cx="281.44" cy="435.96" r="2.9"/><circle cx="283.17" cy="435.99" r="2.9"/><circle cx="284.89" cy="434.66" r="2.9"/><circle cx="286.62" cy="433.08" r="2.9"/><circle cx="288.34" cy="431.57" r="2.9"/><circle cx="290.07" cy="431.77" r="2.9"/><circle cx="291.80" cy="433.26" r="2.9"/><circle cx="293.52" cy="434.93" r="2.9"/><circle cx="295.25" cy="433.82" r="2.9"/><circle cx="296.98" cy="432.51" r="2.9"/><circle cx="298.70" cy="429.67" r="2.9"/><circle cx="300.43" cy="428.02" r="2.9"/><circle cx="302.16" cy="428.18" r="2.9"/><circle cx="303.88" cy="430.86" r="2.9"/><circle cx="305.61" cy="432.09" r="2.9"/><circle cx="307.34" cy="432.83" r="2.9"/><circle cx="309.06" cy="434.63" r="2.9"/><circle cx="310.79" cy="434.66" r="2.9"/><circle cx="312.51" cy="435.50" r="2.9"/><circle cx="314.24" cy="436.76" r="2.9"/><circle cx="315.97" cy="438.00" r="2.9"/><circle cx="317.69" cy="440.08" r="2.9"/><circle cx="319.42" cy="442.39" r="2.9"/><circle cx="321.15" cy="443.81" r="2.9"/><circle cx="322.87" cy="445.39" r="2.9"/><circle cx="324.60" cy="446.43" r="2.9"/><circle cx="326.33" cy="448.46" r="2.9"/><circle cx="328.05" cy="449.95" r="2.9"/><circle cx="329.78" cy="452.55" r="2.9"/><circle cx="331.50" cy="456.44" r="2.9"/><circle cx="333.23" cy="459.79" r="2.9"/><circle cx="334.96" cy="463.23" r="2.9"/><circle cx="336.68" cy="467.12" r="2.9"/><circle cx="338.41" cy="469.37" r="2.9"/><circle cx="340.14" cy="469.04" r="2.9"/><circle cx="341.86" cy="467.76" r="2.9"/><circle cx="343.59" cy="467.48" r="2.9"/><circle cx="345.32" cy="467.13" r="2.9"/><circle cx="347.04" cy="466.38" r="2.9"/><circle cx="348.77" cy="464.59" r="2.9"/><circle cx="350.50" cy="464.58" r="2.9"/><circle cx="352.22" cy="463.88" r="2.9"/><circle cx="353.95" cy="464.88" r="2.9"/><circle cx="355.68" cy="466.72" r="2.9"/><circle cx="357.40" cy="467.04" r="2.9"/><circle cx="359.13" cy="468.16" r="2.9"/><circle cx="360.85" cy="468.33" r="2.9"/><circle cx="362.58" cy="467.52" r="2.9"/><circle cx="364.31" cy="466.71" r="2.9"/><circle cx="366.03" cy="466.27" r="2.9"/><circle cx="367.76" cy="466.57" r="2.9"/><circle cx="369.49" cy="466.59" r="2.9"/><circle cx="371.21" cy="466.46" r="2.9"/><circle cx="372.94" cy="466.51" r="2.9"/><circle cx="374.67" cy="467.10" r="2.9"/><circle cx="376.39" cy="468.27" r="2.9"/><circle cx="378.12" cy="469.64" r="2.9"/><circle cx="379.85" cy="471.33" r="2.9"/><circle cx="381.57" cy="470.90" r="2.9"/><circle cx="383.30" cy="469.30" r="2.9"/><circle cx="385.02" cy="469.44" r="2.9"/><circle cx="386.75" cy="467.97" r="2.9"/><circle cx="388.48" cy="469.25" r="2.9"/><circle cx="390.20" cy="468.55" r="2.9"/><circle cx="391.93" cy="468.85" r="2.9"/><circle cx="393.66" cy="470.00" r="2.9"/><circle cx="395.38" cy="469.35" r="2.9"/><circle cx="397.11" cy="469.34" r="2.9"/><circle cx="398.84" cy="470.46" r="2.9"/><circle cx="400.56" cy="470.26" r="2.9"/><circle cx="402.29" cy="470.84" r="2.9"/><circle cx="404.01" cy="470.26" r="2.9"/><circle cx="405.74" cy="470.53" r="2.9"/><circle cx="407.47" cy="471.28" r="2.9"/><circle cx="409.19" cy="470.77" r="2.9"/><circle cx="410.92" cy="471.56" r="2.9"/><circle cx="412.65" cy="470.56" r="2.9"/><circle cx="414.37" cy="471.58" r="2.9"/><circle cx="416.10" cy="470.73" r="2.9"/></g><g fill="#11a011"><circle cx="176.13" cy="491.88" r="2.9"/><circle cx="177.85" cy="491.68" r="2.9"/><circle cx="179.58" cy="490.36" r="2.9"/><circle cx="181.31" cy="490.03" r="2.9"/><circle cx="183.03" cy="488.98" r="2.9"/><circle cx="184.76" cy="487.92" r="2.9"/><circle cx="186.49" cy="486.68" r="2.9"/><circle cx="188.21" cy="486.23" r="2.9"/><circle cx="189.94" cy="484.54" r="2.9"/><circle cx="191.66" cy="484.30" r="2.9"/><circle cx="193.39" cy="485.99" r="2.9"/><circle cx="195.12" cy="487.06" r="2.9"/><circle cx="196.84" cy="487.57" r="2.9"/><circle cx="198.57" cy="487.71" r="2.9"/><circle cx="200.30" cy="487.53" r="2.9"/><circle cx="202.02" cy="488.68" r="2.9"/><circle cx="203.75" cy="488.53" r="2.9"/><circle cx="205.48" cy="488.90" r="2.9"/><circle cx="207.20" cy="489.03" r="2.9"/><circle cx="208.93" cy="488.47" r="2.9"/><circle cx="210.66" cy="488.91" r="2.9"/><circle cx="212.38" cy="488.58" r="2.9"/><circle cx="214.11" cy="489.11" r="2.9"/><circle cx="215.83" cy="488.64" r="2.9"/><circle cx="217.56" cy="487.28" r="2.9"/><circle cx="219.29" cy="486.62" r="2.9"/><circle cx="221.01" cy="486.36" r="2.9"/><circle cx="222.74" cy="486.28" r="2.9"/><circle cx="224.47" cy="485.15" r="2.9"/><circle cx="226.19" cy="483.83" r="2.9"/><circle cx="227.92" cy="483.94" r="2.9"/><circle cx="229.65" cy="482.05" r="2.9"/><circle cx="231.37" cy="479.78" r="2.9"/><circle cx="233.10" cy="477.39" r="2.9"/><circle cx="234.82" cy="476.52" r="2.9"/><circle cx="236.55" cy="474.21" r="2.9"/><circle cx="238.28" cy="471.72" r="2.9"/><circle cx="240.00" cy="470.07" r="2.9"/><circle cx="241.73" cy="468.48" r="2.9"/><circle cx="243.46" cy="466.85" r="2.9"/><circle cx="245.18" cy="465.27" r="2.9"/><circle cx="246.91" cy="464.57" r="2.9"/><circle cx="248.64" cy="463.16" r="2.9"/><circle cx="250.36" cy="462.32" r="2.9"/><circle cx="252.09" cy="461.60" r="2.9"/><circle cx="253.82" cy="459.24" r="2.9"/><circle cx="255.54" cy="457.18" r="2.9"/><circle cx="257.27" cy="456.04" r="2.9"/><circle cx="259.00" cy="454.36" r="2.9"/><circle cx="260.72" cy="453.60" r="2.9"/><circle cx="262.45" cy="453.06" r="2.9"/><circle cx="264.17" cy="452.36" r="2.9"/><circle cx="265.90" cy="451.64" r="2.9"/><circle cx="267.63" cy="451.01" r="2.9"/><circle cx="269.35" cy="449.96" r="2.9"/><circle cx="271.08" cy="448.79" r="2.9"/><circle cx="272.81" cy="448.86" r="2.9"/><circle cx="274.53" cy="447.33" r="2.9"/><circle cx="276.26" cy="447.69" r="2.9"/><circle cx="277.99" cy="448.05" r="2.9"/><circle cx="279.71" cy="448.82" r="2.9"/><circle cx="281.44" cy="449.31" r="2.9"/><circle cx="283.17" cy="448.60" r="2.9"/><circle cx="284.89" cy="448.22" r="2.9"/><circle cx="286.62" cy="447.39" r="2.9"/><circle cx="288.34" cy="446.25" r="2.9"/><circle cx="290.07" cy="445.90" r="2.9"/><circle cx="291.80" cy="448.72" r="2.9"/><circle cx="293.52" cy="450.20" r="2.9"/><circle cx="295.25" cy="448.45" r="2.9"/><circle cx="296.98" cy="447.55" r="2.9"/><circle cx="298.70" cy="447.34" r="2.9"/><circle cx="300.43" cy="445.32" r="2.9"/><circle cx="302.16" cy="444.41" r="2.9"/><circle cx="303.88" cy="443.78" r="2.9"/><circle cx="305.61" cy="442.71" r="2.9"/><circle cx="307.34" cy="444.49" r="2.9"/><circle cx="309.06" cy="447.01" r="2.9"/><circle cx="310.79" cy="448.56" r="2.9"/><circle cx="312.51" cy="451.02" r="2.9"/><circle cx="314.24" cy="453.00" r="2.9"/><circle cx="315.97" cy="453.42" r="2.9"/><circle cx="317.69" cy="453.14" r="2.9"/><circle cx="319.42" cy="453.78" r="2.9"/><circle cx="321.15" cy="455.60" r="2.9"/><circle cx="322.87" cy="458.37" r="2.9"/><circle cx="324.60" cy="459.47" r="2.9"/><circle cx="326.33" cy="461.96" r="2.9"/><circle cx="328.05" cy="464.41" r="2.9"/><circle cx="329.78" cy="466.29" r="2.9"/><circle cx="331.50" cy="468.87" r="2.9"/><circle cx="333.23" cy="470.70" r="2.9"/><circle cx="334.96" cy="475.65" r="2.9"/><circle cx="336.68" cy="480.58" r="2.9"/><circle cx="338.41" cy="486.25" r="2.9"/><circle cx="340.14" cy="481.51" r="2.9"/><circle cx="341.86" cy="480.57" r="2.9"/><circle cx="343.59" cy="480.25" r="2.9"/><circle cx="345.32" cy="479.62" r="2.9"/><circle cx="347.04" cy="480.37" r="2.9"/><circle cx="348.77" cy="479.60" r="2.9"/><circle cx="350.50" cy="480.01" r="2.9"/><circle cx="352.22" cy="479.74" r="2.9"/><circle cx="353.95" cy="481.07" r="2.9"/><circle cx="355.68" cy="481.70" r="2.9"/><circle cx="357.40" cy="482.24" r="2.9"/><circle cx="359.13" cy="481.66" r="2.9"/><circle cx="360.85" cy="482.97" r="2.9"/><circle cx="362.58" cy="482.46" r="2.9"/><circle cx="364.31" cy="482.62" r="2.9"/><circle cx="366.03" cy="482.08" r="2.9"/><circle cx="367.76" cy="482.07" r="2.9"/><circle cx="369.49" cy="482.06" r="2.9"/><circle cx="371.21" cy="482.94" r="2.9"/><circle cx="372.94" cy="482.72" r="2.9"/><circle cx="374.67" cy="483.33" r="2.9"/><circle cx="376.39" cy="484.35" r="2.9"/><circle cx="378.12" cy="483.40" r="2.9"/><circle cx="379.85" cy="482.89" r="2.9"/><circle cx="381.57" cy="481.78" r="2.9"/><circle cx="383.30" cy="482.12" r="2.9"/><circle cx="385.02" cy="481.49" r="2.9"/><circle cx="386.75" cy="482.70" r="2.9"/><circle cx="388.48" cy="482.92" r="2.9"/><circle cx="390.20" cy="482.73" r="2.9"/><circle cx="391.93" cy="482.57" r="2.9"/><circle cx="393.66" cy="483.44" r="2.9"/><circle cx="395.38" cy="483.15" r="2.9"/><circle cx="397.11" cy="483.57" r="2.9"/><circle cx="398.84" cy="483.34" r="2.9"/><circle cx="400.56" cy="484.53" r="2.9"/><circle cx="402.29" cy="484.17" r="2.9"/><circle cx="404.01" cy="484.09" r="2.9"/><circle cx="405.74" cy="483.93" r="2.9"/><circle cx="407.47" cy="484.85" r="2.9"/><circle cx="409.19" cy="485.15" r="2.9"/><circle cx="410.92" cy="485.30" r="2.9"/><circle cx="412.65" cy="484.56" r="2.9"/><circle cx="414.37" cy="485.03" r="2.9"/><circle cx="416.10" cy="485.06" r="2.9"/></g><line x1="483.80" y1="418.40" x2="729.90" y2="418.40" stroke="#444" stroke-width="1.3"/><line x1="729.90" y1="418.40" x2="729.90" y2="564.50" stroke="#555" stroke-width="1.3"/><line x1="483.80" y1="417.80" x2="483.80" y2="565.10" stroke="#555" stroke-width="1.7"/><line x1="483.80" y1="564.50" x2="729.90" y2="564.50" stroke="#222" stroke-width="1.3"/><line x1="480.60" y1="564.50" x2="483.80" y2="564.50" stroke="#3a3a3a" stroke-width="1.2"/><text x="474.3" y="567.5" font-size="10" text-anchor="end" fill="#1a1a1a" stroke="#1a1a1a" stroke-width="0.25">2</text><line x1="480.60" y1="532.03" x2="483.80" y2="532.03" stroke="#3a3a3a" stroke-width="1.2"/><text x="474.3" y="535.0" font-size="10" text-anchor="end" fill="#1a1a1a" stroke="#1a1a1a" stroke-width="0.25">4</text><line x1="480.60" y1="499.57" x2="483.80" y2="499.57" stroke="#3a3a3a" stroke-width="1.2"/><text x="474.3" y="502.6" font-size="10" text-anchor="end" fill="#1a1a1a" stroke="#1a1a1a" stroke-width="0.25">6</text><line x1="480.60" y1="467.10" x2="483.80" y2="467.10" stroke="#3a3a3a" stroke-width="1.2"/><text x="474.3" y="470.1" font-size="10" text-anchor="end" fill="#1a1a1a" stroke="#1a1a1a" stroke-width="0.25">8</text><line x1="480.60" y1="434.63" x2="483.80" y2="434.63" stroke="#3a3a3a" stroke-width="1.2"/><text x="474.3" y="437.6" font-size="10" text-anchor="end" fill="#1a1a1a" stroke="#1a1a1a" stroke-width="0.25">10</text><line x1="483.80" y1="564.50" x2="483.80" y2="567.50" stroke="#3a3a3a" stroke-width="1.2"/><text x="483.8" y="579.8" font-size="10" text-anchor="middle" fill="#1a1a1a" stroke="#1a1a1a" stroke-width="0.25">0</text><line x1="518.96" y1="564.50" x2="518.96" y2="567.50" stroke="#3a3a3a" stroke-width="1.2"/><text x="519.0" y="579.8" font-size="10" text-anchor="middle" fill="#1a1a1a" stroke="#1a1a1a" stroke-width="0.25">20</text><line x1="554.11" y1="564.50" x2="554.11" y2="567.50" stroke="#3a3a3a" stroke-width="1.2"/><text x="554.1" y="579.8" font-size="10" text-anchor="middle" fill="#1a1a1a" stroke="#1a1a1a" stroke-width="0.25">40</text><line x1="589.27" y1="564.50" x2="589.27" y2="567.50" stroke="#3a3a3a" stroke-width="1.2"/><text x="589.3" y="579.8" font-size="10" text-anchor="middle" fill="#1a1a1a" stroke="#1a1a1a" stroke-width="0.25">60</text><line x1="624.43" y1="564.50" x2="624.43" y2="567.50" stroke="#3a3a3a" stroke-width="1.2"/><text x="624.4" y="579.8" font-size="10" text-anchor="middle" fill="#1a1a1a" stroke="#1a1a1a" stroke-width="0.25">80</text><line x1="659.59" y1="564.50" x2="659.59" y2="567.50" stroke="#3a3a3a" stroke-width="1.2"/><text x="659.6" y="579.8" font-size="10" text-anchor="middle" fill="#1a1a1a" stroke="#1a1a1a" stroke-width="0.25">100</text><line x1="694.74" y1="564.50" x2="694.74" y2="567.50" stroke="#3a3a3a" stroke-width="1.2"/><text x="694.7" y="579.8" font-size="10" text-anchor="middle" fill="#1a1a1a" stroke="#1a1a1a" stroke-width="0.25">120</text><line x1="729.90" y1="564.50" x2="729.90" y2="567.50" stroke="#3a3a3a" stroke-width="1.2"/><text x="729.9" y="579.8" font-size="10" text-anchor="middle" fill="#1a1a1a" stroke="#1a1a1a" stroke-width="0.25">140</text><text x="606.9" y="594.9" font-size="11" text-anchor="middle" fill="#1a1a1a" stroke="#1a1a1a" stroke-width="0.25">Frame</text><text x="0" y="0" font-size="11.3" text-anchor="middle" fill="#1a1a1a" stroke="#1a1a1a" stroke-width="0.25" transform="translate(456.3,491.4) rotate(-90)">Parameter β (a.u.)</text><path d="M485.56 528.07V530.85M484.16 528.07h2.8M484.16 530.85h2.8M487.32 528.23V531.20M485.92 528.23h2.8M485.92 531.20h2.8M489.07 528.01V530.48M487.67 528.01h2.8M487.67 530.48h2.8M490.83 528.15V530.74M489.43 528.15h2.8M489.43 530.74h2.8M492.59 527.85V531.00M491.19 527.85h2.8M491.19 531.00h2.8M494.35 529.01V531.73M492.95 529.01h2.8M492.95 531.73h2.8M496.11 528.02V531.30M494.71 528.02h2.8M494.71 531.30h2.8M497.86 528.25V531.24M496.46 528.25h2.8M496.46 531.24h2.8M499.62 528.42V531.94M498.22 528.42h2.8M498.22 531.94h2.8M501.38 529.06V531.52M499.98 529.06h2.8M499.98 531.52h2.8M503.14 529.03V532.26M501.74 529.03h2.8M501.74 532.26h2.8M504.89 528.24V531.50M503.49 528.24h2.8M503.49 531.50h2.8M506.65 528.41V531.77M505.25 528.41h2.8M505.25 531.77h2.8M508.41 528.82V531.33M507.01 528.82h2.8M507.01 531.33h2.8M510.17 529.23V531.86M508.77 529.23h2.8M508.77 531.86h2.8M511.93 528.78V532.14M510.53 528.78h2.8M510.53 532.14h2.8M513.68 529.13V531.81M512.28 529.13h2.8M512.28 531.81h2.8M515.44 529.37V532.56M514.04 529.37h2.8M514.04 532.56h2.8M517.20 529.34V531.91M515.80 529.34h2.8M515.80 531.91h2.8M518.96 529.16V532.26M517.56 529.16h2.8M517.56 532.26h2.8M520.72 529.12V532.28M519.32 529.12h2.8M519.32 532.28h2.8M522.47 528.54V531.25M521.07 528.54h2.8M521.07 531.25h2.8M524.23 528.94V531.98M522.83 528.94h2.8M522.83 531.98h2.8M525.99 528.59V531.03M524.59 528.59h2.8M524.59 531.03h2.8M527.75 528.01V530.68M526.35 528.01h2.8M526.35 530.68h2.8M529.50 528.30V531.47M528.10 528.30h2.8M528.10 531.47h2.8M531.26 526.20V529.34M529.86 526.20h2.8M529.86 529.34h2.8M533.02 525.06V527.70M531.62 525.06h2.8M531.62 527.70h2.8M534.78 523.75V526.94M533.38 523.75h2.8M533.38 526.94h2.8M536.54 521.98V524.57M535.14 521.98h2.8M535.14 524.57h2.8M538.29 516.96V520.29M536.89 516.96h2.8M536.89 520.29h2.8M540.05 512.41V515.67M538.65 512.41h2.8M538.65 515.67h2.8M541.81 510.75V514.10M540.41 510.75h2.8M540.41 514.10h2.8M543.57 509.99V512.76M542.17 509.99h2.8M542.17 512.76h2.8M545.33 509.40V511.87M543.93 509.40h2.8M543.93 511.87h2.8M547.08 506.74V513.25M545.68 506.74h2.8M545.68 513.25h2.8M548.84 507.73V510.75M547.44 507.73h2.8M547.44 510.75h2.8M550.60 506.74V510.26M549.20 506.74h2.8M549.20 510.26h2.8M552.36 506.03V508.98M550.96 506.03h2.8M550.96 508.98h2.8M554.11 505.74V508.29M552.71 505.74h2.8M552.71 508.29h2.8M555.87 505.27V508.29M554.47 505.27h2.8M554.47 508.29h2.8M557.63 504.43V507.69M556.23 504.43h2.8M556.23 507.69h2.8M559.39 503.96V507.29M557.99 503.96h2.8M557.99 507.29h2.8M561.15 503.82V506.31M559.75 503.82h2.8M559.75 506.31h2.8M562.90 502.99V505.97M561.50 502.99h2.8M561.50 505.97h2.8M564.66 501.46V504.66M563.26 501.46h2.8M563.26 504.66h2.8M566.42 500.90V503.68M565.02 500.90h2.8M565.02 503.68h2.8M568.18 501.01V504.26M566.78 501.01h2.8M566.78 504.26h2.8M569.93 500.50V503.34M568.53 500.50h2.8M568.53 503.34h2.8M571.69 499.38V502.90M570.29 499.38h2.8M570.29 502.90h2.8M573.45 499.69V502.83M572.05 499.69h2.8M572.05 502.83h2.8M575.21 498.96V501.90M573.81 498.96h2.8M573.81 501.90h2.8M576.97 496.65V503.39M575.57 496.65h2.8M575.57 503.39h2.8M578.72 497.97V501.55M577.32 497.97h2.8M577.32 501.55h2.8M580.48 498.25V500.81M579.08 498.25h2.8M579.08 500.81h2.8M582.24 497.53V500.67M580.84 497.53h2.8M580.84 500.67h2.8M584.00 496.67V499.15M582.60 496.67h2.8M582.60 499.15h2.8M585.76 496.33V499.65M584.36 496.33h2.8M584.36 499.65h2.8M587.51 496.03V498.54M586.11 496.03h2.8M586.11 498.54h2.8M589.27 495.29V497.80M587.87 495.29h2.8M587.87 497.80h2.8M591.03 494.93V497.39M589.63 494.93h2.8M589.63 497.39h2.8M592.79 494.04V497.36M591.39 494.04h2.8M591.39 497.36h2.8M594.54 492.91V495.44M593.14 492.91h2.8M593.14 495.44h2.8M596.30 492.27V494.87M594.90 492.27h2.8M594.90 494.87h2.8M598.06 491.00V494.40M596.66 491.00h2.8M596.66 494.40h2.8M599.82 490.36V492.97M598.42 490.36h2.8M598.42 492.97h2.8M601.58 489.07V491.98M600.18 489.07h2.8M600.18 491.98h2.8M603.33 488.13V490.67M601.93 488.13h2.8M601.93 490.67h2.8M605.09 487.96V491.53M603.69 487.96h2.8M603.69 491.53h2.8M606.85 487.78V490.49M605.45 487.78h2.8M605.45 490.49h2.8M608.61 486.42V489.89M607.21 486.42h2.8M607.21 489.89h2.8M610.37 486.45V489.42M608.97 486.45h2.8M608.97 489.42h2.8M612.12 486.98V490.10M610.72 486.98h2.8M610.72 490.10h2.8M613.88 486.39V489.35M612.48 486.39h2.8M612.48 489.35h2.8M615.64 486.52V489.80M614.24 486.52h2.8M614.24 489.80h2.8M617.40 487.47V490.11M616.00 487.47h2.8M616.00 490.11h2.8M619.15 487.55V490.07M617.75 487.55h2.8M617.75 490.07h2.8M620.91 486.82V489.63M619.51 486.82h2.8M619.51 489.63h2.8M622.67 487.92V490.63M621.27 487.92h2.8M621.27 490.63h2.8M624.43 487.71V491.30M623.03 487.71h2.8M623.03 491.30h2.8M626.19 488.70V492.12M624.79 488.70h2.8M624.79 492.12h2.8M627.94 489.81V492.42M626.54 489.81h2.8M626.54 492.42h2.8M629.70 489.64V492.45M628.30 489.64h2.8M628.30 492.45h2.8M631.46 490.26V493.16M630.06 490.26h2.8M630.06 493.16h2.8M633.22 490.55V493.99M631.82 490.55h2.8M631.82 493.99h2.8M634.98 491.73V494.15M633.58 491.73h2.8M633.58 494.15h2.8M636.73 491.96V495.09M635.33 491.96h2.8M635.33 495.09h2.8M638.49 492.67V496.21M637.09 492.67h2.8M637.09 496.21h2.8M640.25 493.70V497.12M638.85 493.70h2.8M638.85 497.12h2.8M642.01 494.06V496.78M640.61 494.06h2.8M640.61 496.78h2.8M643.76 493.65V496.50M642.37 493.65h2.8M642.37 496.50h2.8M645.52 494.16V497.01M644.12 494.16h2.8M644.12 497.01h2.8M647.28 494.61V497.28M645.88 494.61h2.8M645.88 497.28h2.8M649.04 496.33V499.22M647.64 496.33h2.8M647.64 499.22h2.8M650.80 498.04V501.50M649.40 498.04h2.8M649.40 501.50h2.8M652.55 516.57V519.26M651.15 516.57h2.8M651.15 519.26h2.8M654.31 520.32V523.69M652.91 520.32h2.8M652.91 523.69h2.8M656.07 521.40V524.67M654.67 521.40h2.8M654.67 524.67h2.8M657.83 522.35V525.73M656.43 522.35h2.8M656.43 525.73h2.8M659.59 522.25V525.44M658.19 522.25h2.8M658.19 525.44h2.8M661.34 523.07V526.48M659.94 523.07h2.8M659.94 526.48h2.8M663.10 523.00V526.05M661.70 523.00h2.8M661.70 526.05h2.8M664.86 523.31V526.70M663.46 523.31h2.8M663.46 526.70h2.8M666.62 524.16V527.58M665.22 524.16h2.8M665.22 527.58h2.8M668.38 524.22V527.67M666.98 524.22h2.8M666.98 527.67h2.8M670.13 524.52V528.04M668.73 524.52h2.8M668.73 528.04h2.8M671.89 524.75V527.96M670.49 524.75h2.8M670.49 527.96h2.8M673.65 525.39V527.85M672.25 525.39h2.8M672.25 527.85h2.8M675.41 525.43V528.49M674.01 525.43h2.8M674.01 528.49h2.8M677.16 526.00V528.81M675.76 526.00h2.8M675.76 528.81h2.8M678.92 525.13V528.47M677.52 525.13h2.8M677.52 528.47h2.8M680.68 526.21V528.87M679.28 526.21h2.8M679.28 528.87h2.8M682.44 525.89V528.59M681.04 525.89h2.8M681.04 528.59h2.8M684.20 523.97V530.76M682.80 523.97h2.8M682.80 530.76h2.8M685.95 526.42V529.78M684.55 526.42h2.8M684.55 529.78h2.8M687.71 524.80V531.29M686.31 524.80h2.8M686.31 531.29h2.8M689.47 526.82V530.11M688.07 526.82h2.8M688.07 530.11h2.8M691.23 527.18V530.13M689.83 527.18h2.8M689.83 530.13h2.8M692.98 526.85V530.22M691.58 526.85h2.8M691.58 530.22h2.8M694.74 526.92V529.70M693.34 526.92h2.8M693.34 529.70h2.8M696.50 526.54V530.01M695.10 526.54h2.8M695.10 530.01h2.8M698.26 527.20V530.68M696.86 527.20h2.8M696.86 530.68h2.8M700.02 527.90V530.67M698.62 527.90h2.8M698.62 530.67h2.8M701.77 527.44V530.52M700.37 527.44h2.8M700.37 530.52h2.8M703.53 527.37V530.48M702.13 527.37h2.8M702.13 530.48h2.8M705.29 527.50V530.52M703.89 527.50h2.8M703.89 530.52h2.8M707.05 527.88V530.78M705.65 527.88h2.8M705.65 530.78h2.8M708.81 528.40V531.60M707.41 528.40h2.8M707.41 531.60h2.8M710.56 528.04V530.87M709.16 528.04h2.8M709.16 530.87h2.8M712.32 528.05V531.61M710.92 528.05h2.8M710.92 531.61h2.8M714.08 528.74V531.29M712.68 528.74h2.8M712.68 531.29h2.8M715.84 529.37V531.82M714.44 529.37h2.8M714.44 531.82h2.8M717.60 529.55V532.47M716.20 529.55h2.8M716.20 532.47h2.8M719.35 528.72V531.64M717.95 528.72h2.8M717.95 531.64h2.8M721.11 528.90V531.93M719.71 528.90h2.8M719.71 531.93h2.8M722.87 529.70V533.05M721.47 529.70h2.8M721.47 533.05h2.8M724.63 530.21V532.88M723.23 530.21h2.8M723.23 532.88h2.8M726.38 529.18V532.54M724.98 529.18h2.8M724.98 532.54h2.8M728.14 529.46V532.92M726.74 529.46h2.8M726.74 532.92h2.8M729.90 530.05V532.97M728.50 530.05h2.8M728.50 532.97h2.8" stroke="#f8a877" stroke-width="0.9" fill="none"/><path d="M485.56 534.19V537.03M484.16 534.19h2.8M484.16 537.03h2.8M487.32 534.57V537.39M485.92 534.57h2.8M485.92 537.39h2.8M489.07 533.64V537.15M487.67 533.64h2.8M487.67 537.15h2.8M490.83 534.15V537.13M489.43 534.15h2.8M489.43 537.13h2.8M492.59 534.38V537.25M491.19 534.38h2.8M491.19 537.25h2.8M494.35 534.69V538.03M492.95 534.69h2.8M492.95 538.03h2.8M496.11 534.54V537.38M494.71 534.54h2.8M494.71 537.38h2.8M497.86 535.03V537.86M496.46 535.03h2.8M496.46 537.86h2.8M499.62 534.88V537.92M498.22 534.88h2.8M498.22 537.92h2.8M501.38 535.17V537.97M499.98 535.17h2.8M499.98 537.97h2.8M503.14 534.75V537.34M501.74 534.75h2.8M501.74 537.34h2.8M504.89 535.64V538.07M503.49 535.64h2.8M503.49 538.07h2.8M506.65 535.66V538.14M505.25 535.66h2.8M505.25 538.14h2.8M508.41 535.17V537.75M507.01 535.17h2.8M507.01 537.75h2.8M510.17 535.46V537.93M508.77 535.46h2.8M508.77 537.93h2.8M511.93 534.44V537.72M510.53 534.44h2.8M510.53 537.72h2.8M513.68 535.06V538.56M512.28 535.06h2.8M512.28 538.56h2.8M515.44 534.92V537.98M514.04 534.92h2.8M514.04 537.98h2.8M517.20 535.41V537.91M515.80 535.41h2.8M515.80 537.91h2.8M518.96 535.31V538.23M517.56 535.31h2.8M517.56 538.23h2.8M520.72 534.61V537.91M519.32 534.61h2.8M519.32 537.91h2.8M522.47 535.39V538.26M521.07 535.39h2.8M521.07 538.26h2.8M524.23 534.38V537.83M522.83 534.38h2.8M522.83 537.83h2.8M525.99 534.27V537.39M524.59 534.27h2.8M524.59 537.39h2.8M527.75 532.51V538.95M526.35 532.51h2.8M526.35 538.95h2.8M529.50 532.27V538.82M528.10 532.27h2.8M528.10 538.82h2.8M531.26 533.35V536.60M529.86 533.35h2.8M529.86 536.60h2.8M533.02 532.89V535.42M531.62 532.89h2.8M531.62 535.42h2.8M534.78 530.19V532.81M533.38 530.19h2.8M533.38 532.81h2.8M536.54 527.22V530.43M535.14 527.22h2.8M535.14 530.43h2.8M538.29 520.20V523.03M536.89 520.20h2.8M536.89 523.03h2.8M540.05 515.72V518.64M538.65 515.72h2.8M538.65 518.64h2.8M541.81 513.78V516.49M540.41 513.78h2.8M540.41 516.49h2.8M543.57 511.26V514.83M542.17 511.26h2.8M542.17 514.83h2.8M545.33 509.79V513.04M543.93 509.79h2.8M543.93 513.04h2.8M547.08 509.04V511.66M545.68 509.04h2.8M545.68 511.66h2.8M548.84 507.35V510.17M547.44 507.35h2.8M547.44 510.17h2.8M550.60 506.30V508.77M549.20 506.30h2.8M549.20 508.77h2.8M552.36 502.82V510.04M550.96 502.82h2.8M550.96 510.04h2.8M554.11 504.00V506.93M552.71 504.00h2.8M552.71 506.93h2.8M555.87 503.17V506.26M554.47 503.17h2.8M554.47 506.26h2.8M557.63 501.91V505.37M556.23 501.91h2.8M556.23 505.37h2.8M559.39 501.45V504.25M557.99 501.45h2.8M557.99 504.25h2.8M561.15 500.72V504.25M559.75 500.72h2.8M559.75 504.25h2.8M562.90 500.41V503.90M561.50 500.41h2.8M561.50 503.90h2.8M564.66 500.20V502.77M563.26 500.20h2.8M563.26 502.77h2.8M566.42 498.84V501.70M565.02 498.84h2.8M565.02 501.70h2.8M568.18 498.56V500.96M566.78 498.56h2.8M566.78 500.96h2.8M569.93 497.91V501.25M568.53 497.91h2.8M568.53 501.25h2.8M571.69 497.59V500.00M570.29 497.59h2.8M570.29 500.00h2.8M573.45 497.33V500.23M572.05 497.33h2.8M572.05 500.23h2.8M575.21 497.09V500.18M573.81 497.09h2.8M573.81 500.18h2.8M576.97 496.05V498.94M575.57 496.05h2.8M575.57 498.94h2.8M578.72 495.66V499.21M577.32 495.66h2.8M577.32 499.21h2.8M580.48 495.56V498.69M579.08 495.56h2.8M579.08 498.69h2.8M582.24 495.38V498.23M580.84 495.38h2.8M580.84 498.23h2.8M584.00 494.67V498.15M582.60 494.67h2.8M582.60 498.15h2.8M585.76 494.39V497.73M584.36 494.39h2.8M584.36 497.73h2.8M587.51 493.48V497.06M586.11 493.48h2.8M586.11 497.06h2.8M589.27 494.09V496.88M587.87 494.09h2.8M587.87 496.88h2.8M591.03 493.94V496.65M589.63 493.94h2.8M589.63 496.65h2.8M592.79 492.91V495.50M591.39 492.91h2.8M591.39 495.50h2.8M594.54 493.00V495.98M593.14 493.00h2.8M593.14 495.98h2.8M596.30 490.77V494.28M594.90 490.77h2.8M594.90 494.28h2.8M598.06 489.32V492.83M596.66 489.32h2.8M596.66 492.83h2.8M599.82 488.93V491.50M598.42 488.93h2.8M598.42 491.50h2.8M601.58 488.55V491.64M600.18 488.55h2.8M600.18 491.64h2.8M603.33 488.40V491.50M601.93 488.40h2.8M601.93 491.50h2.8M605.09 488.08V491.60M603.69 488.08h2.8M603.69 491.60h2.8M606.85 488.91V492.25M605.45 488.91h2.8M605.45 492.25h2.8M608.61 488.34V491.07M607.21 488.34h2.8M607.21 491.07h2.8M610.37 486.29V489.73M608.97 486.29h2.8M608.97 489.73h2.8M612.12 486.04V489.31M610.72 486.04h2.8M610.72 489.31h2.8M613.88 486.79V490.07M612.48 486.79h2.8M612.48 490.07h2.8M615.64 486.98V489.49M614.24 486.98h2.8M614.24 489.49h2.8M617.40 486.88V490.15M616.00 486.88h2.8M616.00 490.15h2.8M619.15 487.21V490.39M617.75 487.21h2.8M617.75 490.39h2.8M620.91 487.95V490.80M619.51 487.95h2.8M619.51 490.80h2.8M622.67 488.65V492.18M621.27 488.65h2.8M621.27 492.18h2.8M624.43 489.54V492.45M623.03 489.54h2.8M623.03 492.45h2.8M626.19 490.06V493.43M624.79 490.06h2.8M624.79 493.43h2.8M627.94 491.26V494.21M626.54 491.26h2.8M626.54 494.21h2.8M629.70 492.55V495.44M628.30 492.55h2.8M628.30 495.44h2.8M631.46 494.02V496.98M630.06 494.02h2.8M630.06 496.98h2.8M633.22 495.37V498.67M631.82 495.37h2.8M631.82 498.67h2.8M634.98 494.87V502.08M633.58 494.87h2.8M633.58 502.08h2.8M636.73 497.17V500.75M635.33 497.17h2.8M635.33 500.75h2.8M638.49 498.41V501.70M637.09 498.41h2.8M637.09 501.70h2.8M640.25 499.24V502.40M638.85 499.24h2.8M638.85 502.40h2.8M642.01 500.79V503.49M640.61 500.79h2.8M640.61 503.49h2.8M643.76 501.18V503.62M642.37 501.18h2.8M642.37 503.62h2.8M645.52 502.09V504.59M644.12 502.09h2.8M644.12 504.59h2.8M647.28 496.18V503.65M645.88 496.18h2.8M645.88 503.65h2.8M649.04 498.69V501.65M647.64 498.69h2.8M647.64 501.65h2.8M650.80 506.85V510.12M649.40 506.85h2.8M649.40 510.12h2.8M652.55 515.44V518.26M651.15 515.44h2.8M651.15 518.26h2.8M654.31 522.81V525.43M652.91 522.81h2.8M652.91 525.43h2.8M656.07 525.42V528.80M654.67 525.42h2.8M654.67 528.80h2.8M657.83 527.52V530.15M656.43 527.52h2.8M656.43 530.15h2.8M659.59 528.80V531.61M658.19 528.80h2.8M658.19 531.61h2.8M661.34 528.98V532.50M659.94 528.98h2.8M659.94 532.50h2.8M663.10 529.73V533.07M661.70 529.73h2.8M661.70 533.07h2.8M664.86 529.84V533.34M663.46 529.84h2.8M663.46 533.34h2.8M666.62 529.89V533.38M665.22 529.89h2.8M665.22 533.38h2.8M668.38 530.31V533.88M666.98 530.31h2.8M666.98 533.88h2.8M670.13 530.34V533.49M668.73 530.34h2.8M668.73 533.49h2.8M671.89 530.08V533.51M670.49 530.08h2.8M670.49 533.51h2.8M673.65 531.37V533.88M672.25 531.37h2.8M672.25 533.88h2.8M675.41 530.77V534.14M674.01 530.77h2.8M674.01 534.14h2.8M677.16 530.41V533.70M675.76 530.41h2.8M675.76 533.70h2.8M678.92 531.60V534.55M677.52 531.60h2.8M677.52 534.55h2.8M680.68 531.35V534.91M679.28 531.35h2.8M679.28 534.91h2.8M682.44 531.64V534.23M681.04 531.64h2.8M681.04 534.23h2.8M684.20 531.85V534.92M682.80 531.85h2.8M682.80 534.92h2.8M685.95 532.55V535.15M684.55 532.55h2.8M684.55 535.15h2.8M687.71 532.03V534.99M686.31 532.03h2.8M686.31 534.99h2.8M689.47 532.36V535.08M688.07 532.36h2.8M688.07 535.08h2.8M691.23 532.23V535.29M689.83 532.23h2.8M689.83 535.29h2.8M692.98 532.64V535.75M691.58 532.64h2.8M691.58 535.75h2.8M694.74 532.74V536.20M693.34 532.74h2.8M693.34 536.20h2.8M696.50 532.86V536.41M695.10 532.86h2.8M695.10 536.41h2.8M698.26 533.66V536.23M696.86 533.66h2.8M696.86 536.23h2.8M700.02 532.45V536.01M698.62 532.45h2.8M698.62 536.01h2.8M701.77 533.02V536.07M700.37 533.02h2.8M700.37 536.07h2.8M703.53 533.91V536.34M702.13 533.91h2.8M702.13 536.34h2.8M705.29 533.88V536.43M703.89 533.88h2.8M703.89 536.43h2.8M707.05 533.47V536.63M705.65 533.47h2.8M705.65 536.63h2.8M708.81 533.46V537.00M707.41 533.46h2.8M707.41 537.00h2.8M710.56 533.57V536.40M709.16 533.57h2.8M709.16 536.40h2.8M712.32 534.10V537.26M710.92 534.10h2.8M710.92 537.26h2.8M714.08 533.66V537.10M712.68 533.66h2.8M712.68 537.10h2.8M715.84 533.91V536.75M714.44 533.91h2.8M714.44 536.75h2.8M717.60 533.83V536.59M716.20 533.83h2.8M716.20 536.59h2.8M719.35 533.89V536.58M717.95 533.89h2.8M717.95 536.58h2.8M721.11 532.87V539.35M719.71 532.87h2.8M719.71 539.35h2.8M722.87 534.58V537.64M721.47 534.58h2.8M721.47 537.64h2.8M724.63 533.93V536.94M723.23 533.93h2.8M723.23 536.94h2.8M726.38 534.12V537.53M724.98 534.12h2.8M724.98 537.53h2.8M728.14 534.47V537.69M726.74 534.47h2.8M726.74 537.69h2.8M729.90 534.39V537.99M728.50 534.39h2.8M728.50 537.99h2.8" stroke="#8fd38f" stroke-width="0.9" fill="none"/><g fill="#f25c0c"><circle cx="485.56" cy="529.46" r="2.8"/><circle cx="487.32" cy="529.71" r="2.8"/><circle cx="489.07" cy="529.24" r="2.8"/><circle cx="490.83" cy="529.45" r="2.8"/><circle cx="492.59" cy="529.43" r="2.8"/><circle cx="494.35" cy="530.37" r="2.8"/><circle cx="496.11" cy="529.66" r="2.8"/><circle cx="497.86" cy="529.74" r="2.8"/><circle cx="499.62" cy="530.18" r="2.8"/><circle cx="501.38" cy="530.29" r="2.8"/><circle cx="503.14" cy="530.64" r="2.8"/><circle cx="504.89" cy="529.87" r="2.8"/><circle cx="506.65" cy="530.09" r="2.8"/><circle cx="508.41" cy="530.08" r="2.8"/><circle cx="510.17" cy="530.54" r="2.8"/><circle cx="511.93" cy="530.46" r="2.8"/><circle cx="513.68" cy="530.47" r="2.8"/><circle cx="515.44" cy="530.97" r="2.8"/><circle cx="517.20" cy="530.63" r="2.8"/><circle cx="518.96" cy="530.71" r="2.8"/><circle cx="520.72" cy="530.70" r="2.8"/><circle cx="522.47" cy="529.90" r="2.8"/><circle cx="524.23" cy="530.46" r="2.8"/><circle cx="525.99" cy="529.81" r="2.8"/><circle cx="527.75" cy="529.34" r="2.8"/><circle cx="529.50" cy="529.89" r="2.8"/><circle cx="531.26" cy="527.77" r="2.8"/><circle cx="533.02" cy="526.38" r="2.8"/><circle cx="534.78" cy="525.35" r="2.8"/><circle cx="536.54" cy="523.27" r="2.8"/><circle cx="538.29" cy="518.63" r="2.8"/><circle cx="540.05" cy="514.04" r="2.8"/><circle cx="541.81" cy="512.43" r="2.8"/><circle cx="543.57" cy="511.38" r="2.8"/><circle cx="545.33" cy="510.64" r="2.8"/><circle cx="547.08" cy="510.00" r="2.8"/><circle cx="548.84" cy="509.24" r="2.8"/><circle cx="550.60" cy="508.50" r="2.8"/><circle cx="552.36" cy="507.51" r="2.8"/><circle cx="554.11" cy="507.02" r="2.8"/><circle cx="555.87" cy="506.78" r="2.8"/><circle cx="557.63" cy="506.06" r="2.8"/><circle cx="559.39" cy="505.62" r="2.8"/><circle cx="561.15" cy="505.07" r="2.8"/><circle cx="562.90" cy="504.48" r="2.8"/><circle cx="564.66" cy="503.06" r="2.8"/><circle cx="566.42" cy="502.29" r="2.8"/><circle cx="568.18" cy="502.64" r="2.8"/><circle cx="569.93" cy="501.92" r="2.8"/><circle cx="571.69" cy="501.14" r="2.8"/><circle cx="573.45" cy="501.26" r="2.8"/><circle cx="575.21" cy="500.43" r="2.8"/><circle cx="576.97" cy="500.02" r="2.8"/><circle cx="578.72" cy="499.76" r="2.8"/><circle cx="580.48" cy="499.53" r="2.8"/><circle cx="582.24" cy="499.10" r="2.8"/><circle cx="584.00" cy="497.91" r="2.8"/><circle cx="585.76" cy="497.99" r="2.8"/><circle cx="587.51" cy="497.29" r="2.8"/><circle cx="589.27" cy="496.55" r="2.8"/><circle cx="591.03" cy="496.16" r="2.8"/><circle cx="592.79" cy="495.70" r="2.8"/><circle cx="594.54" cy="494.18" r="2.8"/><circle cx="596.30" cy="493.57" r="2.8"/><circle cx="598.06" cy="492.70" r="2.8"/><circle cx="599.82" cy="491.66" r="2.8"/><circle cx="601.58" cy="490.53" r="2.8"/><circle cx="603.33" cy="489.40" r="2.8"/><circle cx="605.09" cy="489.74" r="2.8"/><circle cx="606.85" cy="489.14" r="2.8"/><circle cx="608.61" cy="488.15" r="2.8"/><circle cx="610.37" cy="487.93" r="2.8"/><circle cx="612.12" cy="488.54" r="2.8"/><circle cx="613.88" cy="487.87" r="2.8"/><circle cx="615.64" cy="488.16" r="2.8"/><circle cx="617.40" cy="488.79" r="2.8"/><circle cx="619.15" cy="488.81" r="2.8"/><circle cx="620.91" cy="488.22" r="2.8"/><circle cx="622.67" cy="489.27" r="2.8"/><circle cx="624.43" cy="489.50" r="2.8"/><circle cx="626.19" cy="490.41" r="2.8"/><circle cx="627.94" cy="491.11" r="2.8"/><circle cx="629.70" cy="491.04" r="2.8"/><circle cx="631.46" cy="491.71" r="2.8"/><circle cx="633.22" cy="492.27" r="2.8"/><circle cx="634.98" cy="492.94" r="2.8"/><circle cx="636.73" cy="493.52" r="2.8"/><circle cx="638.49" cy="494.44" r="2.8"/><circle cx="640.25" cy="495.41" r="2.8"/><circle cx="642.01" cy="495.42" r="2.8"/><circle cx="643.76" cy="495.08" r="2.8"/><circle cx="645.52" cy="495.58" r="2.8"/><circle cx="647.28" cy="495.94" r="2.8"/><circle cx="649.04" cy="497.77" r="2.8"/><circle cx="650.80" cy="499.77" r="2.8"/><circle cx="652.55" cy="517.92" r="2.8"/><circle cx="654.31" cy="522.00" r="2.8"/><circle cx="656.07" cy="523.04" r="2.8"/><circle cx="657.83" cy="524.04" r="2.8"/><circle cx="659.59" cy="523.85" r="2.8"/><circle cx="661.34" cy="524.77" r="2.8"/><circle cx="663.10" cy="524.53" r="2.8"/><circle cx="664.86" cy="525.01" r="2.8"/><circle cx="666.62" cy="525.87" r="2.8"/><circle cx="668.38" cy="525.94" r="2.8"/><circle cx="670.13" cy="526.28" r="2.8"/><circle cx="671.89" cy="526.36" r="2.8"/><circle cx="673.65" cy="526.62" r="2.8"/><circle cx="675.41" cy="526.96" r="2.8"/><circle cx="677.16" cy="527.41" r="2.8"/><circle cx="678.92" cy="526.80" r="2.8"/><circle cx="680.68" cy="527.54" r="2.8"/><circle cx="682.44" cy="527.24" r="2.8"/><circle cx="684.20" cy="527.36" r="2.8"/><circle cx="685.95" cy="528.10" r="2.8"/><circle cx="687.71" cy="528.05" r="2.8"/><circle cx="689.47" cy="528.46" r="2.8"/><circle cx="691.23" cy="528.65" r="2.8"/><circle cx="692.98" cy="528.53" r="2.8"/><circle cx="694.74" cy="528.31" r="2.8"/><circle cx="696.50" cy="528.28" r="2.8"/><circle cx="698.26" cy="528.94" r="2.8"/><circle cx="700.02" cy="529.28" r="2.8"/><circle cx="701.77" cy="528.98" r="2.8"/><circle cx="703.53" cy="528.93" r="2.8"/><circle cx="705.29" cy="529.01" r="2.8"/><circle cx="707.05" cy="529.33" r="2.8"/><circle cx="708.81" cy="530.00" r="2.8"/><circle cx="710.56" cy="529.46" r="2.8"/><circle cx="712.32" cy="529.83" r="2.8"/><circle cx="714.08" cy="530.01" r="2.8"/><circle cx="715.84" cy="530.60" r="2.8"/><circle cx="717.60" cy="531.01" r="2.8"/><circle cx="719.35" cy="530.18" r="2.8"/><circle cx="721.11" cy="530.41" r="2.8"/><circle cx="722.87" cy="531.37" r="2.8"/><circle cx="724.63" cy="531.55" r="2.8"/><circle cx="726.38" cy="530.86" r="2.8"/><circle cx="728.14" cy="531.19" r="2.8"/><circle cx="729.90" cy="531.51" r="2.8"/></g><g fill="#11a011"><circle cx="485.56" cy="535.61" r="2.9"/><circle cx="487.32" cy="535.98" r="2.9"/><circle cx="489.07" cy="535.39" r="2.9"/><circle cx="490.83" cy="535.64" r="2.9"/><circle cx="492.59" cy="535.81" r="2.9"/><circle cx="494.35" cy="536.36" r="2.9"/><circle cx="496.11" cy="535.96" r="2.9"/><circle cx="497.86" cy="536.45" r="2.9"/><circle cx="499.62" cy="536.40" r="2.9"/><circle cx="501.38" cy="536.57" r="2.9"/><circle cx="503.14" cy="536.04" r="2.9"/><circle cx="504.89" cy="536.86" r="2.9"/><circle cx="506.65" cy="536.90" r="2.9"/><circle cx="508.41" cy="536.46" r="2.9"/><circle cx="510.17" cy="536.70" r="2.9"/><circle cx="511.93" cy="536.08" r="2.9"/><circle cx="513.68" cy="536.81" r="2.9"/><circle cx="515.44" cy="536.45" r="2.9"/><circle cx="517.20" cy="536.66" r="2.9"/><circle cx="518.96" cy="536.77" r="2.9"/><circle cx="520.72" cy="536.26" r="2.9"/><circle cx="522.47" cy="536.82" r="2.9"/><circle cx="524.23" cy="536.11" r="2.9"/><circle cx="525.99" cy="535.83" r="2.9"/><circle cx="527.75" cy="535.73" r="2.9"/><circle cx="529.50" cy="535.55" r="2.9"/><circle cx="531.26" cy="534.97" r="2.9"/><circle cx="533.02" cy="534.15" r="2.9"/><circle cx="534.78" cy="531.50" r="2.9"/><circle cx="536.54" cy="528.83" r="2.9"/><circle cx="538.29" cy="521.62" r="2.9"/><circle cx="540.05" cy="517.18" r="2.9"/><circle cx="541.81" cy="515.14" r="2.9"/><circle cx="543.57" cy="513.04" r="2.9"/><circle cx="545.33" cy="511.42" r="2.9"/><circle cx="547.08" cy="510.35" r="2.9"/><circle cx="548.84" cy="508.76" r="2.9"/><circle cx="550.60" cy="507.53" r="2.9"/><circle cx="552.36" cy="506.43" r="2.9"/><circle cx="554.11" cy="505.47" r="2.9"/><circle cx="555.87" cy="504.72" r="2.9"/><circle cx="557.63" cy="503.64" r="2.9"/><circle cx="559.39" cy="502.85" r="2.9"/><circle cx="561.15" cy="502.48" r="2.9"/><circle cx="562.90" cy="502.16" r="2.9"/><circle cx="564.66" cy="501.48" r="2.9"/><circle cx="566.42" cy="500.27" r="2.9"/><circle cx="568.18" cy="499.76" r="2.9"/><circle cx="569.93" cy="499.58" r="2.9"/><circle cx="571.69" cy="498.79" r="2.9"/><circle cx="573.45" cy="498.78" r="2.9"/><circle cx="575.21" cy="498.64" r="2.9"/><circle cx="576.97" cy="497.49" r="2.9"/><circle cx="578.72" cy="497.43" r="2.9"/><circle cx="580.48" cy="497.13" r="2.9"/><circle cx="582.24" cy="496.80" r="2.9"/><circle cx="584.00" cy="496.41" r="2.9"/><circle cx="585.76" cy="496.06" r="2.9"/><circle cx="587.51" cy="495.27" r="2.9"/><circle cx="589.27" cy="495.48" r="2.9"/><circle cx="591.03" cy="495.30" r="2.9"/><circle cx="592.79" cy="494.20" r="2.9"/><circle cx="594.54" cy="494.49" r="2.9"/><circle cx="596.30" cy="492.52" r="2.9"/><circle cx="598.06" cy="491.08" r="2.9"/><circle cx="599.82" cy="490.21" r="2.9"/><circle cx="601.58" cy="490.10" r="2.9"/><circle cx="603.33" cy="489.95" r="2.9"/><circle cx="605.09" cy="489.84" r="2.9"/><circle cx="606.85" cy="490.58" r="2.9"/><circle cx="608.61" cy="489.71" r="2.9"/><circle cx="610.37" cy="488.01" r="2.9"/><circle cx="612.12" cy="487.67" r="2.9"/><circle cx="613.88" cy="488.43" r="2.9"/><circle cx="615.64" cy="488.23" r="2.9"/><circle cx="617.40" cy="488.51" r="2.9"/><circle cx="619.15" cy="488.80" r="2.9"/><circle cx="620.91" cy="489.38" r="2.9"/><circle cx="622.67" cy="490.42" r="2.9"/><circle cx="624.43" cy="490.99" r="2.9"/><circle cx="626.19" cy="491.74" r="2.9"/><circle cx="627.94" cy="492.73" r="2.9"/><circle cx="629.70" cy="494.00" r="2.9"/><circle cx="631.46" cy="495.50" r="2.9"/><circle cx="633.22" cy="497.02" r="2.9"/><circle cx="634.98" cy="498.48" r="2.9"/><circle cx="636.73" cy="498.96" r="2.9"/><circle cx="638.49" cy="500.06" r="2.9"/><circle cx="640.25" cy="500.82" r="2.9"/><circle cx="642.01" cy="502.14" r="2.9"/><circle cx="643.76" cy="502.40" r="2.9"/><circle cx="645.52" cy="503.34" r="2.9"/><circle cx="647.28" cy="499.91" r="2.9"/><circle cx="649.04" cy="500.17" r="2.9"/><circle cx="650.80" cy="508.48" r="2.9"/><circle cx="652.55" cy="516.85" r="2.9"/><circle cx="654.31" cy="524.12" r="2.9"/><circle cx="656.07" cy="527.11" r="2.9"/><circle cx="657.83" cy="528.84" r="2.9"/><circle cx="659.59" cy="530.20" r="2.9"/><circle cx="661.34" cy="530.74" r="2.9"/><circle cx="663.10" cy="531.40" r="2.9"/><circle cx="664.86" cy="531.59" r="2.9"/><circle cx="666.62" cy="531.64" r="2.9"/><circle cx="668.38" cy="532.10" r="2.9"/><circle cx="670.13" cy="531.92" r="2.9"/><circle cx="671.89" cy="531.79" r="2.9"/><circle cx="673.65" cy="532.63" r="2.9"/><circle cx="675.41" cy="532.45" r="2.9"/><circle cx="677.16" cy="532.05" r="2.9"/><circle cx="678.92" cy="533.07" r="2.9"/><circle cx="680.68" cy="533.13" r="2.9"/><circle cx="682.44" cy="532.93" r="2.9"/><circle cx="684.20" cy="533.38" r="2.9"/><circle cx="685.95" cy="533.85" r="2.9"/><circle cx="687.71" cy="533.51" r="2.9"/><circle cx="689.47" cy="533.72" r="2.9"/><circle cx="691.23" cy="533.76" r="2.9"/><circle cx="692.98" cy="534.19" r="2.9"/><circle cx="694.74" cy="534.47" r="2.9"/><circle cx="696.50" cy="534.64" r="2.9"/><circle cx="698.26" cy="534.94" r="2.9"/><circle cx="700.02" cy="534.23" r="2.9"/><circle cx="701.77" cy="534.55" r="2.9"/><circle cx="703.53" cy="535.12" r="2.9"/><circle cx="705.29" cy="535.16" r="2.9"/><circle cx="707.05" cy="535.05" r="2.9"/><circle cx="708.81" cy="535.23" r="2.9"/><circle cx="710.56" cy="534.98" r="2.9"/><circle cx="712.32" cy="535.68" r="2.9"/><circle cx="714.08" cy="535.38" r="2.9"/><circle cx="715.84" cy="535.33" r="2.9"/><circle cx="717.60" cy="535.21" r="2.9"/><circle cx="719.35" cy="535.23" r="2.9"/><circle cx="721.11" cy="536.11" r="2.9"/><circle cx="722.87" cy="536.11" r="2.9"/><circle cx="724.63" cy="535.43" r="2.9"/><circle cx="726.38" cy="535.83" r="2.9"/><circle cx="728.14" cy="536.08" r="2.9"/><circle cx="729.90" cy="536.19" r="2.9"/></g><rect x="174.5" y="462.4" width="34.7" height="37.1" fill="none" stroke="#2f86d6" stroke-width="1.2"/><line x1="209.2" y1="499.5" x2="252" y2="516.3" stroke="#2f86d6" stroke-width="1"/><path d="M257.6 518.5 L249.6 519.8 L252.4 512.6 Z" fill="#1d78d2"/><rect x="259.3" y="514.3" width="69.5" height="42.2" fill="#fff" stroke="#b5d9f5" stroke-width="1"/><line x1="262.78" y1="528.92" x2="262.78" y2="539.72" stroke="#fde3d2" stroke-width="0.7"/><line x1="262.78" y1="542.46" x2="262.78" y2="551.06" stroke="#d9f2d9" stroke-width="0.7"/><rect x="261.98" y="533.52" width="1.6" height="1.6" fill="#f25c0c"/><rect x="261.98" y="545.96" width="1.6" height="1.6" fill="#11a011"/><line x1="266.14" y1="523.19" x2="266.14" y2="533.99" stroke="#fde3d2" stroke-width="0.7"/><line x1="266.14" y1="540.84" x2="266.14" y2="549.44" stroke="#d9f2d9" stroke-width="0.7"/><rect x="265.34" y="527.79" width="1.6" height="1.6" fill="#f25c0c"/><rect x="265.34" y="544.34" width="1.6" height="1.6" fill="#11a011"/><line x1="269.49" y1="523.52" x2="269.49" y2="534.32" stroke="#fde3d2" stroke-width="0.7"/><line x1="269.49" y1="540.08" x2="269.49" y2="548.68" stroke="#d9f2d9" stroke-width="0.7"/><rect x="268.69" y="528.12" width="1.6" height="1.6" fill="#f25c0c"/><rect x="268.69" y="543.58" width="1.6" height="1.6" fill="#11a011"/><line x1="272.84" y1="524.28" x2="272.84" y2="535.08" stroke="#fde3d2" stroke-width="0.7"/><line x1="272.84" y1="540.29" x2="272.84" y2="548.89" stroke="#d9f2d9" stroke-width="0.7"/><rect x="272.04" y="528.88" width="1.6" height="1.6" fill="#f25c0c"/><rect x="272.04" y="543.79" width="1.6" height="1.6" fill="#11a011"/><line x1="276.19" y1="522.76" x2="276.19" y2="533.56" stroke="#fde3d2" stroke-width="0.7"/><line x1="276.19" y1="537.59" x2="276.19" y2="546.19" stroke="#d9f2d9" stroke-width="0.7"/><rect x="275.39" y="527.36" width="1.6" height="1.6" fill="#f25c0c"/><rect x="275.39" y="541.09" width="1.6" height="1.6" fill="#11a011"/><line x1="279.54" y1="522.11" x2="279.54" y2="532.91" stroke="#fde3d2" stroke-width="0.7"/><line x1="279.54" y1="537.92" x2="279.54" y2="546.52" stroke="#d9f2d9" stroke-width="0.7"/><rect x="278.74" y="526.71" width="1.6" height="1.6" fill="#f25c0c"/><rect x="278.74" y="541.42" width="1.6" height="1.6" fill="#11a011"/><line x1="282.89" y1="521.90" x2="282.89" y2="532.70" stroke="#fde3d2" stroke-width="0.7"/><line x1="282.89" y1="537.81" x2="282.89" y2="546.41" stroke="#d9f2d9" stroke-width="0.7"/><rect x="282.09" y="526.50" width="1.6" height="1.6" fill="#f25c0c"/><rect x="282.09" y="541.31" width="1.6" height="1.6" fill="#11a011"/><line x1="286.24" y1="522.44" x2="286.24" y2="533.24" stroke="#fde3d2" stroke-width="0.7"/><line x1="286.24" y1="538.35" x2="286.24" y2="546.95" stroke="#d9f2d9" stroke-width="0.7"/><rect x="285.44" y="527.04" width="1.6" height="1.6" fill="#f25c0c"/><rect x="285.44" y="541.85" width="1.6" height="1.6" fill="#11a011"/><line x1="289.59" y1="522.11" x2="289.59" y2="532.91" stroke="#fde3d2" stroke-width="0.7"/><line x1="289.59" y1="536.73" x2="289.59" y2="545.33" stroke="#d9f2d9" stroke-width="0.7"/><rect x="288.79" y="526.71" width="1.6" height="1.6" fill="#f25c0c"/><rect x="288.79" y="540.23" width="1.6" height="1.6" fill="#11a011"/><line x1="292.95" y1="522.76" x2="292.95" y2="533.56" stroke="#fde3d2" stroke-width="0.7"/><line x1="292.95" y1="535.11" x2="292.95" y2="543.71" stroke="#d9f2d9" stroke-width="0.7"/><rect x="292.15" y="527.36" width="1.6" height="1.6" fill="#f25c0c"/><rect x="292.15" y="538.61" width="1.6" height="1.6" fill="#11a011"/><line x1="296.30" y1="521.03" x2="296.30" y2="531.83" stroke="#fde3d2" stroke-width="0.7"/><line x1="296.30" y1="537.59" x2="296.30" y2="546.19" stroke="#d9f2d9" stroke-width="0.7"/><rect x="295.50" y="525.63" width="1.6" height="1.6" fill="#f25c0c"/><rect x="295.50" y="541.09" width="1.6" height="1.6" fill="#11a011"/><line x1="299.65" y1="522.11" x2="299.65" y2="532.91" stroke="#fde3d2" stroke-width="0.7"/><line x1="299.65" y1="538.35" x2="299.65" y2="546.95" stroke="#d9f2d9" stroke-width="0.7"/><rect x="298.85" y="526.71" width="1.6" height="1.6" fill="#f25c0c"/><rect x="298.85" y="541.85" width="1.6" height="1.6" fill="#11a011"/><line x1="303.00" y1="521.90" x2="303.00" y2="532.70" stroke="#fde3d2" stroke-width="0.7"/><line x1="303.00" y1="538.13" x2="303.00" y2="546.73" stroke="#d9f2d9" stroke-width="0.7"/><rect x="302.20" y="526.50" width="1.6" height="1.6" fill="#f25c0c"/><rect x="302.20" y="541.63" width="1.6" height="1.6" fill="#11a011"/><line x1="306.35" y1="522.76" x2="306.35" y2="533.56" stroke="#fde3d2" stroke-width="0.7"/><line x1="306.35" y1="538.67" x2="306.35" y2="547.27" stroke="#d9f2d9" stroke-width="0.7"/><rect x="305.55" y="527.36" width="1.6" height="1.6" fill="#f25c0c"/><rect x="305.55" y="542.17" width="1.6" height="1.6" fill="#11a011"/><line x1="309.70" y1="522.65" x2="309.70" y2="533.45" stroke="#fde3d2" stroke-width="0.7"/><line x1="309.70" y1="538.67" x2="309.70" y2="547.27" stroke="#d9f2d9" stroke-width="0.7"/><rect x="308.90" y="527.25" width="1.6" height="1.6" fill="#f25c0c"/><rect x="308.90" y="542.17" width="1.6" height="1.6" fill="#11a011"/><line x1="313.05" y1="522.44" x2="313.05" y2="533.24" stroke="#fde3d2" stroke-width="0.7"/><line x1="313.05" y1="538.67" x2="313.05" y2="547.27" stroke="#d9f2d9" stroke-width="0.7"/><rect x="312.25" y="527.04" width="1.6" height="1.6" fill="#f25c0c"/><rect x="312.25" y="542.17" width="1.6" height="1.6" fill="#11a011"/><line x1="316.41" y1="522.44" x2="316.41" y2="533.24" stroke="#fde3d2" stroke-width="0.7"/><line x1="316.41" y1="538.67" x2="316.41" y2="547.27" stroke="#d9f2d9" stroke-width="0.7"/><rect x="315.61" y="527.04" width="1.6" height="1.6" fill="#f25c0c"/><rect x="315.61" y="542.17" width="1.6" height="1.6" fill="#11a011"/><line x1="319.76" y1="522.98" x2="319.76" y2="533.78" stroke="#fde3d2" stroke-width="0.7"/><line x1="319.76" y1="538.89" x2="319.76" y2="547.49" stroke="#d9f2d9" stroke-width="0.7"/><rect x="318.96" y="527.58" width="1.6" height="1.6" fill="#f25c0c"/><rect x="318.96" y="542.39" width="1.6" height="1.6" fill="#11a011"/><line x1="323.11" y1="522.98" x2="323.11" y2="533.78" stroke="#fde3d2" stroke-width="0.7"/><line x1="323.11" y1="538.46" x2="323.11" y2="547.06" stroke="#d9f2d9" stroke-width="0.7"/><rect x="322.31" y="527.58" width="1.6" height="1.6" fill="#f25c0c"/><rect x="322.31" y="541.96" width="1.6" height="1.6" fill="#11a011"/><line x1="326.46" y1="522.22" x2="326.46" y2="533.02" stroke="#fde3d2" stroke-width="0.7"/><line x1="326.46" y1="539.21" x2="326.46" y2="547.81" stroke="#d9f2d9" stroke-width="0.7"/><rect x="325.66" y="526.82" width="1.6" height="1.6" fill="#f25c0c"/><rect x="325.66" y="542.71" width="1.6" height="1.6" fill="#11a011"/><g transform="translate(202.8,515.4) rotate(20.5)" fill="#8a8a8a" font-size="12.6" font-style="italic"><text x="0" y="0">zoom C2</text><text x="-1.5" y="13.8">(case 2)</text></g><rect x="484.2" y="520.6" width="33.7" height="24.7" fill="none" stroke="#2f86d6" stroke-width="1.2"/><line x1="520.8" y1="545.5" x2="566.5" y2="545.5" stroke="#8fc3ee" stroke-width="1"/><path d="M571.9 545.5 L565.6 542.9 L565.6 548.1 Z" fill="#1d78d2"/><rect x="574.3" y="518.3" width="67.3" height="41.1" fill="#fff" stroke="#b5d9f5" stroke-width="1"/><line x1="577.78" y1="523.00" x2="577.78" y2="533.00" stroke="#fde3d2" stroke-width="0.7"/><line x1="577.78" y1="535.73" x2="577.78" y2="547.73" stroke="#d9f2d9" stroke-width="0.7"/><rect x="576.98" y="527.20" width="1.6" height="1.6" fill="#f25c0c"/><rect x="576.98" y="540.93" width="1.6" height="1.6" fill="#11a011"/><line x1="581.07" y1="523.76" x2="581.07" y2="533.76" stroke="#fde3d2" stroke-width="0.7"/><line x1="581.07" y1="533.89" x2="581.07" y2="545.89" stroke="#d9f2d9" stroke-width="0.7"/><rect x="580.27" y="527.96" width="1.6" height="1.6" fill="#f25c0c"/><rect x="580.27" y="539.09" width="1.6" height="1.6" fill="#11a011"/><line x1="584.36" y1="524.30" x2="584.36" y2="534.30" stroke="#fde3d2" stroke-width="0.7"/><line x1="584.36" y1="536.05" x2="584.36" y2="548.05" stroke="#d9f2d9" stroke-width="0.7"/><rect x="583.56" y="528.50" width="1.6" height="1.6" fill="#f25c0c"/><rect x="583.56" y="541.25" width="1.6" height="1.6" fill="#11a011"/><line x1="587.64" y1="525.38" x2="587.64" y2="535.38" stroke="#fde3d2" stroke-width="0.7"/><line x1="587.64" y1="537.57" x2="587.64" y2="549.57" stroke="#d9f2d9" stroke-width="0.7"/><rect x="586.84" y="529.58" width="1.6" height="1.6" fill="#f25c0c"/><rect x="586.84" y="542.77" width="1.6" height="1.6" fill="#11a011"/><line x1="590.93" y1="524.51" x2="590.93" y2="534.51" stroke="#fde3d2" stroke-width="0.7"/><line x1="590.93" y1="537.57" x2="590.93" y2="549.57" stroke="#d9f2d9" stroke-width="0.7"/><rect x="590.13" y="528.71" width="1.6" height="1.6" fill="#f25c0c"/><rect x="590.13" y="542.77" width="1.6" height="1.6" fill="#11a011"/><line x1="594.22" y1="525.59" x2="594.22" y2="535.59" stroke="#fde3d2" stroke-width="0.7"/><line x1="594.22" y1="538.22" x2="594.22" y2="550.22" stroke="#d9f2d9" stroke-width="0.7"/><rect x="593.42" y="529.79" width="1.6" height="1.6" fill="#f25c0c"/><rect x="593.42" y="543.42" width="1.6" height="1.6" fill="#11a011"/><line x1="597.50" y1="526.46" x2="597.50" y2="536.46" stroke="#fde3d2" stroke-width="0.7"/><line x1="597.50" y1="537.68" x2="597.50" y2="549.68" stroke="#d9f2d9" stroke-width="0.7"/><rect x="596.70" y="530.66" width="1.6" height="1.6" fill="#f25c0c"/><rect x="596.70" y="542.88" width="1.6" height="1.6" fill="#11a011"/><line x1="600.79" y1="526.68" x2="600.79" y2="536.68" stroke="#fde3d2" stroke-width="0.7"/><line x1="600.79" y1="537.89" x2="600.79" y2="549.89" stroke="#d9f2d9" stroke-width="0.7"/><rect x="599.99" y="530.88" width="1.6" height="1.6" fill="#f25c0c"/><rect x="599.99" y="543.09" width="1.6" height="1.6" fill="#11a011"/><line x1="604.08" y1="525.38" x2="604.08" y2="535.38" stroke="#fde3d2" stroke-width="0.7"/><line x1="604.08" y1="537.68" x2="604.08" y2="549.68" stroke="#d9f2d9" stroke-width="0.7"/><rect x="603.28" y="529.58" width="1.6" height="1.6" fill="#f25c0c"/><rect x="603.28" y="542.88" width="1.6" height="1.6" fill="#11a011"/><line x1="607.36" y1="524.30" x2="607.36" y2="534.30" stroke="#fde3d2" stroke-width="0.7"/><line x1="607.36" y1="538.22" x2="607.36" y2="550.22" stroke="#d9f2d9" stroke-width="0.7"/><rect x="606.56" y="528.50" width="1.6" height="1.6" fill="#f25c0c"/><rect x="606.56" y="543.42" width="1.6" height="1.6" fill="#11a011"/><line x1="610.65" y1="525.92" x2="610.65" y2="535.92" stroke="#fde3d2" stroke-width="0.7"/><line x1="610.65" y1="536.81" x2="610.65" y2="548.81" stroke="#d9f2d9" stroke-width="0.7"/><rect x="609.85" y="530.12" width="1.6" height="1.6" fill="#f25c0c"/><rect x="609.85" y="542.01" width="1.6" height="1.6" fill="#11a011"/><line x1="613.94" y1="526.24" x2="613.94" y2="536.24" stroke="#fde3d2" stroke-width="0.7"/><line x1="613.94" y1="537.35" x2="613.94" y2="549.35" stroke="#d9f2d9" stroke-width="0.7"/><rect x="613.14" y="530.44" width="1.6" height="1.6" fill="#f25c0c"/><rect x="613.14" y="542.55" width="1.6" height="1.6" fill="#11a011"/><line x1="617.22" y1="525.92" x2="617.22" y2="535.92" stroke="#fde3d2" stroke-width="0.7"/><line x1="617.22" y1="537.35" x2="617.22" y2="549.35" stroke="#d9f2d9" stroke-width="0.7"/><rect x="616.42" y="530.12" width="1.6" height="1.6" fill="#f25c0c"/><rect x="616.42" y="542.55" width="1.6" height="1.6" fill="#11a011"/><line x1="620.51" y1="526.78" x2="620.51" y2="536.78" stroke="#fde3d2" stroke-width="0.7"/><line x1="620.51" y1="537.35" x2="620.51" y2="549.35" stroke="#d9f2d9" stroke-width="0.7"/><rect x="619.71" y="530.98" width="1.6" height="1.6" fill="#f25c0c"/><rect x="619.71" y="542.55" width="1.6" height="1.6" fill="#11a011"/><line x1="623.79" y1="527.32" x2="623.79" y2="537.32" stroke="#fde3d2" stroke-width="0.7"/><line x1="623.79" y1="537.57" x2="623.79" y2="549.57" stroke="#d9f2d9" stroke-width="0.7"/><rect x="622.99" y="531.52" width="1.6" height="1.6" fill="#f25c0c"/><rect x="622.99" y="542.77" width="1.6" height="1.6" fill="#11a011"/><line x1="627.08" y1="526.46" x2="627.08" y2="536.46" stroke="#fde3d2" stroke-width="0.7"/><line x1="627.08" y1="537.68" x2="627.08" y2="549.68" stroke="#d9f2d9" stroke-width="0.7"/><rect x="626.28" y="530.66" width="1.6" height="1.6" fill="#f25c0c"/><rect x="626.28" y="542.88" width="1.6" height="1.6" fill="#11a011"/><line x1="630.37" y1="526.24" x2="630.37" y2="536.24" stroke="#fde3d2" stroke-width="0.7"/><line x1="630.37" y1="537.14" x2="630.37" y2="549.14" stroke="#d9f2d9" stroke-width="0.7"/><rect x="629.57" y="530.44" width="1.6" height="1.6" fill="#f25c0c"/><rect x="629.57" y="542.34" width="1.6" height="1.6" fill="#11a011"/><line x1="633.65" y1="526.78" x2="633.65" y2="536.78" stroke="#fde3d2" stroke-width="0.7"/><line x1="633.65" y1="537.35" x2="633.65" y2="549.35" stroke="#d9f2d9" stroke-width="0.7"/><rect x="632.85" y="530.98" width="1.6" height="1.6" fill="#f25c0c"/><rect x="632.85" y="542.55" width="1.6" height="1.6" fill="#11a011"/><line x1="636.94" y1="526.46" x2="636.94" y2="536.46" stroke="#fde3d2" stroke-width="0.7"/><line x1="636.94" y1="537.35" x2="636.94" y2="549.35" stroke="#d9f2d9" stroke-width="0.7"/><rect x="636.14" y="530.66" width="1.6" height="1.6" fill="#f25c0c"/><rect x="636.14" y="542.55" width="1.6" height="1.6" fill="#11a011"/><line x1="640.23" y1="526.46" x2="640.23" y2="536.46" stroke="#fde3d2" stroke-width="0.7"/><line x1="640.23" y1="537.35" x2="640.23" y2="549.35" stroke="#d9f2d9" stroke-width="0.7"/><rect x="639.43" y="530.66" width="1.6" height="1.6" fill="#f25c0c"/><rect x="639.43" y="542.55" width="1.6" height="1.6" fill="#11a011"/><text x="514.1" y="558.1" font-size="13" font-style="italic" fill="#858585">Zoom C2</text></svg>
</body></html>
